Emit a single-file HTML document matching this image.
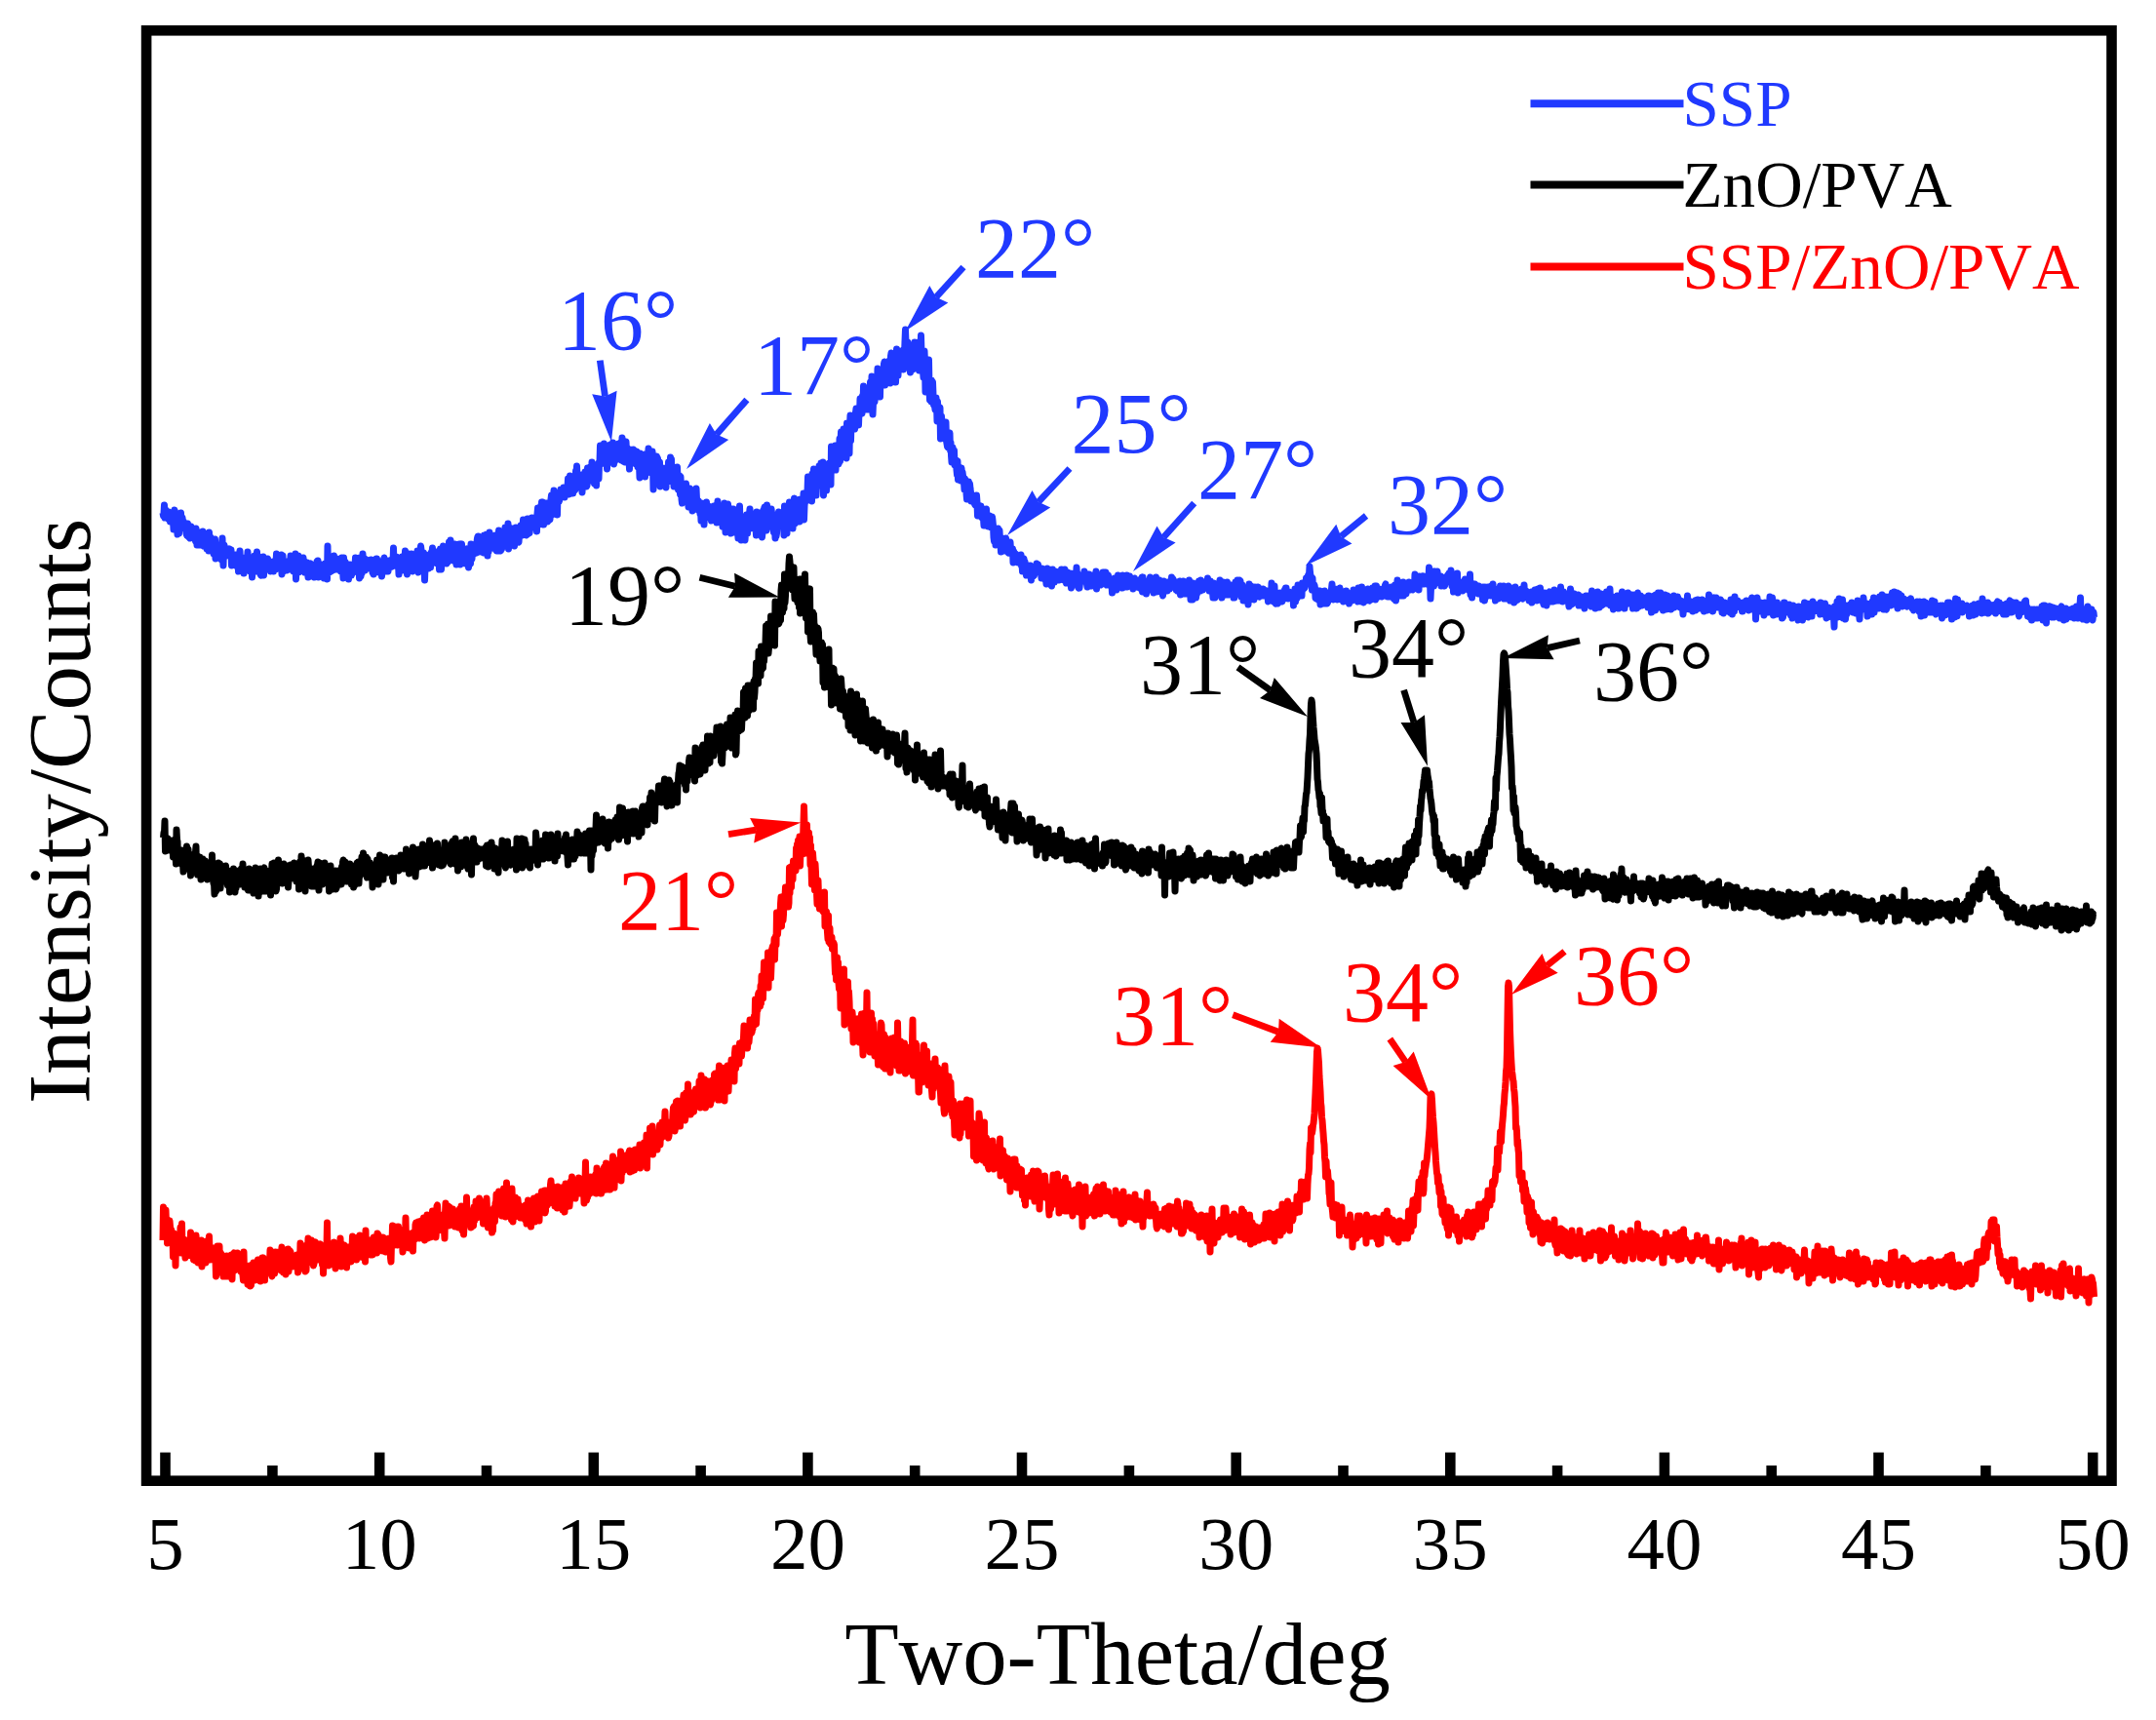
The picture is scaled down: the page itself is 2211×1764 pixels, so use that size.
<!DOCTYPE html>
<html><head><meta charset="utf-8"><title>XRD</title>
<style>
html,body{margin:0;padding:0;background:#fff}
svg{display:block}
text{font-family:"Liberation Serif",serif;font-kerning:none;font-variant-ligatures:none}
.c{fill:none;stroke-width:7;stroke-linejoin:round;stroke-linecap:butt}
.an{font-size:88px}
.tk{font-size:77px;text-anchor:middle}
.lg{font-size:67.2px}
.ax{font-size:90.8px;text-anchor:middle}
</style></head><body>
<svg width="2211" height="1764" viewBox="0 0 2211 1764">
<rect x="0" y="0" width="2211" height="1764" fill="#fff"/>

<path class="c" stroke="#2039ff" d="M167.0,526 167.5,529 168.0,527 168.5,518 169.0,531 169.5,528 170.0,523 170.5,530 171.0,529 171.5,529 172.0,528 172.5,532 173.0,525 173.5,529 174.0,528 174.5,535 175.0,532 175.5,531 176.0,529 176.5,532 177.0,535 177.5,533 178.0,543 178.5,542 179.0,523 179.5,525 180.0,535 180.5,533 181.0,537 181.5,537 182.0,548 182.5,529 183.0,533 183.5,547 184.0,539 184.5,539 185.0,532 185.5,526 186.0,537 186.5,538 187.0,531 187.5,535 188.0,539 188.5,535 189.0,540 189.5,542 190.0,543 190.5,540 191.0,547 191.5,549 192.0,547 192.5,537 193.0,550 193.5,543 194.0,551 194.5,540 195.0,552 195.5,547 196.0,540 196.5,546 197.0,548 197.5,550 198.0,543 198.5,543 199.0,551 199.5,547 200.0,552 200.5,555 201.0,542 201.5,553 202.0,559 202.5,551 203.0,548 203.5,558 204.0,555 204.5,559 205.0,552 205.5,546 206.0,554 206.5,552 207.0,559 207.5,556 208.0,545 208.5,548 209.0,560 209.5,559 210.0,552 210.5,556 211.0,559 211.5,560 212.0,563 212.5,560 213.0,558 213.5,557 214.0,565 214.5,546 215.0,559 215.5,560 216.0,551 216.5,562 217.0,556 217.5,565 218.0,560 218.5,565 219.0,568 219.5,564 220.0,557 220.5,553 221.0,573 221.5,562 222.0,559 222.5,564 223.0,562 223.5,568 224.0,564 224.5,564 225.0,560 225.5,567 226.0,559 226.5,569 227.0,574 227.5,557 228.0,552 228.5,570 229.0,580 229.5,561 230.0,559 230.5,570 231.0,562 231.5,564 232.0,565 232.5,570 233.0,565 233.5,569 234.0,566 234.5,563 235.0,566 235.5,563 236.0,569 236.5,564 237.0,564 237.5,580 238.0,572 238.5,573 239.0,577 239.5,570 240.0,573 240.5,578 241.0,578 241.5,569 242.0,580 242.5,572 243.0,570 243.5,571 244.0,574 244.5,586 245.0,570 245.5,578 246.0,565 246.5,578 247.0,583 247.5,576 248.0,574 248.5,579 249.0,581 249.5,580 250.0,588 250.5,577 251.0,572 251.5,574 252.0,574 252.5,575 253.0,574 253.5,576 254.0,566 254.5,581 255.0,573 255.5,571 256.0,582 256.5,586 257.0,582 257.5,580 258.0,574 258.5,592 259.0,584 259.5,572 260.0,575 260.5,580 261.0,570 261.5,580 262.0,576 262.5,586 263.0,585 263.5,566 264.0,579 264.5,570 265.0,585 265.5,580 266.0,582 266.5,572 267.0,589 267.5,590 268.0,572 268.5,580 269.0,574 269.5,578 270.0,571 270.5,590 271.0,573 271.5,577 272.0,582 272.5,575 273.0,578 273.5,576 274.0,579 274.5,573 275.0,577 275.5,579 276.0,579 276.5,581 277.0,580 277.5,586 278.0,581 278.5,582 279.0,579 279.5,580 280.0,576 280.5,586 281.0,576 281.5,578 282.0,584 282.5,584 283.0,578 283.5,568 284.0,582 284.5,580 285.0,570 285.5,583 286.0,571 286.5,571 287.0,578 287.5,577 288.0,579 288.5,569 289.0,589 289.5,575 290.0,570 290.5,586 291.0,578 291.5,582 292.0,578 292.5,580 293.0,582 293.5,576 294.0,585 294.5,578 295.0,576 295.5,581 296.0,583 296.5,579 297.0,575 297.5,584 298.0,570 298.5,574 299.0,580 299.5,572 300.0,581 300.5,580 301.0,586 301.5,576 302.0,577 302.5,583 303.0,568 303.5,594 304.0,577 304.5,577 305.0,586 305.5,581 306.0,570 306.5,587 307.0,585 307.5,578 308.0,579 308.5,583 309.0,575 309.5,583 310.0,581 310.5,576 311.0,572 311.5,579 312.0,576 312.5,587 313.0,582 313.5,586 314.0,582 314.5,583 315.0,577 315.5,586 316.0,592 316.5,580 317.0,578 317.5,580 318.0,579 318.5,578 319.0,583 319.5,580 320.0,591 320.5,582 321.0,584 321.5,588 322.0,581 322.5,592 323.0,580 323.5,579 324.0,582 324.5,583 325.0,576 325.5,584 326.0,575 326.5,592 327.0,584 327.5,581 328.0,579 328.5,582 329.0,583 329.5,579 330.0,580 330.5,583 331.0,583 331.5,591 332.0,593 332.5,586 333.0,589 333.5,578 334.0,589 334.5,585 335.0,588 335.5,594 336.0,560 336.5,586 337.0,577 337.5,587 338.0,576 338.5,580 339.0,584 339.5,586 340.0,582 340.5,577 341.0,578 341.5,585 342.0,580 342.5,570 343.0,584 343.5,581 344.0,584 344.5,577 345.0,584 345.5,573 346.0,582 346.5,576 347.0,582 347.5,584 348.0,574 348.5,578 349.0,579 349.5,586 350.0,583 350.5,572 351.0,582 351.5,585 352.0,593 352.5,572 353.0,579 353.5,591 354.0,576 354.5,577 355.0,587 355.5,591 356.0,581 356.5,588 357.0,586 357.5,594 358.0,585 358.5,590 359.0,579 359.5,583 360.0,583 360.5,590 361.0,587 361.5,579 362.0,587 362.5,587 363.0,582 363.5,581 364.0,581 364.5,572 365.0,583 365.5,583 366.0,576 366.5,585 367.0,573 367.5,578 368.0,578 368.5,593 369.0,572 369.5,585 370.0,591 370.5,584 371.0,588 371.5,576 372.0,568 372.5,585 373.0,574 373.5,578 374.0,573 374.5,585 375.0,584 375.5,574 376.0,583 376.5,579 377.0,577 377.5,578 378.0,576 378.5,581 379.0,579 379.5,575 380.0,583 380.5,574 381.0,579 381.5,580 382.0,587 382.5,575 383.0,589 383.5,580 384.0,578 384.5,575 385.0,583 385.5,580 386.0,573 386.5,573 387.0,576 387.5,575 388.0,585 388.5,587 389.0,584 389.5,581 390.0,576 390.5,579 391.0,584 391.5,591 392.0,583 392.5,576 393.0,578 393.5,574 394.0,572 394.5,575 395.0,577 395.5,586 396.0,576 396.5,584 397.0,586 397.5,577 398.0,586 398.5,581 399.0,575 399.5,580 400.0,579 400.5,577 401.0,578 401.5,580 402.0,581 402.5,573 403.0,578 403.5,562 404.0,579 404.5,580 405.0,577 405.5,577 406.0,579 406.5,571 407.0,574 407.5,578 408.0,581 408.5,578 409.0,589 409.5,576 410.0,582 410.5,584 411.0,577 411.5,573 412.0,571 412.5,579 413.0,585 413.5,580 414.0,579 414.5,576 415.0,581 415.5,565 416.0,579 416.5,577 417.0,569 417.5,589 418.0,568 418.5,569 419.0,568 419.5,581 420.0,570 420.5,579 421.0,578 421.5,577 422.0,568 422.5,572 423.0,586 423.5,569 424.0,572 424.5,576 425.0,581 425.5,578 426.0,581 426.5,570 427.0,581 427.5,578 428.0,565 428.5,583 429.0,587 429.5,568 430.0,573 430.5,580 431.0,563 431.5,560 432.0,564 432.5,569 433.0,569 433.5,577 434.0,575 434.5,567 435.0,578 435.5,595 436.0,582 436.5,582 437.0,576 437.5,582 438.0,571 438.5,581 439.0,576 439.5,583 440.0,579 440.5,569 441.0,576 441.5,582 442.0,567 442.5,569 443.0,567 443.5,562 444.0,576 444.5,577 445.0,574 445.5,570 446.0,569 446.5,571 447.0,566 447.5,576 448.0,578 448.5,578 449.0,570 449.5,574 450.0,573 450.5,584 451.0,575 451.5,563 452.0,576 452.5,584 453.0,576 453.5,577 454.0,572 454.5,560 455.0,561 455.5,564 456.0,571 456.5,574 457.0,576 457.5,570 458.0,578 458.5,570 459.0,567 459.5,576 460.0,565 460.5,556 461.0,562 461.5,568 462.0,554 462.5,565 463.0,565 463.5,558 464.0,558 464.5,564 465.0,564 465.5,575 466.0,570 466.5,558 467.0,563 467.5,572 468.0,579 468.5,569 469.0,569 469.5,577 470.0,566 470.5,564 471.0,558 471.5,563 472.0,579 472.5,558 473.0,566 473.5,558 474.0,568 474.5,572 475.0,566 475.5,572 476.0,572 476.5,570 477.0,578 477.5,573 478.0,566 478.5,564 479.0,563 479.5,571 480.0,566 480.5,582 481.0,579 481.5,567 482.0,567 482.5,578 483.0,558 483.5,566 484.0,573 484.5,562 485.0,564 485.5,563 486.0,568 486.5,564 487.0,565 487.5,565 488.0,561 488.5,567 489.0,556 489.5,552 490.0,550 490.5,550 491.0,557 491.5,566 492.0,561 492.5,557 493.0,554 493.5,557 494.0,558 494.5,557 495.0,553 495.5,558 496.0,567 496.5,549 497.0,560 497.5,549 498.0,562 498.5,556 499.0,548 499.5,561 500.0,570 500.5,560 501.0,566 501.5,558 502.0,546 502.5,561 503.0,555 503.5,549 504.0,562 504.5,558 505.0,553 505.5,561 506.0,551 506.5,559 507.0,550 507.5,558 508.0,549 508.5,564 509.0,558 509.5,565 510.0,552 510.5,554 511.0,562 511.5,544 512.0,552 512.5,565 513.0,562 513.5,565 514.0,557 514.5,563 515.0,555 515.5,551 516.0,548 516.5,554 517.0,553 517.5,552 518.0,541 518.5,542 519.0,550 519.5,554 520.0,548 520.5,546 521.0,537 521.5,563 522.0,543 522.5,560 523.0,559 523.5,551 524.0,545 524.5,550 525.0,542 525.5,550 526.0,549 526.5,552 527.0,555 527.5,560 528.0,547 528.5,556 529.0,541 529.5,544 530.0,546 530.5,543 531.0,555 531.5,555 532.0,556 532.5,548 533.0,549 533.5,543 534.0,539 534.5,549 535.0,547 535.5,538 536.0,549 536.5,533 537.0,543 537.5,540 538.0,540 538.5,536 539.0,548 539.5,546 540.0,549 540.5,542 541.0,532 541.5,538 542.0,533 542.5,543 543.0,547 543.5,542 544.0,536 544.5,538 545.0,541 545.5,531 546.0,541 546.5,541 547.0,536 547.5,536 548.0,539 548.5,532 549.0,531 549.5,541 550.0,536 550.5,545 551.0,527 551.5,521 552.0,538 552.5,538 553.0,526 553.5,521 554.0,530 554.5,519 555.0,528 555.5,515 556.0,528 556.5,515 557.0,527 557.5,538 558.0,526 558.5,532 559.0,522 559.5,520 560.0,516 560.5,532 561.0,524 561.5,535 562.0,516 562.5,522 563.0,523 563.5,531 564.0,533 564.5,516 565.0,512 565.5,508 566.0,528 566.5,518 567.0,514 567.5,518 568.0,503 568.5,507 569.0,524 569.5,521 570.0,519 570.5,511 571.0,521 571.5,528 572.0,507 572.5,514 573.0,510 573.5,514 574.0,510 574.5,508 575.0,502 575.5,507 576.0,502 576.5,505 577.0,505 577.5,509 578.0,500 578.5,502 579.0,510 579.5,501 580.0,500 580.5,507 581.0,503 581.5,501 582.0,501 582.5,491 583.0,502 583.5,507 584.0,502 584.5,488 585.0,501 585.5,491 586.0,496 586.5,498 587.0,489 587.5,506 588.0,496 588.5,501 589.0,499 589.5,503 590.0,502 590.5,483 591.0,493 591.5,478 592.0,489 592.5,496 593.0,497 593.5,500 594.0,488 594.5,493 595.0,491 595.5,499 596.0,501 596.5,487 597.0,505 597.5,489 598.0,487 598.5,493 599.0,494 599.5,495 600.0,484 600.5,499 601.0,489 601.5,499 602.0,498 602.5,480 603.0,481 603.5,481 604.0,489 604.5,486 605.0,487 605.5,479 606.0,487 606.5,493 607.0,474 607.5,482 608.0,485 608.5,482 609.0,482 609.5,496 610.0,493 610.5,489 611.0,478 611.5,498 612.0,485 612.5,477 613.0,477 613.5,475 614.0,491 614.5,476 615.0,474 615.5,457 616.0,476 616.5,463 617.0,461 617.5,473 618.0,462 618.5,473 619.0,475 619.5,455 620.0,467 620.5,457 621.0,468 621.5,475 622.0,459 622.5,481 623.0,467 623.5,461 624.0,468 624.5,473 625.0,458 625.5,466 626.0,456 626.5,473 627.0,465 627.5,460 628.0,470 628.5,454 629.0,460 629.5,476 630.0,462 630.5,473 631.0,465 631.5,459 632.0,463 632.5,465 633.0,462 633.5,459 634.0,460 634.5,455 635.0,466 635.5,468 636.0,471 636.5,454 637.0,472 637.5,467 638.0,449 638.5,468 639.0,473 639.5,471 640.0,473 640.5,474 641.0,474 641.5,467 642.0,453 642.5,462 643.0,470 643.5,465 644.0,473 644.5,474 645.0,469 645.5,481 646.0,461 646.5,475 647.0,465 647.5,463 648.0,472 648.5,464 649.0,475 649.5,461 650.0,469 650.5,464 651.0,468 651.5,468 652.0,463 652.5,476 653.0,463 653.5,465 654.0,479 654.5,479 655.0,478 655.5,476 656.0,490 656.5,465 657.0,469 657.5,467 658.0,481 658.5,477 659.0,482 659.5,481 660.0,472 660.5,468 661.0,466 661.5,489 662.0,480 662.5,478 663.0,472 663.5,473 664.0,473 664.5,474 665.0,460 665.5,477 666.0,475 666.5,480 667.0,480 667.5,485 668.0,479 668.5,485 669.0,463 669.5,472 670.0,502 670.5,471 671.0,479 671.5,486 672.0,470 672.5,487 673.0,472 673.5,468 674.0,472 674.5,470 675.0,482 675.5,479 676.0,484 676.5,474 677.0,499 677.5,482 678.0,483 678.5,487 679.0,483 679.5,480 680.0,486 680.5,493 681.0,495 681.5,493 682.0,482 682.5,480 683.0,500 683.5,483 684.0,488 684.5,489 685.0,494 685.5,474 686.0,481 686.5,481 687.0,483 687.5,469 688.0,486 688.5,471 689.0,491 689.5,494 690.0,495 690.5,482 691.0,499 691.5,486 692.0,483 692.5,485 693.0,487 693.5,494 694.0,499 694.5,479 695.0,491 695.5,502 696.0,498 696.5,501 697.0,488 697.5,507 698.0,489 698.5,503 699.0,512 699.5,516 700.0,507 700.5,510 701.0,500 701.5,501 702.0,513 702.5,505 703.0,505 703.5,496 704.0,507 704.5,511 705.0,501 705.5,504 706.0,520 706.5,510 707.0,507 707.5,501 708.0,505 708.5,508 709.0,520 709.5,506 710.0,524 710.5,504 711.0,508 711.5,517 712.0,510 712.5,506 713.0,511 713.5,516 714.0,501 714.5,512 715.0,514 715.5,513 716.0,523 716.5,514 717.0,517 717.5,521 718.0,527 718.5,521 719.0,534 719.5,516 720.0,533 720.5,517 721.0,522 721.5,528 722.0,538 722.5,529 723.0,519 723.5,531 724.0,520 724.5,515 725.0,525 725.5,522 726.0,529 726.5,519 727.0,526 727.5,529 728.0,527 728.5,526 729.0,521 729.5,534 730.0,528 730.5,531 731.0,525 731.5,527 732.0,519 732.5,527 733.0,532 733.5,527 734.0,533 734.5,528 735.0,536 735.5,525 736.0,514 736.5,530 737.0,525 737.5,520 738.0,532 738.5,529 739.0,530 739.5,524 740.0,528 740.5,528 741.0,540 741.5,521 742.0,527 742.5,530 743.0,516 743.5,517 744.0,546 744.5,517 745.0,535 745.5,520 746.0,526 746.5,517 747.0,525 747.5,538 748.0,521 748.5,536 749.0,534 749.5,547 750.0,528 750.5,542 751.0,540 751.5,531 752.0,522 752.5,546 753.0,525 753.5,531 754.0,542 754.5,543 755.0,528 755.5,535 756.0,533 756.5,544 757.0,552 757.5,522 758.0,543 758.5,519 759.0,538 759.5,530 760.0,554 760.5,542 761.0,535 761.5,538 762.0,538 762.5,544 763.0,541 763.5,547 764.0,554 764.5,547 765.0,532 765.5,528 766.0,534 766.5,547 767.0,536 767.5,533 768.0,539 768.5,527 769.0,522 769.5,542 770.0,536 770.5,535 771.0,541 771.5,534 772.0,533 772.5,534 773.0,542 773.5,537 774.0,527 774.5,533 775.0,540 775.5,549 776.0,525 776.5,536 777.0,531 777.5,539 778.0,536 778.5,544 779.0,537 779.5,529 780.0,529 780.5,536 781.0,536 781.5,551 782.0,546 782.5,524 783.0,535 783.5,522 784.0,520 784.5,538 785.0,536 785.5,524 786.0,544 786.5,518 787.0,523 787.5,537 788.0,534 788.5,532 789.0,533 789.5,538 790.0,534 790.5,535 791.0,522 791.5,526 792.0,541 792.5,531 793.0,541 793.5,546 794.0,533 794.5,538 795.0,552 795.5,541 796.0,550 796.5,547 797.0,541 797.5,534 798.0,528 798.5,525 799.0,537 799.5,536 800.0,531 800.5,538 801.0,526 801.5,539 802.0,531 802.5,530 803.0,530 803.5,530 804.0,549 804.5,519 805.0,533 805.5,542 806.0,538 806.5,530 807.0,547 807.5,525 808.0,523 808.5,538 809.0,522 809.5,515 810.0,539 810.5,537 811.0,537 811.5,526 812.0,531 812.5,521 813.0,542 813.5,534 814.0,533 814.5,511 815.0,532 815.5,537 816.0,535 816.5,531 817.0,525 817.5,521 818.0,528 818.5,526 819.0,525 819.5,520 820.0,535 820.5,512 821.0,520 821.5,515 822.0,528 822.5,530 823.0,528 823.5,524 824.0,506 824.5,533 825.0,519 825.5,513 826.0,513 826.5,509 827.0,514 827.5,512 828.0,505 828.5,489 829.0,506 829.5,509 830.0,509 830.5,503 831.0,510 831.5,511 832.0,499 832.5,514 833.0,486 833.5,491 834.0,493 834.5,481 835.0,491 835.5,507 836.0,506 836.5,496 837.0,508 837.5,495 838.0,488 838.5,494 839.0,490 839.5,497 840.0,478 840.5,498 841.0,485 841.5,495 842.0,475 842.5,484 843.0,487 843.5,492 844.0,474 844.5,508 845.0,487 845.5,478 846.0,493 846.5,484 847.0,493 847.5,503 848.0,490 848.5,480 849.0,481 849.5,488 850.0,485 850.5,475 851.0,475 851.5,485 852.0,497 852.5,458 853.0,482 853.5,474 854.0,481 854.5,481 855.0,474 855.5,465 856.0,461 856.5,457 857.0,482 857.5,469 858.0,465 858.5,467 859.0,457 859.5,469 860.0,476 860.5,474 861.0,450 861.5,473 862.0,454 862.5,443 863.0,447 863.5,448 864.0,455 864.5,445 865.0,440 865.5,450 866.0,468 866.5,446 867.0,456 867.5,452 868.0,470 868.5,434 869.0,459 869.5,438 870.0,443 870.5,446 871.0,465 871.5,437 872.0,426 872.5,452 873.0,433 873.5,436 874.0,437 874.5,437 875.0,434 875.5,437 876.0,437 876.5,440 877.0,427 877.5,423 878.0,419 878.5,431 879.0,424 879.5,428 880.0,427 880.5,436 881.0,422 881.5,426 882.0,409 882.5,410 883.0,416 883.5,408 884.0,424 884.5,406 885.0,418 885.5,396 886.0,406 886.5,412 887.0,412 887.5,398 888.0,413 888.5,420 889.0,416 889.5,404 890.0,404 890.5,398 891.0,414 891.5,420 892.0,403 892.5,392 893.0,409 893.5,413 894.0,386 894.5,408 895.0,425 895.5,413 896.0,410 896.5,407 897.0,412 897.5,393 898.0,392 898.5,402 899.0,391 899.5,399 900.0,378 900.5,402 901.0,402 901.5,394 902.0,395 902.5,407 903.0,383 903.5,384 904.0,381 904.5,386 905.0,380 905.5,389 906.0,381 906.5,373 907.0,371 907.5,395 908.0,383 908.5,379 909.0,382 909.5,381 910.0,388 910.5,386 911.0,375 911.5,373 912.0,370 912.5,369 913.0,393 913.5,365 914.0,362 914.5,366 915.0,372 915.5,381 916.0,369 916.5,381 917.0,378 917.5,385 918.0,392 918.5,392 919.0,382 919.5,358 920.0,364 920.5,369 921.0,385 921.5,372 922.0,376 922.5,363 923.0,370 923.5,371 924.0,360 924.5,371 925.0,373 925.5,361 926.0,373 926.5,379 927.0,364 927.5,364 928.0,350 928.5,338 929.0,352 929.5,361 930.0,363 930.5,358 931.0,351 931.5,357 932.0,370 932.5,354 933.0,359 933.5,382 934.0,376 934.5,356 935.0,369 935.5,355 936.0,379 936.5,354 937.0,361 937.5,375 938.0,351 938.5,375 939.0,352 939.5,364 940.0,358 940.5,360 941.0,363 941.5,361 942.0,351 942.5,380 943.0,371 943.5,378 944.0,362 944.5,344 945.0,362 945.5,380 946.0,362 946.5,380 947.0,387 947.5,367 948.0,360 948.5,372 949.0,402 949.5,382 950.0,369 950.5,381 951.0,375 951.5,383 952.0,391 952.5,369 953.0,398 953.5,410 954.0,396 954.5,396 955.0,412 955.5,390 956.0,392 956.5,392 957.0,405 957.5,415 958.0,408 958.5,416 959.0,420 959.5,419 960.0,408 960.5,413 961.0,432 961.5,412 962.0,422 962.5,422 963.0,425 963.5,419 964.0,418 964.5,450 965.0,440 965.5,427 966.0,433 966.5,441 967.0,435 967.5,444 968.0,436 968.5,440 969.0,445 969.5,444 970.0,433 970.5,452 971.0,455 971.5,458 972.0,449 972.5,459 973.0,459 973.5,446 974.0,444 974.5,462 975.0,454 975.5,467 976.0,474 976.5,459 977.0,459 977.5,465 978.0,470 978.5,462 979.0,477 979.5,477 980.0,477 980.5,472 981.0,482 981.5,487 982.0,473 982.5,492 983.0,481 983.5,486 984.0,482 984.5,488 985.0,493 985.5,483 986.0,480 986.5,487 987.0,484 987.5,488 988.0,492 988.5,494 989.0,502 989.5,491 990.0,500 990.5,495 991.0,506 991.5,512 992.0,502 992.5,510 993.0,499 993.5,494 994.0,497 994.5,496 995.0,501 995.5,505 996.0,514 996.5,513 997.0,513 997.5,509 998.0,509 998.5,514 999.0,515 999.5,517 1000.0,518 1000.5,517 1001.0,508 1001.5,508 1002.0,515 1002.5,529 1003.0,519 1003.5,525 1004.0,529 1004.5,524 1005.0,521 1005.5,522 1006.0,519 1006.5,526 1007.0,531 1007.5,529 1008.0,531 1008.5,532 1009.0,539 1009.5,527 1010.0,532 1010.5,535 1011.0,539 1011.5,522 1012.0,532 1012.5,534 1013.0,530 1013.5,540 1014.0,538 1014.5,535 1015.0,529 1015.5,531 1016.0,534 1016.5,541 1017.0,534 1017.5,530 1018.0,534 1018.5,539 1019.0,551 1019.5,555 1020.0,542 1020.5,550 1021.0,559 1021.5,554 1022.0,548 1022.5,543 1023.0,548 1023.5,542 1024.0,553 1024.5,559 1025.0,544 1025.5,554 1026.0,556 1026.5,566 1027.0,562 1027.5,559 1028.0,552 1028.5,554 1029.0,562 1029.5,554 1030.0,557 1030.5,565 1031.0,559 1031.5,552 1032.0,558 1032.5,565 1033.0,559 1033.5,566 1034.0,567 1034.5,558 1035.0,559 1035.5,561 1036.0,556 1036.5,564 1037.0,563 1037.5,568 1038.0,563 1038.5,563 1039.0,577 1039.5,565 1040.0,567 1040.5,568 1041.0,570 1041.5,568 1042.0,572 1042.5,570 1043.0,571 1043.5,575 1044.0,577 1044.5,576 1045.0,571 1045.5,577 1046.0,575 1046.5,575 1047.0,569 1047.5,580 1048.0,577 1048.5,586 1049.0,582 1049.5,574 1050.0,573 1050.5,585 1051.0,576 1051.5,583 1052.0,579 1052.5,590 1053.0,581 1053.5,588 1054.0,588 1054.5,580 1055.0,581 1055.5,590 1056.0,584 1056.5,580 1057.0,590 1057.5,595 1058.0,585 1058.5,591 1059.0,584 1059.5,591 1060.0,582 1060.5,590 1061.0,586 1061.5,583 1062.0,585 1062.5,581 1063.0,578 1063.5,579 1064.0,583 1064.5,579 1065.0,586 1065.5,587 1066.0,587 1066.5,583 1067.0,586 1067.5,586 1068.0,593 1068.5,583 1069.0,586 1069.5,587 1070.0,588 1070.5,585 1071.0,586 1071.5,594 1072.0,587 1072.5,594 1073.0,599 1073.5,596 1074.0,583 1074.5,594 1075.0,593 1075.5,594 1076.0,584 1076.5,595 1077.0,587 1077.5,597 1078.0,596 1078.5,601 1079.0,589 1079.5,584 1080.0,596 1080.5,595 1081.0,589 1081.5,597 1082.0,594 1082.5,586 1083.0,590 1083.5,590 1084.0,591 1084.5,593 1085.0,589 1085.5,591 1086.0,595 1086.5,592 1087.0,591 1087.5,591 1088.0,592 1088.5,584 1089.0,593 1089.5,588 1090.0,592 1090.5,585 1091.0,595 1091.5,592 1092.0,584 1092.5,591 1093.0,586 1093.5,598 1094.0,592 1094.5,587 1095.0,592 1095.5,591 1096.0,597 1096.5,594 1097.0,595 1097.5,588 1098.0,597 1098.5,603 1099.0,596 1099.5,593 1100.0,594 1100.5,589 1101.0,594 1101.5,588 1102.0,593 1102.5,592 1103.0,590 1103.5,596 1104.0,582 1104.5,594 1105.0,588 1105.5,602 1106.0,603 1106.5,598 1107.0,603 1107.5,597 1108.0,597 1108.5,592 1109.0,590 1109.5,594 1110.0,591 1110.5,591 1111.0,596 1111.5,593 1112.0,586 1112.5,592 1113.0,590 1113.5,592 1114.0,589 1114.5,599 1115.0,602 1115.5,589 1116.0,597 1116.5,597 1117.0,589 1117.5,594 1118.0,600 1118.5,598 1119.0,601 1119.5,590 1120.0,592 1120.5,597 1121.0,597 1121.5,596 1122.0,595 1122.5,595 1123.0,594 1123.5,599 1124.0,586 1124.5,604 1125.0,594 1125.5,590 1126.0,599 1126.5,590 1127.0,597 1127.5,594 1128.0,598 1128.5,598 1129.0,600 1129.5,592 1130.0,592 1130.5,593 1131.0,587 1131.5,595 1132.0,593 1132.5,587 1133.0,598 1133.5,599 1134.0,587 1134.5,596 1135.0,600 1135.5,599 1136.0,591 1136.5,590 1137.0,596 1137.5,595 1138.0,598 1138.5,598 1139.0,601 1139.5,596 1140.0,598 1140.5,608 1141.0,597 1141.5,601 1142.0,600 1142.5,598 1143.0,593 1143.5,599 1144.0,596 1144.5,599 1145.0,605 1145.5,596 1146.0,598 1146.5,590 1147.0,595 1147.5,601 1148.0,594 1148.5,591 1149.0,595 1149.5,593 1150.0,593 1150.5,592 1151.0,603 1151.5,590 1152.0,592 1152.5,592 1153.0,600 1153.5,593 1154.0,601 1154.5,596 1155.0,596 1155.5,590 1156.0,602 1156.5,599 1157.0,599 1157.5,596 1158.0,595 1158.5,591 1159.0,601 1159.5,598 1160.0,595 1160.5,594 1161.0,597 1161.5,596 1162.0,604 1162.5,601 1163.0,595 1163.5,593 1164.0,597 1164.5,595 1165.0,599 1165.5,601 1166.0,602 1166.5,601 1167.0,598 1167.5,602 1168.0,595 1168.5,599 1169.0,603 1169.5,601 1170.0,594 1170.5,594 1171.0,592 1171.5,607 1172.0,592 1172.5,598 1173.0,607 1173.5,603 1174.0,604 1174.5,596 1175.0,602 1175.5,609 1176.0,599 1176.5,601 1177.0,598 1177.5,599 1178.0,601 1178.5,605 1179.0,595 1179.5,592 1180.0,598 1180.5,599 1181.0,604 1181.5,601 1182.0,595 1182.5,601 1183.0,608 1183.5,600 1184.0,598 1184.5,603 1185.0,598 1185.5,592 1186.0,607 1186.5,595 1187.0,600 1187.5,600 1188.0,600 1188.5,600 1189.0,595 1189.5,604 1190.0,602 1190.5,602 1191.0,607 1191.5,608 1192.0,609 1192.5,611 1193.0,605 1193.5,596 1194.0,604 1194.5,603 1195.0,603 1195.5,600 1196.0,599 1196.5,606 1197.0,606 1197.5,597 1198.0,604 1198.5,601 1199.0,600 1199.5,604 1200.0,601 1200.5,599 1201.0,601 1201.5,592 1202.0,598 1202.5,598 1203.0,594 1203.5,601 1204.0,601 1204.5,597 1205.0,599 1205.5,603 1206.0,605 1206.5,597 1207.0,602 1207.5,606 1208.0,601 1208.5,598 1209.0,598 1209.5,599 1210.0,596 1210.5,610 1211.0,598 1211.5,602 1212.0,601 1212.5,604 1213.0,599 1213.5,596 1214.0,609 1214.5,602 1215.0,603 1215.5,604 1216.0,609 1216.5,607 1217.0,609 1217.5,607 1218.0,604 1218.5,605 1219.0,600 1219.5,595 1220.0,603 1220.5,600 1221.0,615 1221.5,612 1222.0,611 1222.5,603 1223.0,615 1223.5,598 1224.0,601 1224.5,603 1225.0,602 1225.5,606 1226.0,606 1226.5,613 1227.0,609 1227.5,609 1228.0,605 1228.5,602 1229.0,600 1229.5,596 1230.0,599 1230.5,601 1231.0,606 1231.5,595 1232.0,597 1232.5,604 1233.0,599 1233.5,605 1234.0,602 1234.5,600 1235.0,597 1235.5,602 1236.0,599 1236.5,599 1237.0,599 1237.5,602 1238.0,602 1238.5,593 1239.0,600 1239.5,603 1240.0,606 1240.5,605 1241.0,602 1241.5,596 1242.0,598 1242.5,606 1243.0,599 1243.5,607 1244.0,613 1244.5,598 1245.0,605 1245.5,603 1246.0,613 1246.5,607 1247.0,601 1247.5,606 1248.0,600 1248.5,603 1249.0,605 1249.5,604 1250.0,605 1250.5,599 1251.0,595 1251.5,601 1252.0,599 1252.5,600 1253.0,613 1253.5,609 1254.0,603 1254.5,597 1255.0,598 1255.5,606 1256.0,610 1256.5,603 1257.0,605 1257.5,606 1258.0,610 1258.5,597 1259.0,606 1259.5,607 1260.0,610 1260.5,608 1261.0,601 1261.5,604 1262.0,600 1262.5,608 1263.0,608 1263.5,609 1264.0,602 1264.5,601 1265.0,613 1265.5,606 1266.0,613 1266.5,606 1267.0,597 1267.5,608 1268.0,609 1268.5,602 1269.0,595 1269.5,607 1270.0,603 1270.5,606 1271.0,595 1271.5,608 1272.0,596 1272.5,600 1273.0,612 1273.5,600 1274.0,600 1274.5,606 1275.0,616 1275.5,616 1276.0,606 1276.5,613 1277.0,611 1277.5,610 1278.0,611 1278.5,606 1279.0,613 1279.5,614 1280.0,620 1280.5,614 1281.0,599 1281.5,604 1282.0,611 1282.5,610 1283.0,601 1283.5,609 1284.0,608 1284.5,609 1285.0,608 1285.5,613 1286.0,615 1286.5,611 1287.0,602 1287.5,603 1288.0,604 1288.5,606 1289.0,604 1289.5,605 1290.0,602 1290.5,611 1291.0,611 1291.5,612 1292.0,607 1292.5,610 1293.0,604 1293.5,604 1294.0,606 1294.5,611 1295.0,608 1295.5,604 1296.0,609 1296.5,611 1297.0,610 1297.5,606 1298.0,609 1298.5,607 1299.0,606 1299.5,608 1300.0,612 1300.5,617 1301.0,615 1301.5,611 1302.0,606 1302.5,606 1303.0,607 1303.5,613 1304.0,598 1304.5,610 1305.0,600 1305.5,610 1306.0,617 1306.5,607 1307.0,601 1307.5,618 1308.0,619 1308.5,614 1309.0,618 1309.5,608 1310.0,617 1310.5,619 1311.0,614 1311.5,612 1312.0,617 1312.5,616 1313.0,608 1313.5,617 1314.0,615 1314.5,612 1315.0,617 1315.5,615 1316.0,614 1316.5,608 1317.0,614 1317.5,605 1318.0,610 1318.5,603 1319.0,603 1319.5,613 1320.0,610 1320.5,611 1321.0,614 1321.5,613 1322.0,607 1322.5,612 1323.0,611 1323.5,609 1324.0,611 1324.5,610 1325.0,608 1325.5,610 1326.0,612 1326.5,621 1327.0,607 1327.5,613 1328.0,604 1328.5,617 1329.0,608 1329.5,609 1330.0,614 1330.5,612 1331.0,600 1331.5,611 1332.0,605 1332.5,609 1333.0,606 1333.5,609 1334.0,607 1334.5,605 1335.0,611 1335.5,598 1336.0,603 1336.5,600 1337.0,604 1337.5,602 1338.0,603 1338.5,601 1339.0,600 1339.5,593 1340.0,599 1340.5,598 1341.0,592 1341.5,590 1342.0,589 1342.5,590 1343.0,581 1343.5,587 1344.0,591 1344.5,591 1345.0,592 1345.5,605 1346.0,593 1346.5,605 1347.0,605 1347.5,605 1348.0,600 1348.5,603 1349.0,613 1349.5,606 1350.0,614 1350.5,613 1351.0,614 1351.5,615 1352.0,606 1352.5,610 1353.0,615 1353.5,606 1354.0,620 1354.5,610 1355.0,612 1355.5,608 1356.0,614 1356.5,609 1357.0,612 1357.5,608 1358.0,619 1358.5,606 1359.0,616 1359.5,615 1360.0,616 1360.5,610 1361.0,619 1361.5,618 1362.0,614 1362.5,615 1363.0,612 1363.5,615 1364.0,608 1364.5,614 1365.0,613 1365.5,604 1366.0,599 1366.5,609 1367.0,608 1367.5,615 1368.0,610 1368.5,608 1369.0,604 1369.5,610 1370.0,607 1370.5,605 1371.0,610 1371.5,615 1372.0,610 1372.5,605 1373.0,611 1373.5,605 1374.0,603 1374.5,612 1375.0,607 1375.5,615 1376.0,612 1376.5,607 1377.0,612 1377.5,617 1378.0,610 1378.5,607 1379.0,609 1379.5,608 1380.0,606 1380.5,606 1381.0,613 1381.5,616 1382.0,610 1382.5,615 1383.0,615 1383.5,619 1384.0,610 1384.5,609 1385.0,613 1385.5,611 1386.0,612 1386.5,616 1387.0,608 1387.5,611 1388.0,605 1388.5,609 1389.0,607 1389.5,606 1390.0,609 1390.5,608 1391.0,613 1391.5,615 1392.0,605 1392.5,617 1393.0,603 1393.5,614 1394.0,616 1394.5,610 1395.0,612 1395.5,609 1396.0,617 1396.5,602 1397.0,608 1397.5,604 1398.0,613 1398.5,618 1399.0,617 1399.5,615 1400.0,612 1400.5,607 1401.0,616 1401.5,613 1402.0,606 1402.5,604 1403.0,607 1403.5,614 1404.0,615 1404.5,616 1405.0,605 1405.5,607 1406.0,615 1406.5,610 1407.0,612 1407.5,603 1408.0,607 1408.5,608 1409.0,607 1409.5,606 1410.0,601 1410.5,615 1411.0,608 1411.5,601 1412.0,613 1412.5,608 1413.0,611 1413.5,607 1414.0,604 1414.5,604 1415.0,609 1415.5,611 1416.0,609 1416.5,610 1417.0,612 1417.5,608 1418.0,611 1418.5,611 1419.0,607 1419.5,606 1420.0,602 1420.5,600 1421.0,599 1421.5,611 1422.0,605 1422.5,603 1423.0,612 1423.5,609 1424.0,605 1424.5,609 1425.0,603 1425.5,605 1426.0,612 1426.5,608 1427.0,602 1427.5,607 1428.0,609 1428.5,604 1429.0,603 1429.5,614 1430.0,604 1430.5,600 1431.0,607 1431.5,616 1432.0,609 1432.5,610 1433.0,595 1433.5,602 1434.0,610 1434.5,602 1435.0,609 1435.5,605 1436.0,605 1436.5,611 1437.0,601 1437.5,602 1438.0,605 1438.5,606 1439.0,597 1439.5,611 1440.0,606 1440.5,604 1441.0,608 1441.5,603 1442.0,609 1442.5,604 1443.0,606 1443.5,598 1444.0,601 1444.5,603 1445.0,597 1445.5,598 1446.0,600 1446.5,605 1447.0,603 1447.5,603 1448.0,600 1448.5,602 1449.0,605 1449.5,599 1450.0,600 1450.5,601 1451.0,589 1451.5,597 1452.0,600 1452.5,601 1453.0,596 1453.5,602 1454.0,595 1454.5,597 1455.0,605 1455.5,591 1456.0,597 1456.5,596 1457.0,596 1457.5,594 1458.0,599 1458.5,592 1459.0,591 1459.5,599 1460.0,591 1460.5,599 1461.0,597 1461.5,594 1462.0,596 1462.5,597 1463.0,599 1463.5,594 1464.0,596 1464.5,591 1465.0,596 1465.5,582 1466.0,597 1466.5,595 1467.0,614 1467.5,603 1468.0,597 1468.5,601 1469.0,598 1469.5,592 1470.0,586 1470.5,601 1471.0,597 1471.5,586 1472.0,598 1472.5,598 1473.0,591 1473.5,597 1474.0,586 1474.5,593 1475.0,594 1475.5,597 1476.0,596 1476.5,595 1477.0,597 1477.5,591 1478.0,601 1478.5,593 1479.0,598 1479.5,595 1480.0,594 1480.5,597 1481.0,597 1481.5,601 1482.0,599 1482.5,592 1483.0,597 1483.5,595 1484.0,591 1484.5,590 1485.0,596 1485.5,592 1486.0,588 1486.5,594 1487.0,595 1487.5,595 1488.0,585 1488.5,592 1489.0,601 1489.5,592 1490.0,595 1490.5,607 1491.0,599 1491.5,596 1492.0,590 1492.5,601 1493.0,594 1493.5,600 1494.0,597 1494.5,588 1495.0,608 1495.5,600 1496.0,605 1496.5,604 1497.0,597 1497.5,600 1498.0,598 1498.5,603 1499.0,601 1499.5,597 1500.0,606 1500.5,601 1501.0,601 1501.5,596 1502.0,601 1502.5,594 1503.0,603 1503.5,597 1504.0,603 1504.5,601 1505.0,604 1505.5,605 1506.0,603 1506.5,604 1507.0,598 1507.5,589 1508.0,610 1508.5,607 1509.0,598 1509.5,613 1510.0,601 1510.5,607 1511.0,607 1511.5,605 1512.0,607 1512.5,599 1513.0,605 1513.5,604 1514.0,605 1514.5,604 1515.0,602 1515.5,602 1516.0,609 1516.5,601 1517.0,607 1517.5,607 1518.0,605 1518.5,607 1519.0,608 1519.5,603 1520.0,607 1520.5,615 1521.0,602 1521.5,605 1522.0,604 1522.5,616 1523.0,602 1523.5,608 1524.0,612 1524.5,604 1525.0,607 1525.5,605 1526.0,602 1526.5,607 1527.0,609 1527.5,605 1528.0,607 1528.5,609 1529.0,611 1529.5,601 1530.0,609 1530.5,604 1531.0,599 1531.5,604 1532.0,611 1532.5,610 1533.0,604 1533.5,616 1534.0,611 1534.5,609 1535.0,607 1535.5,611 1536.0,607 1536.5,614 1537.0,610 1537.5,611 1538.0,607 1538.5,601 1539.0,610 1539.5,603 1540.0,607 1540.5,607 1541.0,604 1541.5,611 1542.0,601 1542.5,614 1543.0,605 1543.5,612 1544.0,614 1544.5,604 1545.0,605 1545.5,613 1546.0,609 1546.5,609 1547.0,601 1547.5,602 1548.0,612 1548.5,616 1549.0,607 1549.5,607 1550.0,612 1550.5,613 1551.0,614 1551.5,610 1552.0,603 1552.5,618 1553.0,609 1553.5,617 1554.0,602 1554.5,612 1555.0,608 1555.5,605 1556.0,614 1556.5,615 1557.0,605 1557.5,612 1558.0,605 1558.5,606 1559.0,608 1559.5,607 1560.0,612 1560.5,604 1561.0,613 1561.5,614 1562.0,609 1562.5,605 1563.0,600 1563.5,610 1564.0,607 1564.5,611 1565.0,606 1565.5,611 1566.0,611 1566.5,611 1567.0,613 1567.5,613 1568.0,616 1568.5,608 1569.0,615 1569.5,612 1570.0,610 1570.5,607 1571.0,618 1571.5,612 1572.0,609 1572.5,612 1573.0,611 1573.5,609 1574.0,605 1574.5,612 1575.0,610 1575.5,610 1576.0,616 1576.5,606 1577.0,604 1577.5,613 1578.0,615 1578.5,614 1579.0,615 1579.5,603 1580.0,614 1580.5,614 1581.0,616 1581.5,610 1582.0,615 1582.5,618 1583.0,620 1583.5,615 1584.0,608 1584.5,614 1585.0,616 1585.5,616 1586.0,621 1586.5,612 1587.0,608 1587.5,609 1588.0,615 1588.5,608 1589.0,607 1589.5,608 1590.0,617 1590.5,613 1591.0,611 1591.5,616 1592.0,616 1592.5,609 1593.0,617 1593.5,615 1594.0,605 1594.5,609 1595.0,615 1595.5,616 1596.0,613 1596.5,610 1597.0,615 1597.5,606 1598.0,616 1598.5,613 1599.0,613 1599.5,610 1600.0,616 1600.5,602 1601.0,607 1601.5,613 1602.0,608 1602.5,617 1603.0,612 1603.5,607 1604.0,616 1604.5,611 1605.0,614 1605.5,610 1606.0,610 1606.5,616 1607.0,614 1607.5,611 1608.0,611 1608.5,618 1609.0,622 1609.5,611 1610.0,617 1610.5,604 1611.0,608 1611.5,617 1612.0,620 1612.5,614 1613.0,616 1613.5,614 1614.0,618 1614.5,609 1615.0,616 1615.5,612 1616.0,613 1616.5,614 1617.0,613 1617.5,611 1618.0,613 1618.5,610 1619.0,621 1619.5,617 1620.0,613 1620.5,621 1621.0,620 1621.5,616 1622.0,612 1622.5,615 1623.0,617 1623.5,620 1624.0,614 1624.5,612 1625.0,624 1625.5,621 1626.0,616 1626.5,611 1627.0,617 1627.5,619 1628.0,618 1628.5,618 1629.0,614 1629.5,619 1630.0,611 1630.5,612 1631.0,610 1631.5,611 1632.0,622 1632.5,606 1633.0,615 1633.5,610 1634.0,609 1634.5,615 1635.0,608 1635.5,614 1636.0,624 1636.5,614 1637.0,616 1637.5,610 1638.0,616 1638.5,607 1639.0,615 1639.5,613 1640.0,623 1640.5,614 1641.0,613 1641.5,612 1642.0,609 1642.5,618 1643.0,621 1643.5,613 1644.0,618 1644.5,613 1645.0,617 1645.5,618 1646.0,609 1646.5,609 1647.0,619 1647.5,607 1648.0,615 1648.5,613 1649.0,610 1649.5,614 1650.0,615 1650.5,616 1651.0,604 1651.5,621 1652.0,612 1652.5,619 1653.0,614 1653.5,612 1654.0,615 1654.5,625 1655.0,622 1655.5,614 1656.0,617 1656.5,621 1657.0,619 1657.5,617 1658.0,615 1658.5,611 1659.0,619 1659.5,620 1660.0,624 1660.5,612 1661.0,617 1661.5,614 1662.0,619 1662.5,613 1663.0,611 1663.5,607 1664.0,617 1664.5,615 1665.0,619 1665.5,612 1666.0,624 1666.5,612 1667.0,617 1667.5,617 1668.0,620 1668.5,615 1669.0,612 1669.5,608 1670.0,619 1670.5,616 1671.0,618 1671.5,613 1672.0,617 1672.5,617 1673.0,619 1673.5,610 1674.0,613 1674.5,624 1675.0,615 1675.5,616 1676.0,614 1676.5,610 1677.0,611 1677.5,617 1678.0,613 1678.5,624 1679.0,610 1679.5,608 1680.0,615 1680.5,611 1681.0,622 1681.5,615 1682.0,619 1682.5,611 1683.0,619 1683.5,619 1684.0,621 1684.5,617 1685.0,618 1685.5,616 1686.0,619 1686.5,613 1687.0,619 1687.5,613 1688.0,618 1688.5,614 1689.0,613 1689.5,614 1690.0,623 1690.5,611 1691.0,611 1691.5,621 1692.0,614 1692.5,616 1693.0,616 1693.5,628 1694.0,615 1694.5,615 1695.0,616 1695.5,619 1696.0,620 1696.5,611 1697.0,619 1697.5,626 1698.0,610 1698.5,620 1699.0,621 1699.5,618 1700.0,617 1700.5,608 1701.0,623 1701.5,616 1702.0,617 1702.5,623 1703.0,608 1703.5,618 1704.0,620 1704.5,621 1705.0,620 1705.5,626 1706.0,618 1706.5,621 1707.0,620 1707.5,610 1708.0,613 1708.5,625 1709.0,615 1709.5,616 1710.0,611 1710.5,616 1711.0,612 1711.5,613 1712.0,621 1712.5,615 1713.0,616 1713.5,625 1714.0,621 1714.5,622 1715.0,624 1715.5,618 1716.0,618 1716.5,611 1717.0,623 1717.5,619 1718.0,619 1718.5,615 1719.0,622 1719.5,621 1720.0,619 1720.5,612 1721.0,615 1721.5,618 1722.0,615 1722.5,620 1723.0,623 1723.5,616 1724.0,618 1724.5,617 1725.0,624 1725.5,624 1726.0,630 1726.5,620 1727.0,617 1727.5,622 1728.0,619 1728.5,621 1729.0,625 1729.5,619 1730.0,623 1730.5,611 1731.0,624 1731.5,620 1732.0,618 1732.5,617 1733.0,625 1733.5,617 1734.0,624 1734.5,617 1735.0,619 1735.5,620 1736.0,627 1736.5,619 1737.0,619 1737.5,618 1738.0,617 1738.5,616 1739.0,626 1739.5,625 1740.0,616 1740.5,620 1741.0,615 1741.5,624 1742.0,624 1742.5,621 1743.0,617 1743.5,624 1744.0,623 1744.5,620 1745.0,624 1745.5,615 1746.0,618 1746.5,616 1747.0,620 1747.5,627 1748.0,620 1748.5,625 1749.0,620 1749.5,618 1750.0,624 1750.5,622 1751.0,626 1751.5,624 1752.0,617 1752.5,610 1753.0,621 1753.5,615 1754.0,614 1754.5,613 1755.0,616 1755.5,618 1756.0,618 1756.5,627 1757.0,613 1757.5,618 1758.0,613 1758.5,614 1759.0,618 1759.5,620 1760.0,613 1760.5,623 1761.0,615 1761.5,623 1762.0,619 1762.5,623 1763.0,622 1763.5,619 1764.0,622 1764.5,615 1765.0,616 1765.5,620 1766.0,628 1766.5,619 1767.0,620 1767.5,629 1768.0,623 1768.5,622 1769.0,618 1769.5,622 1770.0,624 1770.5,621 1771.0,624 1771.5,622 1772.0,625 1772.5,624 1773.0,620 1773.5,624 1774.0,628 1774.5,622 1775.0,615 1775.5,621 1776.0,620 1776.5,630 1777.0,624 1777.5,616 1778.0,620 1778.5,627 1779.0,612 1779.5,619 1780.0,621 1780.5,621 1781.0,619 1781.5,622 1782.0,616 1782.5,620 1783.0,620 1783.5,621 1784.0,621 1784.5,623 1785.0,621 1785.5,621 1786.0,624 1786.5,627 1787.0,627 1787.5,618 1788.0,623 1788.5,625 1789.0,621 1789.5,624 1790.0,621 1790.5,623 1791.0,616 1791.5,624 1792.0,618 1792.5,619 1793.0,620 1793.5,626 1794.0,625 1794.5,622 1795.0,624 1795.5,619 1796.0,615 1796.5,613 1797.0,620 1797.5,620 1798.0,621 1798.5,621 1799.0,626 1799.5,617 1800.0,618 1800.5,635 1801.0,625 1801.5,620 1802.0,613 1802.5,618 1803.0,620 1803.5,622 1804.0,623 1804.5,621 1805.0,627 1805.5,618 1806.0,621 1806.5,620 1807.0,626 1807.5,623 1808.0,625 1808.5,622 1809.0,631 1809.5,624 1810.0,618 1810.5,621 1811.0,619 1811.5,624 1812.0,625 1812.5,623 1813.0,620 1813.5,619 1814.0,628 1814.5,626 1815.0,612 1815.5,622 1816.0,618 1816.5,620 1817.0,628 1817.5,613 1818.0,617 1818.5,631 1819.0,620 1819.5,621 1820.0,627 1820.5,621 1821.0,623 1821.5,625 1822.0,630 1822.5,618 1823.0,621 1823.5,624 1824.0,629 1824.5,622 1825.0,627 1825.5,623 1826.0,623 1826.5,630 1827.0,624 1827.5,634 1828.0,626 1828.5,633 1829.0,627 1829.5,618 1830.0,618 1830.5,626 1831.0,619 1831.5,621 1832.0,622 1832.5,620 1833.0,628 1833.5,627 1834.0,624 1834.5,626 1835.0,620 1835.5,628 1836.0,621 1836.5,631 1837.0,622 1837.5,623 1838.0,634 1838.5,628 1839.0,621 1839.5,627 1840.0,625 1840.5,625 1841.0,627 1841.5,627 1842.0,629 1842.5,627 1843.0,626 1843.5,625 1844.0,636 1844.5,622 1845.0,634 1845.5,635 1846.0,635 1846.5,626 1847.0,635 1847.5,631 1848.0,631 1848.5,636 1849.0,628 1849.5,630 1850.0,622 1850.5,618 1851.0,629 1851.5,629 1852.0,630 1852.5,628 1853.0,619 1853.5,628 1854.0,631 1854.5,633 1855.0,622 1855.5,622 1856.0,623 1856.5,623 1857.0,619 1857.5,623 1858.0,632 1858.5,621 1859.0,617 1859.5,624 1860.0,623 1860.5,627 1861.0,621 1861.5,624 1862.0,621 1862.5,620 1863.0,626 1863.5,625 1864.0,624 1864.5,627 1865.0,621 1865.5,625 1866.0,626 1866.5,630 1867.0,618 1867.5,624 1868.0,628 1868.5,624 1869.0,627 1869.5,629 1870.0,629 1870.5,620 1871.0,623 1871.5,619 1872.0,631 1872.5,629 1873.0,634 1873.5,629 1874.0,624 1874.5,633 1875.0,623 1875.5,628 1876.0,627 1876.5,631 1877.0,631 1877.5,626 1878.0,624 1878.5,627 1879.0,624 1879.5,630 1880.0,628 1880.5,632 1881.0,643 1881.5,622 1882.0,623 1882.5,627 1883.0,626 1883.5,623 1884.0,617 1884.5,633 1885.0,624 1885.5,619 1886.0,614 1886.5,629 1887.0,625 1887.5,623 1888.0,619 1888.5,623 1889.0,622 1889.5,615 1890.0,634 1890.5,626 1891.0,623 1891.5,621 1892.0,623 1892.5,635 1893.0,628 1893.5,621 1894.0,630 1894.5,628 1895.0,628 1895.5,626 1896.0,625 1896.5,627 1897.0,625 1897.5,620 1898.0,621 1898.5,625 1899.0,618 1899.5,624 1900.0,624 1900.5,628 1901.0,626 1901.5,624 1902.0,624 1902.5,627 1903.0,629 1903.5,621 1904.0,619 1904.5,623 1905.0,616 1905.5,622 1906.0,628 1906.5,629 1907.0,635 1907.5,624 1908.0,624 1908.5,620 1909.0,620 1909.5,623 1910.0,625 1910.5,623 1911.0,613 1911.5,623 1912.0,621 1912.5,618 1913.0,621 1913.5,625 1914.0,622 1914.5,619 1915.0,632 1915.5,620 1916.0,625 1916.5,629 1917.0,621 1917.5,626 1918.0,621 1918.5,623 1919.0,621 1919.5,630 1920.0,617 1920.5,624 1921.0,622 1921.5,613 1922.0,628 1922.5,618 1923.0,619 1923.5,621 1924.0,616 1924.5,617 1925.0,619 1925.5,616 1926.0,620 1926.5,624 1927.0,615 1927.5,612 1928.0,618 1928.5,620 1929.0,621 1929.5,614 1930.0,610 1930.5,623 1931.0,622 1931.5,625 1932.0,616 1932.5,622 1933.0,624 1933.5,612 1934.0,624 1934.5,625 1935.0,621 1935.5,621 1936.0,621 1936.5,617 1937.0,612 1937.5,614 1938.0,617 1938.5,614 1939.0,621 1939.5,615 1940.0,615 1940.5,608 1941.0,617 1941.5,612 1942.0,620 1942.5,607 1943.0,615 1943.5,612 1944.0,612 1944.5,620 1945.0,618 1945.5,608 1946.0,624 1946.5,612 1947.0,619 1947.5,609 1948.0,615 1948.5,616 1949.0,616 1949.5,612 1950.0,611 1950.5,619 1951.0,622 1951.5,620 1952.0,618 1952.5,614 1953.0,619 1953.5,617 1954.0,617 1954.5,620 1955.0,621 1955.5,622 1956.0,619 1956.5,617 1957.0,620 1957.5,620 1958.0,615 1958.5,620 1959.0,615 1959.5,614 1960.0,618 1960.5,619 1961.0,624 1961.5,618 1962.0,623 1962.5,626 1963.0,621 1963.5,622 1964.0,618 1964.5,624 1965.0,621 1965.5,621 1966.0,617 1966.5,618 1967.0,619 1967.5,623 1968.0,627 1968.5,617 1969.0,621 1969.5,622 1970.0,632 1970.5,622 1971.0,621 1971.5,626 1972.0,619 1972.5,625 1973.0,617 1973.5,631 1974.0,623 1974.5,621 1975.0,618 1975.5,622 1976.0,623 1976.5,620 1977.0,628 1977.5,622 1978.0,623 1978.5,624 1979.0,628 1979.5,621 1980.0,623 1980.5,624 1981.0,625 1981.5,616 1982.0,628 1982.5,623 1983.0,621 1983.5,624 1984.0,617 1984.5,622 1985.0,626 1985.5,630 1986.0,625 1986.5,627 1987.0,624 1987.5,628 1988.0,623 1988.5,627 1989.0,623 1989.5,621 1990.0,621 1990.5,622 1991.0,629 1991.5,634 1992.0,624 1992.5,621 1993.0,626 1993.5,626 1994.0,622 1994.5,631 1995.0,627 1995.5,627 1996.0,623 1996.5,624 1997.0,627 1997.5,618 1998.0,620 1998.5,624 1999.0,618 1999.5,630 2000.0,622 2000.5,622 2001.0,625 2001.5,635 2002.0,624 2002.5,621 2003.0,620 2003.5,625 2004.0,621 2004.5,633 2005.0,629 2005.5,614 2006.0,617 2006.5,624 2007.0,632 2007.5,615 2008.0,621 2008.5,628 2009.0,620 2009.5,623 2010.0,621 2010.5,626 2011.0,620 2011.5,624 2012.0,619 2012.5,628 2013.0,627 2013.5,624 2014.0,624 2014.5,624 2015.0,623 2015.5,624 2016.0,625 2016.5,623 2017.0,621 2017.5,622 2018.0,622 2018.5,626 2019.0,625 2019.5,632 2020.0,624 2020.5,625 2021.0,622 2021.5,625 2022.0,623 2022.5,621 2023.0,625 2023.5,631 2024.0,621 2024.5,620 2025.0,625 2025.5,626 2026.0,630 2026.5,622 2027.0,624 2027.5,621 2028.0,621 2028.5,622 2029.0,619 2029.5,625 2030.0,628 2030.5,621 2031.0,620 2031.5,628 2032.0,622 2032.5,629 2033.0,614 2033.5,623 2034.0,620 2034.5,622 2035.0,627 2035.5,628 2036.0,624 2036.5,628 2037.0,620 2037.5,626 2038.0,624 2038.5,618 2039.0,629 2039.5,622 2040.0,627 2040.5,620 2041.0,626 2041.5,627 2042.0,625 2042.5,623 2043.0,627 2043.5,625 2044.0,622 2044.5,623 2045.0,622 2045.5,620 2046.0,626 2046.5,629 2047.0,620 2047.5,622 2048.0,618 2048.5,617 2049.0,627 2049.5,620 2050.0,624 2050.5,618 2051.0,620 2051.5,625 2052.0,625 2052.5,624 2053.0,625 2053.5,624 2054.0,627 2054.5,630 2055.0,626 2055.5,623 2056.0,620 2056.5,622 2057.0,623 2057.5,630 2058.0,619 2058.5,622 2059.0,621 2059.5,628 2060.0,622 2060.5,617 2061.0,616 2061.5,625 2062.0,617 2062.5,628 2063.0,628 2063.5,619 2064.0,622 2064.5,624 2065.0,618 2065.5,619 2066.0,622 2066.5,625 2067.0,626 2067.5,618 2068.0,626 2068.5,625 2069.0,625 2069.5,624 2070.0,630 2070.5,632 2071.0,624 2071.5,625 2072.0,620 2072.5,624 2073.0,628 2073.5,625 2074.0,626 2074.5,624 2075.0,625 2075.5,627 2076.0,627 2076.5,617 2077.0,624 2077.5,616 2078.0,625 2078.5,623 2079.0,623 2079.5,632 2080.0,628 2080.5,631 2081.0,629 2081.5,633 2082.0,626 2082.5,626 2083.0,626 2083.5,636 2084.0,625 2084.5,627 2085.0,632 2085.5,630 2086.0,625 2086.5,634 2087.0,629 2087.5,633 2088.0,630 2088.5,631 2089.0,625 2089.5,634 2090.0,626 2090.5,629 2091.0,633 2091.5,627 2092.0,629 2092.5,628 2093.0,629 2093.5,631 2094.0,622 2094.5,626 2095.0,636 2095.5,621 2096.0,626 2096.5,631 2097.0,621 2097.5,625 2098.0,625 2098.5,639 2099.0,624 2099.5,630 2100.0,625 2100.5,628 2101.0,623 2101.5,622 2102.0,625 2102.5,622 2103.0,626 2103.5,628 2104.0,629 2104.5,633 2105.0,632 2105.5,623 2106.0,624 2106.5,633 2107.0,627 2107.5,625 2108.0,631 2108.5,624 2109.0,631 2109.5,626 2110.0,632 2110.5,627 2111.0,631 2111.5,632 2112.0,634 2112.5,625 2113.0,627 2113.5,623 2114.0,622 2114.5,627 2115.0,630 2115.5,634 2116.0,627 2116.5,636 2117.0,630 2117.5,632 2118.0,628 2118.5,624 2119.0,635 2119.5,628 2120.0,633 2120.5,628 2121.0,632 2121.5,629 2122.0,628 2122.5,629 2123.0,632 2123.5,625 2124.0,626 2124.5,633 2125.0,627 2125.5,630 2126.0,624 2126.5,629 2127.0,634 2127.5,630 2128.0,630 2128.5,628 2129.0,629 2129.5,622 2130.0,623 2130.5,631 2131.0,622 2131.5,634 2132.0,632 2132.5,624 2133.0,621 2133.5,613 2134.0,630 2134.5,629 2135.0,634 2135.5,631 2136.0,635 2136.5,632 2137.0,625 2137.5,628 2138.0,626 2138.5,628 2139.0,628 2139.5,629 2140.0,636 2140.5,629 2141.0,622 2141.5,628 2142.0,629 2142.5,628 2143.0,630 2143.5,628 2144.0,634 2144.5,633 2145.0,625 2145.5,634 2146.0,636 2146.5,631 2147.0,628 2147.5,633"/>
<path class="c" stroke="#000" d="M167.5,859 168.0,854 168.5,855 169.0,842 169.5,873 170.0,869 170.5,859 171.0,868 171.5,865 172.0,860 172.5,872 173.0,864 173.5,864 174.0,862 174.5,871 175.0,867 175.5,872 176.0,864 176.5,869 177.0,862 177.5,879 178.0,870 178.5,871 179.0,872 179.5,862 180.0,876 180.5,886 181.0,851 181.5,861 182.0,863 182.5,881 183.0,877 183.5,885 184.0,883 184.5,880 185.0,881 185.5,878 186.0,886 186.5,872 187.0,877 187.5,882 188.0,894 188.5,875 189.0,873 189.5,877 190.0,888 190.5,879 191.0,891 191.5,868 192.0,889 192.5,889 193.0,871 193.5,882 194.0,890 194.5,882 195.0,889 195.5,898 196.0,884 196.5,880 197.0,877 197.5,887 198.0,882 198.5,882 199.0,883 199.5,889 200.0,877 200.5,874 201.0,868 201.5,894 202.0,886 202.5,897 203.0,886 203.5,881 204.0,891 204.5,887 205.0,879 205.5,882 206.0,902 206.5,892 207.0,893 207.5,888 208.0,881 208.5,896 209.0,889 209.5,884 210.0,889 210.5,883 211.0,892 211.5,899 212.0,885 212.5,902 213.0,888 213.5,894 214.0,888 214.5,893 215.0,896 215.5,893 216.0,892 216.5,892 217.0,892 217.5,877 218.0,896 218.5,902 219.0,906 219.5,904 220.0,917 220.5,902 221.0,897 221.5,914 222.0,893 222.5,908 223.0,893 223.5,902 224.0,885 224.5,906 225.0,898 225.5,886 226.0,911 226.5,904 227.0,899 227.5,893 228.0,898 228.5,897 229.0,904 229.5,904 230.0,893 230.5,894 231.0,894 231.5,888 232.0,894 232.5,897 233.0,903 233.5,908 234.0,893 234.5,903 235.0,896 235.5,915 236.0,900 236.5,904 237.0,894 237.5,896 238.0,903 238.5,899 239.0,907 239.5,891 240.0,907 240.5,896 241.0,915 241.5,901 242.0,911 242.5,893 243.0,906 243.5,896 244.0,899 244.5,903 245.0,900 245.5,904 246.0,907 246.5,906 247.0,901 247.5,891 248.0,895 248.5,900 249.0,886 249.5,907 250.0,901 250.5,901 251.0,910 251.5,909 252.0,906 252.5,898 253.0,908 253.5,908 254.0,899 254.5,913 255.0,909 255.5,891 256.0,906 256.5,896 257.0,913 257.5,910 258.0,896 258.5,898 259.0,905 259.5,903 260.0,916 260.5,910 261.0,903 261.5,909 262.0,890 262.5,907 263.0,911 263.5,904 264.0,900 264.5,909 265.0,919 265.5,906 266.0,896 266.5,915 267.0,891 267.5,908 268.0,900 268.5,911 269.0,898 269.5,914 270.0,906 270.5,891 271.0,890 271.5,902 272.0,914 272.5,905 273.0,905 273.5,903 274.0,914 274.5,907 275.0,906 275.5,897 276.0,912 276.5,913 277.0,893 277.5,918 278.0,906 278.5,897 279.0,886 279.5,904 280.0,902 280.5,894 281.0,885 281.5,906 282.0,893 282.5,894 283.0,914 283.5,912 284.0,904 284.5,894 285.0,903 285.5,882 286.0,899 286.5,893 287.0,890 287.5,888 288.0,903 288.5,900 289.0,901 289.5,906 290.0,893 290.5,890 291.0,886 291.5,896 292.0,904 292.5,897 293.0,902 293.5,889 294.0,894 294.5,892 295.0,888 295.5,910 296.0,903 296.5,891 297.0,892 297.5,897 298.0,887 298.5,901 299.0,888 299.5,895 300.0,890 300.5,894 301.0,887 301.5,885 302.0,888 302.5,890 303.0,892 303.5,894 304.0,904 304.5,898 305.0,890 305.5,897 306.0,887 306.5,912 307.0,900 307.5,884 308.0,900 308.5,901 309.0,878 309.5,890 310.0,892 310.5,882 311.0,889 311.5,890 312.0,900 312.5,899 313.0,914 313.5,894 314.0,905 314.5,898 315.0,899 315.5,888 316.0,882 316.5,890 317.0,901 317.5,907 318.0,900 318.5,900 319.0,891 319.5,909 320.0,908 320.5,895 321.0,898 321.5,891 322.0,909 322.5,901 323.0,897 323.5,901 324.0,903 324.5,894 325.0,888 325.5,887 326.0,884 326.5,900 327.0,913 327.5,885 328.0,898 328.5,901 329.0,891 329.5,899 330.0,890 330.5,907 331.0,894 331.5,899 332.0,903 332.5,895 333.0,885 333.5,894 334.0,904 334.5,898 335.0,901 335.5,891 336.0,900 336.5,905 337.0,900 337.5,914 338.0,899 338.5,893 339.0,888 339.5,908 340.0,900 340.5,907 341.0,903 341.5,912 342.0,910 342.5,898 343.0,903 343.5,909 344.0,893 344.5,912 345.0,911 345.5,909 346.0,900 346.5,904 347.0,893 347.5,901 348.0,896 348.5,900 349.0,896 349.5,901 350.0,907 350.5,889 351.0,905 351.5,884 352.0,882 352.5,897 353.0,897 353.5,900 354.0,884 354.5,895 355.0,896 355.5,904 356.0,894 356.5,898 357.0,887 357.5,892 358.0,890 358.5,899 359.0,886 359.5,888 360.0,898 360.5,907 361.0,897 361.5,897 362.0,893 362.5,910 363.0,900 363.5,908 364.0,898 364.5,888 365.0,891 365.5,887 366.0,885 366.5,903 367.0,899 367.5,884 368.0,906 368.5,894 369.0,886 369.5,898 370.0,892 370.5,887 371.0,879 371.5,893 372.0,894 372.5,875 373.0,895 373.5,895 374.0,887 374.5,891 375.0,888 375.5,879 376.0,888 376.5,900 377.0,881 377.5,894 378.0,895 378.5,889 379.0,892 379.5,885 380.0,889 380.5,895 381.0,897 381.5,888 382.0,910 382.5,888 383.0,893 383.5,888 384.0,888 384.5,900 385.0,887 385.5,900 386.0,898 386.5,882 387.0,898 387.5,885 388.0,907 388.5,888 389.0,884 389.5,877 390.0,882 390.5,887 391.0,885 391.5,883 392.0,887 392.5,890 393.0,902 393.5,879 394.0,887 394.5,884 395.0,879 395.5,881 396.0,883 396.5,895 397.0,888 397.5,886 398.0,895 398.5,893 399.0,889 399.5,894 400.0,885 400.5,895 401.0,894 401.5,887 402.0,880 402.5,900 403.0,888 403.5,904 404.0,882 404.5,892 405.0,883 405.5,888 406.0,892 406.5,880 407.0,885 407.5,887 408.0,887 408.5,890 409.0,893 409.5,892 410.0,887 410.5,883 411.0,877 411.5,879 412.0,881 412.5,890 413.0,883 413.5,877 414.0,891 414.5,881 415.0,882 415.5,886 416.0,891 416.5,871 417.0,880 417.5,889 418.0,885 418.5,881 419.0,882 419.5,896 420.0,882 420.5,890 421.0,890 421.5,881 422.0,887 422.5,880 423.0,879 423.5,869 424.0,890 424.5,882 425.0,878 425.5,877 426.0,899 426.5,891 427.0,884 427.5,880 428.0,873 428.5,886 429.0,885 429.5,871 430.0,889 430.5,885 431.0,872 431.5,874 432.0,875 432.5,879 433.0,876 433.5,866 434.0,888 434.5,880 435.0,888 435.5,888 436.0,878 436.5,882 437.0,885 437.5,885 438.0,878 438.5,874 439.0,878 439.5,872 440.0,873 440.5,862 441.0,877 441.5,869 442.0,872 442.5,876 443.0,878 443.5,890 444.0,878 444.5,867 445.0,878 445.5,874 446.0,881 446.5,873 447.0,873 447.5,872 448.0,874 448.5,865 449.0,873 449.5,878 450.0,887 450.5,875 451.0,875 451.5,881 452.0,881 452.5,888 453.0,881 453.5,876 454.0,886 454.5,887 455.0,873 455.5,877 456.0,864 456.5,874 457.0,870 457.5,875 458.0,874 458.5,876 459.0,876 459.5,880 460.0,878 460.5,872 461.0,867 461.5,885 462.0,886 462.5,872 463.0,879 463.5,864 464.0,863 464.5,872 465.0,885 465.5,866 466.0,868 466.5,886 467.0,860 467.5,879 468.0,878 468.5,873 469.0,877 469.5,893 470.0,868 470.5,874 471.0,874 471.5,872 472.0,868 472.5,889 473.0,878 473.5,864 474.0,871 474.5,878 475.0,878 475.5,864 476.0,874 476.5,876 477.0,877 477.5,877 478.0,861 478.5,888 479.0,876 479.5,887 480.0,891 480.5,873 481.0,865 481.5,881 482.0,873 482.5,871 483.0,867 483.5,897 484.0,872 484.5,865 485.0,869 485.5,860 486.0,876 486.5,872 487.0,867 487.5,879 488.0,870 488.5,880 489.0,884 489.5,872 490.0,870 490.5,876 491.0,881 491.5,875 492.0,876 492.5,875 493.0,878 493.5,880 494.0,871 494.5,872 495.0,876 495.5,871 496.0,877 496.5,879 497.0,875 497.5,871 498.0,869 498.5,888 499.0,881 499.5,867 500.0,869 500.5,889 501.0,886 501.5,877 502.0,885 502.5,866 503.0,877 503.5,882 504.0,864 504.5,872 505.0,888 505.5,886 506.0,874 506.5,882 507.0,891 507.5,877 508.0,870 508.5,880 509.0,877 509.5,890 510.0,881 510.5,874 511.0,895 511.5,874 512.0,883 512.5,880 513.0,880 513.5,875 514.0,877 514.5,872 515.0,862 515.5,872 516.0,873 516.5,874 517.0,877 517.5,873 518.0,888 518.5,890 519.0,864 519.5,880 520.0,875 520.5,863 521.0,883 521.5,875 522.0,877 522.5,874 523.0,886 523.5,887 524.0,880 524.5,883 525.0,877 525.5,878 526.0,872 526.5,877 527.0,871 527.5,879 528.0,882 528.5,880 529.0,884 529.5,892 530.0,860 530.5,876 531.0,868 531.5,873 532.0,866 532.5,877 533.0,874 533.5,872 534.0,875 534.5,872 535.0,860 535.5,890 536.0,874 536.5,869 537.0,879 537.5,872 538.0,861 538.5,883 539.0,865 539.5,876 540.0,878 540.5,887 541.0,886 541.5,879 542.0,872 542.5,875 543.0,885 543.5,890 544.0,880 544.5,871 545.0,883 545.5,872 546.0,871 546.5,871 547.0,876 547.5,873 548.0,878 548.5,880 549.0,878 549.5,854 550.0,859 550.5,872 551.0,871 551.5,887 552.0,871 552.5,871 553.0,879 553.5,880 554.0,870 554.5,876 555.0,864 555.5,865 556.0,881 556.5,862 557.0,879 557.5,881 558.0,878 558.5,879 559.0,876 559.5,856 560.0,864 560.5,867 561.0,878 561.5,863 562.0,865 562.5,868 563.0,880 563.5,860 564.0,861 564.5,875 565.0,856 565.5,876 566.0,868 566.5,861 567.0,870 567.5,866 568.0,874 568.5,875 569.0,883 569.5,872 570.0,873 570.5,867 571.0,870 571.5,878 572.0,855 572.5,874 573.0,864 573.5,868 574.0,870 574.5,873 575.0,868 575.5,863 576.0,868 576.5,866 577.0,865 577.5,868 578.0,873 578.5,868 579.0,869 579.5,859 580.0,868 580.5,856 581.0,875 581.5,863 582.0,879 582.5,887 583.0,867 583.5,879 584.0,873 584.5,866 585.0,864 585.5,875 586.0,881 586.5,874 587.0,861 587.5,864 588.0,870 588.5,881 589.0,873 589.5,872 590.0,878 590.5,867 591.0,867 591.5,866 592.0,853 592.5,869 593.0,868 593.5,872 594.0,856 594.5,859 595.0,871 595.5,867 596.0,875 596.5,859 597.0,867 597.5,861 598.0,869 598.5,863 599.0,871 599.5,875 600.0,873 600.5,855 601.0,875 601.5,871 602.0,860 602.5,861 603.0,866 603.5,870 604.0,862 604.5,852 605.0,866 605.5,864 606.0,892 606.5,852 607.0,878 607.5,873 608.0,862 608.5,872 609.0,861 609.5,866 610.0,853 610.5,859 611.0,850 611.5,836 612.0,855 612.5,851 613.0,860 613.5,864 614.0,853 614.5,855 615.0,855 615.5,841 616.0,855 616.5,854 617.0,853 617.5,846 618.0,840 618.5,852 619.0,857 619.5,864 620.0,863 620.5,865 621.0,857 621.5,863 622.0,853 622.5,859 623.0,861 623.5,870 624.0,855 624.5,843 625.0,862 625.5,846 626.0,851 626.5,849 627.0,844 627.5,860 628.0,854 628.5,845 629.0,850 629.5,846 630.0,853 630.5,845 631.0,841 631.5,842 632.0,843 632.5,847 633.0,838 633.5,844 634.0,848 634.5,861 635.0,851 635.5,828 636.0,841 636.5,842 637.0,848 637.5,857 638.0,851 638.5,829 639.0,848 639.5,846 640.0,849 640.5,856 641.0,838 641.5,854 642.0,834 642.5,846 643.0,849 643.5,863 644.0,841 644.5,833 645.0,850 645.5,839 646.0,855 646.5,838 647.0,836 647.5,851 648.0,843 648.5,850 649.0,832 649.5,855 650.0,839 650.5,849 651.0,836 651.5,832 652.0,842 652.5,845 653.0,855 653.5,845 654.0,848 654.5,847 655.0,858 655.5,835 656.0,850 656.5,839 657.0,842 657.5,835 658.0,854 658.5,829 659.0,827 659.5,835 660.0,827 660.5,840 661.0,841 661.5,828 662.0,839 662.5,828 663.0,832 663.5,832 664.0,846 664.5,832 665.0,825 665.5,825 666.0,840 666.5,818 667.0,827 667.5,828 668.0,813 668.5,826 669.0,837 669.5,831 670.0,822 670.5,834 671.0,832 671.5,842 672.0,820 672.5,822 673.0,824 673.5,821 674.0,822 674.5,819 675.0,814 675.5,806 676.0,813 676.5,806 677.0,808 677.5,812 678.0,820 678.5,823 679.0,808 679.5,818 680.0,822 680.5,816 681.0,803 681.5,799 682.0,822 682.5,823 683.0,818 683.5,800 684.0,827 684.5,825 685.0,815 685.5,814 686.0,800 686.5,821 687.0,802 687.5,820 688.0,820 688.5,815 689.0,826 689.5,810 690.0,817 690.5,818 691.0,813 691.5,806 692.0,819 692.5,812 693.0,806 693.5,805 694.0,807 694.5,823 695.0,805 695.5,801 696.0,793 696.5,791 697.0,785 697.5,801 698.0,799 698.5,790 699.0,786 699.5,795 700.0,794 700.5,787 701.0,801 701.5,800 702.0,799 702.5,805 703.0,793 703.5,810 704.0,789 704.5,801 705.0,801 705.5,793 706.0,796 706.5,781 707.0,777 707.5,787 708.0,781 708.5,792 709.0,786 709.5,790 710.0,787 710.5,786 711.0,784 711.5,780 712.0,779 712.5,801 713.0,767 713.5,781 714.0,791 714.5,786 715.0,795 715.5,787 716.0,771 716.5,779 717.0,769 717.5,790 718.0,794 718.5,776 719.0,785 719.5,776 720.0,766 720.5,775 721.0,764 721.5,773 722.0,780 722.5,785 723.0,790 723.5,774 724.0,780 724.5,781 725.0,782 725.5,755 726.0,768 726.5,783 727.0,764 727.5,777 728.0,782 728.5,755 729.0,771 729.5,775 730.0,772 730.5,756 731.0,773 731.5,763 732.0,775 732.5,770 733.0,759 733.5,766 734.0,756 734.5,755 735.0,746 735.5,759 736.0,769 736.5,762 737.0,760 737.5,754 738.0,755 738.5,768 739.0,745 739.5,781 740.0,760 740.5,783 741.0,773 741.5,756 742.0,768 742.5,763 743.0,764 743.5,767 744.0,753 744.5,752 745.0,754 745.5,743 746.0,754 746.5,759 747.0,759 747.5,759 748.0,753 748.5,765 749.0,736 749.5,754 750.0,754 750.5,767 751.0,765 751.5,766 752.0,757 752.5,767 753.0,746 753.5,757 754.0,733 754.5,774 755.0,772 755.5,748 756.0,744 756.5,729 757.0,734 757.5,750 758.0,743 758.5,730 759.0,740 759.5,736 760.0,747 760.5,748 761.0,736 761.5,738 762.0,735 762.5,710 763.0,733 763.5,729 764.0,736 764.5,706 765.0,733 765.5,716 766.0,725 766.5,734 767.0,703 767.5,704 768.0,729 768.5,703 769.0,704 769.5,724 770.0,709 770.5,719 771.0,711 771.5,706 772.0,715 772.5,727 773.0,699 773.5,716 774.0,710 774.5,696 775.0,698 775.5,680 776.0,682 776.5,691 777.0,686 777.5,701 778.0,668 778.5,679 779.0,674 779.5,678 780.0,693 780.5,663 781.0,687 781.5,669 782.0,671 782.5,685 783.0,668 783.5,678 784.0,670 784.5,664 785.0,660 785.5,642 786.0,653 786.5,663 787.0,662 787.5,640 788.0,670 788.5,664 789.0,641 789.5,643 790.0,661 790.5,632 791.0,644 791.5,650 792.0,648 792.5,646 793.0,649 793.5,632 794.0,633 794.5,662 795.0,617 795.5,627 796.0,631 796.5,621 797.0,637 797.5,625 798.0,633 798.5,640 799.0,639 799.5,625 800.0,616 800.5,636 801.0,606 801.5,600 802.0,602 802.5,628 803.0,622 803.5,615 804.0,624 804.5,589 805.0,618 805.5,611 806.0,589 806.5,596 807.0,598 807.5,589 808.0,595 808.5,594 809.0,578 809.5,571 810.0,576 810.5,583 811.0,595 811.5,589 812.0,583 812.5,605 813.0,598 813.5,586 814.0,582 814.5,604 815.0,614 815.5,609 816.0,595 816.5,615 817.0,605 817.5,604 818.0,618 818.5,598 819.0,595 819.5,623 820.0,594 820.5,629 821.0,600 821.5,594 822.0,623 822.5,611 823.0,625 823.5,625 824.0,604 824.5,599 825.0,602 825.5,589 826.0,620 826.5,634 827.0,619 827.5,616 828.0,608 828.5,648 829.0,632 829.5,604 830.0,624 830.5,604 831.0,651 831.5,658 832.0,654 832.5,639 833.0,635 833.5,628 834.0,651 834.5,630 835.0,643 835.5,641 836.0,646 836.5,660 837.0,671 837.5,655 838.0,655 838.5,644 839.0,645 839.5,649 840.0,673 840.5,668 841.0,678 841.5,674 842.0,663 842.5,659 843.0,671 843.5,661 844.0,700 844.5,683 845.0,678 845.5,705 846.0,681 846.5,692 847.0,685 847.5,692 848.0,684 848.5,694 849.0,704 849.5,676 850.0,666 850.5,705 851.0,693 851.5,701 852.0,690 852.5,723 853.0,715 853.5,685 854.0,706 854.5,694 855.0,686 855.5,701 856.0,712 856.5,693 857.0,695 857.5,721 858.0,710 858.5,714 859.0,699 859.5,704 860.0,712 860.5,713 861.0,713 861.5,727 862.0,713 862.5,696 863.0,704 863.5,713 864.0,728 864.5,709 865.0,714 865.5,720 866.0,714 866.5,715 867.0,722 867.5,735 868.0,731 868.5,724 869.0,731 869.5,715 870.0,745 870.5,736 871.0,732 871.5,713 872.0,749 872.5,709 873.0,720 873.5,722 874.0,737 874.5,716 875.0,733 875.5,729 876.0,728 876.5,739 877.0,754 877.5,735 878.0,729 878.5,712 879.0,747 879.5,731 880.0,718 880.5,738 881.0,750 881.5,736 882.0,728 882.5,760 883.0,745 883.5,742 884.0,755 884.5,719 885.0,738 885.5,738 886.0,760 886.5,734 887.0,735 887.5,727 888.0,733 888.5,739 889.0,744 889.5,741 890.0,762 890.5,750 891.0,753 891.5,760 892.0,755 892.5,746 893.0,739 893.5,757 894.0,747 894.5,767 895.0,749 895.5,738 896.0,757 896.5,766 897.0,755 897.5,758 898.0,757 898.5,770 899.0,758 899.5,754 900.0,749 900.5,741 901.0,766 901.5,764 902.0,747 902.5,761 903.0,759 903.5,753 904.0,754 904.5,764 905.0,748 905.5,754 906.0,758 906.5,760 907.0,758 907.5,762 908.0,765 908.5,754 909.0,763 909.5,758 910.0,776 910.5,752 911.0,762 911.5,771 912.0,763 912.5,763 913.0,762 913.5,769 914.0,757 914.5,766 915.0,764 915.5,753 916.0,767 916.5,757 917.0,767 917.5,772 918.0,768 918.5,756 919.0,769 919.5,754 920.0,762 920.5,783 921.0,770 921.5,784 922.0,771 922.5,773 923.0,763 923.5,780 924.0,770 924.5,777 925.0,775 925.5,775 926.0,772 926.5,769 927.0,769 927.5,764 928.0,752 928.5,777 929.0,788 929.5,781 930.0,792 930.5,778 931.0,767 931.5,768 932.0,783 932.5,780 933.0,776 933.5,783 934.0,770 934.5,781 935.0,774 935.5,778 936.0,787 936.5,776 937.0,790 937.5,790 938.0,774 938.5,800 939.0,771 939.5,781 940.0,794 940.5,764 941.0,792 941.5,792 942.0,782 942.5,785 943.0,785 943.5,782 944.0,793 944.5,782 945.0,785 945.5,790 946.0,794 946.5,797 947.0,777 947.5,772 948.0,788 948.5,789 949.0,780 949.5,791 950.0,794 950.5,791 951.0,801 951.5,779 952.0,787 952.5,803 953.0,793 953.5,779 954.0,790 954.5,799 955.0,807 955.5,795 956.0,800 956.5,781 957.0,788 957.5,800 958.0,782 958.5,789 959.0,774 959.5,802 960.0,789 960.5,796 961.0,779 961.5,782 962.0,809 962.5,792 963.0,791 963.5,801 964.0,803 964.5,770 965.0,792 965.5,802 966.0,802 966.5,806 967.0,800 967.5,802 968.0,806 968.5,799 969.0,798 969.5,800 970.0,805 970.5,804 971.0,801 971.5,803 972.0,805 972.5,808 973.0,809 973.5,796 974.0,815 974.5,794 975.0,812 975.5,802 976.0,813 976.5,818 977.0,794 977.5,814 978.0,812 978.5,806 979.0,813 979.5,806 980.0,811 980.5,801 981.0,817 981.5,815 982.0,817 982.5,805 983.0,826 983.5,828 984.0,811 984.5,809 985.0,809 985.5,819 986.0,822 986.5,803 987.0,785 987.5,819 988.0,816 988.5,818 989.0,821 989.5,808 990.0,818 990.5,815 991.0,820 991.5,827 992.0,817 992.5,810 993.0,828 993.5,824 994.0,817 994.5,804 995.0,813 995.5,821 996.0,825 996.5,817 997.0,825 997.5,816 998.0,818 998.5,825 999.0,819 999.5,822 1000.0,829 1000.5,831 1001.0,817 1001.5,820 1002.0,812 1002.5,812 1003.0,826 1003.5,819 1004.0,809 1004.5,828 1005.0,817 1005.5,822 1006.0,827 1006.5,827 1007.0,823 1007.5,808 1008.0,829 1008.5,819 1009.0,813 1009.5,807 1010.0,837 1010.5,828 1011.0,828 1011.5,833 1012.0,828 1012.5,818 1013.0,836 1013.5,839 1014.0,836 1014.5,845 1015.0,848 1015.5,827 1016.0,830 1016.5,841 1017.0,837 1017.5,837 1018.0,843 1018.5,842 1019.0,832 1019.5,837 1020.0,830 1020.5,834 1021.0,827 1021.5,820 1022.0,832 1022.5,832 1023.0,845 1023.5,851 1024.0,839 1024.5,844 1025.0,836 1025.5,835 1026.0,841 1026.5,840 1027.0,847 1027.5,846 1028.0,859 1028.5,844 1029.0,833 1029.5,847 1030.0,841 1030.5,847 1031.0,862 1031.5,840 1032.0,844 1032.5,848 1033.0,836 1033.5,845 1034.0,847 1034.5,849 1035.0,851 1035.5,847 1036.0,845 1036.5,831 1037.0,824 1037.5,834 1038.0,854 1038.5,843 1039.0,824 1039.5,839 1040.0,845 1040.5,827 1041.0,847 1041.5,834 1042.0,852 1042.5,844 1043.0,863 1043.5,835 1044.0,848 1044.5,835 1045.0,857 1045.5,849 1046.0,856 1046.5,850 1047.0,841 1047.5,845 1048.0,841 1048.5,844 1049.0,854 1049.5,862 1050.0,861 1050.5,858 1051.0,850 1051.5,858 1052.0,847 1052.5,856 1053.0,860 1053.5,852 1054.0,849 1054.5,849 1055.0,857 1055.5,849 1056.0,840 1056.5,848 1057.0,843 1057.5,864 1058.0,852 1058.5,840 1059.0,854 1059.5,858 1060.0,856 1060.5,851 1061.0,856 1061.5,858 1062.0,865 1062.5,861 1063.0,877 1063.5,859 1064.0,873 1064.5,862 1065.0,849 1065.5,853 1066.0,848 1066.5,848 1067.0,871 1067.5,856 1068.0,865 1068.5,853 1069.0,859 1069.5,851 1070.0,867 1070.5,858 1071.0,857 1071.5,861 1072.0,880 1072.5,867 1073.0,871 1073.5,855 1074.0,860 1074.5,867 1075.0,850 1075.5,875 1076.0,867 1076.5,864 1077.0,862 1077.5,862 1078.0,859 1078.5,874 1079.0,869 1079.5,874 1080.0,862 1080.5,858 1081.0,877 1081.5,857 1082.0,863 1082.5,874 1083.0,878 1083.5,859 1084.0,868 1084.5,870 1085.0,869 1085.5,863 1086.0,875 1086.5,865 1087.0,867 1087.5,851 1088.0,869 1088.5,854 1089.0,875 1089.5,874 1090.0,866 1090.5,871 1091.0,871 1091.5,869 1092.0,872 1092.5,868 1093.0,865 1093.5,862 1094.0,882 1094.5,870 1095.0,869 1095.5,876 1096.0,868 1096.5,869 1097.0,878 1097.5,882 1098.0,880 1098.5,864 1099.0,877 1099.5,877 1100.0,881 1100.5,870 1101.0,869 1101.5,876 1102.0,869 1102.5,867 1103.0,874 1103.5,881 1104.0,874 1104.5,881 1105.0,864 1105.5,877 1106.0,871 1106.5,864 1107.0,867 1107.5,864 1108.0,870 1108.5,866 1109.0,882 1109.5,870 1110.0,862 1110.5,872 1111.0,876 1111.5,871 1112.0,880 1112.5,867 1113.0,867 1113.5,885 1114.0,873 1114.5,876 1115.0,876 1115.5,876 1116.0,873 1116.5,872 1117.0,888 1117.5,871 1118.0,877 1118.5,881 1119.0,874 1119.5,866 1120.0,881 1120.5,885 1121.0,879 1121.5,865 1122.0,882 1122.5,891 1123.0,866 1123.5,860 1124.0,875 1124.5,878 1125.0,884 1125.5,885 1126.0,880 1126.5,884 1127.0,883 1127.5,882 1128.0,881 1128.5,880 1129.0,886 1129.5,884 1130.0,878 1130.5,888 1131.0,875 1131.5,878 1132.0,881 1132.5,866 1133.0,877 1133.5,885 1134.0,884 1134.5,870 1135.0,872 1135.5,870 1136.0,875 1136.5,875 1137.0,865 1137.5,877 1138.0,875 1138.5,874 1139.0,870 1139.5,874 1140.0,864 1140.5,878 1141.0,878 1141.5,877 1142.0,870 1142.5,887 1143.0,887 1143.5,867 1144.0,882 1144.5,880 1145.0,864 1145.5,882 1146.0,883 1146.5,883 1147.0,879 1147.5,874 1148.0,875 1148.5,882 1149.0,886 1149.5,876 1150.0,878 1150.5,888 1151.0,867 1151.5,884 1152.0,881 1152.5,868 1153.0,888 1153.5,877 1154.0,888 1154.5,892 1155.0,875 1155.5,875 1156.0,883 1156.5,871 1157.0,887 1157.5,883 1158.0,888 1158.5,870 1159.0,883 1159.5,884 1160.0,869 1160.5,887 1161.0,872 1161.5,882 1162.0,872 1162.5,885 1163.0,890 1163.5,879 1164.0,879 1164.5,887 1165.0,876 1165.5,879 1166.0,884 1166.5,882 1167.0,890 1167.5,888 1168.0,893 1168.5,881 1169.0,889 1169.5,877 1170.0,888 1170.5,893 1171.0,896 1171.5,873 1172.0,879 1172.5,884 1173.0,874 1173.5,883 1174.0,882 1174.5,876 1175.0,876 1175.5,874 1176.0,882 1176.5,889 1177.0,883 1177.5,895 1178.0,871 1178.5,877 1179.0,885 1179.5,874 1180.0,883 1180.5,886 1181.0,882 1181.5,879 1182.0,887 1182.5,884 1183.0,886 1183.5,886 1184.0,878 1184.5,876 1185.0,880 1185.5,885 1186.0,882 1186.5,890 1187.0,885 1187.5,889 1188.0,883 1188.5,878 1189.0,887 1189.5,885 1190.0,877 1190.5,880 1191.0,898 1191.5,869 1192.0,893 1192.5,887 1193.0,887 1193.5,887 1194.0,887 1194.5,918 1195.0,889 1195.5,891 1196.0,898 1196.5,896 1197.0,892 1197.5,891 1198.0,884 1198.5,899 1199.0,884 1199.5,875 1200.0,897 1200.5,894 1201.0,891 1201.5,885 1202.0,896 1202.5,881 1203.0,874 1203.5,890 1204.0,894 1204.5,893 1205.0,914 1205.5,895 1206.0,889 1206.5,890 1207.0,897 1207.5,892 1208.0,891 1208.5,881 1209.0,891 1209.5,884 1210.0,893 1210.5,892 1211.0,899 1211.5,901 1212.0,888 1212.5,897 1213.0,880 1213.5,888 1214.0,892 1214.5,898 1215.0,878 1215.5,884 1216.0,887 1216.5,885 1217.0,880 1217.5,875 1218.0,878 1218.5,885 1219.0,870 1219.5,897 1220.0,893 1220.5,872 1221.0,881 1221.5,893 1222.0,894 1222.5,893 1223.0,877 1223.5,885 1224.0,903 1224.5,890 1225.0,887 1225.5,894 1226.0,898 1226.5,893 1227.0,894 1227.5,899 1228.0,889 1228.5,886 1229.0,897 1229.5,883 1230.0,894 1230.5,885 1231.0,895 1231.5,882 1232.0,897 1232.5,891 1233.0,887 1233.5,884 1234.0,888 1234.5,884 1235.0,882 1235.5,897 1236.0,894 1236.5,898 1237.0,881 1237.5,877 1238.0,879 1238.5,893 1239.0,893 1239.5,875 1240.0,894 1240.5,885 1241.0,880 1241.5,887 1242.0,892 1242.5,888 1243.0,889 1243.5,885 1244.0,882 1244.5,889 1245.0,881 1245.5,896 1246.0,882 1246.5,901 1247.0,881 1247.5,901 1248.0,885 1248.5,885 1249.0,892 1249.5,896 1250.0,890 1250.5,888 1251.0,903 1251.5,893 1252.0,882 1252.5,888 1253.0,901 1253.5,892 1254.0,895 1254.5,903 1255.0,886 1255.5,892 1256.0,886 1256.5,890 1257.0,894 1257.5,882 1258.0,892 1258.5,892 1259.0,898 1259.5,887 1260.0,883 1260.5,894 1261.0,883 1261.5,892 1262.0,894 1262.5,885 1263.0,890 1263.5,884 1264.0,876 1264.5,881 1265.0,877 1265.5,892 1266.0,885 1266.5,891 1267.0,892 1267.5,899 1268.0,890 1268.5,889 1269.0,895 1269.5,902 1270.0,890 1270.5,893 1271.0,888 1271.5,885 1272.0,879 1272.5,889 1273.0,888 1273.5,888 1274.0,904 1274.5,889 1275.0,894 1275.5,890 1276.0,901 1276.5,892 1277.0,906 1277.5,892 1278.0,899 1278.5,901 1279.0,892 1279.5,899 1280.0,894 1280.5,888 1281.0,888 1281.5,895 1282.0,904 1282.5,888 1283.0,895 1283.5,885 1284.0,892 1284.5,881 1285.0,884 1285.5,889 1286.0,883 1286.5,886 1287.0,894 1287.5,886 1288.0,882 1288.5,879 1289.0,884 1289.5,896 1290.0,888 1290.5,888 1291.0,895 1291.5,896 1292.0,898 1292.5,889 1293.0,886 1293.5,881 1294.0,887 1294.5,889 1295.0,896 1295.5,893 1296.0,886 1296.5,896 1297.0,881 1297.5,882 1298.0,881 1298.5,876 1299.0,887 1299.5,884 1300.0,884 1300.5,898 1301.0,880 1301.5,883 1302.0,889 1302.5,893 1303.0,894 1303.5,889 1304.0,888 1304.5,889 1305.0,895 1305.5,884 1306.0,874 1306.5,890 1307.0,880 1307.5,886 1308.0,895 1308.5,885 1309.0,896 1309.5,872 1310.0,884 1310.5,884 1311.0,887 1311.5,876 1312.0,882 1312.5,882 1313.0,882 1313.5,872 1314.0,870 1314.5,886 1315.0,885 1315.5,883 1316.0,887 1316.5,890 1317.0,874 1317.5,887 1318.0,891 1318.5,887 1319.0,884 1319.5,884 1320.0,869 1320.5,875 1321.0,885 1321.5,887 1322.0,880 1322.5,874 1323.0,876 1323.5,882 1324.0,890 1324.5,882 1325.0,873 1325.5,880 1326.0,879 1326.5,890 1327.0,878 1327.5,874 1328.0,872 1328.5,864 1329.0,864 1329.5,866 1330.0,863 1330.5,868 1331.0,867 1331.5,871 1332.0,874 1332.5,863 1333.0,860 1333.5,847 1334.0,859 1334.5,858 1335.0,846 1335.5,845 1336.0,839 1336.5,853 1337.0,841 1337.5,842 1338.0,827 1338.5,826 1339.0,820 1339.5,814 1340.0,813 1340.5,805 1341.0,797 1341.5,785 1342.0,773 1342.5,769 1343.0,759 1343.5,753 1344.0,735 1344.5,722 1345.0,718 1345.5,721 1346.0,731 1346.5,738 1347.0,746 1347.5,751 1348.0,758 1348.5,761 1349.0,764 1349.5,768 1350.0,773 1350.5,784 1351.0,799 1351.5,802 1352.0,810 1352.5,812 1353.0,818 1353.5,814 1354.0,827 1354.5,828 1355.0,834 1355.5,818 1356.0,830 1356.5,832 1357.0,842 1357.5,836 1358.0,840 1358.5,838 1359.0,840 1359.5,844 1360.0,859 1360.5,847 1361.0,840 1361.5,859 1362.0,853 1362.5,863 1363.0,864 1363.5,860 1364.0,861 1364.5,861 1365.0,866 1365.5,863 1366.0,870 1366.5,880 1367.0,867 1367.5,869 1368.0,870 1368.5,879 1369.0,880 1369.5,886 1370.0,882 1370.5,879 1371.0,885 1371.5,871 1372.0,885 1372.5,883 1373.0,896 1373.5,892 1374.0,879 1374.5,881 1375.0,892 1375.5,873 1376.0,882 1376.5,891 1377.0,894 1377.5,892 1378.0,899 1378.5,890 1379.0,893 1379.5,892 1380.0,886 1380.5,894 1381.0,891 1381.5,895 1382.0,879 1382.5,895 1383.0,891 1383.5,890 1384.0,895 1384.5,891 1385.0,900 1385.5,902 1386.0,900 1386.5,900 1387.0,896 1387.5,895 1388.0,886 1388.5,893 1389.0,903 1389.5,901 1390.0,893 1390.5,897 1391.0,903 1391.5,896 1392.0,908 1392.5,888 1393.0,902 1393.5,902 1394.0,899 1394.5,899 1395.0,901 1395.5,882 1396.0,900 1396.5,904 1397.0,898 1397.5,903 1398.0,887 1398.5,894 1399.0,897 1399.5,893 1400.0,903 1400.5,898 1401.0,892 1401.5,901 1402.0,901 1402.5,893 1403.0,901 1403.5,899 1404.0,900 1404.5,890 1405.0,907 1405.5,903 1406.0,898 1406.5,901 1407.0,901 1407.5,896 1408.0,894 1408.5,899 1409.0,894 1409.5,894 1410.0,889 1410.5,894 1411.0,902 1411.5,897 1412.0,895 1412.5,893 1413.0,892 1413.5,885 1414.0,906 1414.5,890 1415.0,885 1415.5,898 1416.0,899 1416.5,892 1417.0,886 1417.5,886 1418.0,905 1418.5,894 1419.0,890 1419.5,906 1420.0,890 1420.5,888 1421.0,897 1421.5,896 1422.0,904 1422.5,884 1423.0,896 1423.5,883 1424.0,898 1424.5,891 1425.0,890 1425.5,890 1426.0,901 1426.5,906 1427.0,895 1427.5,894 1428.0,892 1428.5,899 1429.0,888 1429.5,910 1430.0,893 1430.5,905 1431.0,895 1431.5,884 1432.0,883 1432.5,891 1433.0,889 1433.5,892 1434.0,886 1434.5,909 1435.0,909 1435.5,883 1436.0,898 1436.5,902 1437.0,891 1437.5,891 1438.0,899 1438.5,894 1439.0,881 1439.5,896 1440.0,883 1440.5,898 1441.0,878 1441.5,869 1442.0,883 1442.5,890 1443.0,884 1443.5,881 1444.0,873 1444.5,885 1445.0,865 1445.5,882 1446.0,868 1446.5,871 1447.0,865 1447.5,867 1448.0,882 1448.5,863 1449.0,871 1449.5,863 1450.0,874 1450.5,857 1451.0,864 1451.5,869 1452.0,876 1452.5,852 1453.0,853 1453.5,856 1454.0,865 1454.5,841 1455.0,857 1455.5,845 1456.0,838 1456.5,827 1457.0,831 1457.5,821 1458.0,818 1458.5,811 1459.0,812 1459.5,808 1460.0,801 1460.5,799 1461.0,795 1461.5,790 1462.0,790 1462.5,791 1463.0,790 1463.5,790 1464.0,795 1464.5,798 1465.0,801 1465.5,802 1466.0,809 1466.5,814 1467.0,819 1467.5,821 1468.0,825 1468.5,831 1469.0,835 1469.5,835 1470.0,842 1470.5,837 1471.0,856 1471.5,841 1472.0,869 1472.5,862 1473.0,875 1473.5,859 1474.0,872 1474.5,866 1475.0,868 1475.5,879 1476.0,866 1476.5,878 1477.0,888 1477.5,888 1478.0,885 1478.5,881 1479.0,874 1479.5,891 1480.0,878 1480.5,891 1481.0,881 1481.5,884 1482.0,884 1482.5,888 1483.0,881 1483.5,885 1484.0,881 1484.5,889 1485.0,888 1485.5,889 1486.0,882 1486.5,890 1487.0,889 1487.5,894 1488.0,891 1488.5,885 1489.0,897 1489.5,888 1490.0,895 1490.5,879 1491.0,896 1491.5,897 1492.0,887 1492.5,897 1493.0,890 1493.5,902 1494.0,897 1494.5,884 1495.0,891 1495.5,881 1496.0,889 1496.5,897 1497.0,899 1497.5,894 1498.0,893 1498.5,897 1499.0,892 1499.5,899 1500.0,905 1500.5,898 1501.0,903 1501.5,892 1502.0,893 1502.5,898 1503.0,909 1503.5,901 1504.0,905 1504.5,893 1505.0,900 1505.5,880 1506.0,894 1506.5,876 1507.0,899 1507.5,893 1508.0,898 1508.5,892 1509.0,886 1509.5,883 1510.0,889 1510.5,897 1511.0,891 1511.5,883 1512.0,882 1512.5,881 1513.0,884 1513.5,885 1514.0,883 1514.5,885 1515.0,874 1515.5,894 1516.0,884 1516.5,891 1517.0,882 1517.5,877 1518.0,878 1518.5,878 1519.0,871 1519.5,871 1520.0,886 1520.5,878 1521.0,867 1521.5,876 1522.0,862 1522.5,876 1523.0,858 1523.5,869 1524.0,862 1524.5,861 1525.0,854 1525.5,856 1526.0,851 1526.5,849 1527.0,857 1527.5,868 1528.0,849 1528.5,856 1529.0,847 1529.5,841 1530.0,852 1530.5,845 1531.0,845 1531.5,836 1532.0,833 1532.5,822 1533.0,821 1533.5,829 1534.0,798 1534.5,810 1535.0,796 1535.5,791 1536.0,784 1536.5,777 1537.0,773 1537.5,762 1538.0,756 1538.5,746 1539.0,733 1539.5,722 1540.0,712 1540.5,703 1541.0,693 1541.5,679 1542.0,671 1542.5,670 1543.0,671 1543.5,674 1544.0,681 1544.5,689 1545.0,696 1545.5,707 1546.0,710 1546.5,724 1547.0,729 1547.5,740 1548.0,753 1548.5,759 1549.0,769 1549.5,777 1550.0,787 1550.5,808 1551.0,806 1551.5,812 1552.0,831 1552.5,817 1553.0,834 1553.5,832 1554.0,828 1554.5,834 1555.0,847 1555.5,849 1556.0,854 1556.5,851 1557.0,853 1557.5,861 1558.0,860 1558.5,854 1559.0,865 1559.5,882 1560.0,868 1560.5,879 1561.0,877 1561.5,884 1562.0,875 1562.5,873 1563.0,885 1563.5,878 1564.0,883 1564.5,881 1565.0,890 1565.5,885 1566.0,884 1566.5,877 1567.0,873 1567.5,873 1568.0,889 1568.5,888 1569.0,888 1569.5,881 1570.0,878 1570.5,893 1571.0,887 1571.5,890 1572.0,881 1572.5,883 1573.0,892 1573.5,892 1574.0,881 1574.5,890 1575.0,880 1575.5,896 1576.0,893 1576.5,904 1577.0,900 1577.5,886 1578.0,893 1578.5,889 1579.0,894 1579.5,899 1580.0,894 1580.5,895 1581.0,886 1581.5,899 1582.0,896 1582.5,901 1583.0,904 1583.5,898 1584.0,903 1584.5,896 1585.0,907 1585.5,901 1586.0,898 1586.5,901 1587.0,894 1587.5,899 1588.0,901 1588.5,903 1589.0,902 1589.5,898 1590.0,901 1590.5,888 1591.0,902 1591.5,905 1592.0,906 1592.5,908 1593.0,900 1593.5,901 1594.0,899 1594.5,899 1595.0,904 1595.5,912 1596.0,894 1596.5,902 1597.0,907 1597.5,900 1598.0,909 1598.5,898 1599.0,904 1599.5,896 1600.0,908 1600.5,901 1601.0,909 1601.5,903 1602.0,899 1602.5,902 1603.0,905 1603.5,904 1604.0,903 1604.5,902 1605.0,904 1605.5,909 1606.0,900 1606.5,906 1607.0,896 1607.5,910 1608.0,907 1608.5,903 1609.0,903 1609.5,895 1610.0,906 1610.5,904 1611.0,897 1611.5,903 1612.0,909 1612.5,907 1613.0,907 1613.5,902 1614.0,910 1614.5,905 1615.0,910 1615.5,918 1616.0,893 1616.5,903 1617.0,906 1617.5,902 1618.0,912 1618.5,904 1619.0,916 1619.5,911 1620.0,909 1620.5,906 1621.0,912 1621.5,910 1622.0,916 1622.5,910 1623.0,913 1623.5,911 1624.0,910 1624.5,898 1625.0,906 1625.5,908 1626.0,898 1626.5,897 1627.0,902 1627.5,905 1628.0,894 1628.5,905 1629.0,909 1629.5,902 1630.0,905 1630.5,907 1631.0,901 1631.5,909 1632.0,909 1632.5,899 1633.0,909 1633.5,912 1634.0,901 1634.5,911 1635.0,905 1635.5,899 1636.0,901 1636.5,902 1637.0,910 1637.5,904 1638.0,905 1638.5,900 1639.0,907 1639.5,900 1640.0,903 1640.5,910 1641.0,910 1641.5,903 1642.0,906 1642.5,909 1643.0,906 1643.5,913 1644.0,914 1644.5,907 1645.0,901 1645.5,907 1646.0,922 1646.5,915 1647.0,916 1647.5,921 1648.0,908 1648.5,912 1649.0,917 1649.5,912 1650.0,915 1650.5,905 1651.0,904 1651.5,921 1652.0,914 1652.5,913 1653.0,917 1653.5,921 1654.0,922 1654.5,897 1655.0,912 1655.5,916 1656.0,900 1656.5,901 1657.0,910 1657.5,922 1658.0,917 1658.5,923 1659.0,913 1659.5,917 1660.0,919 1660.5,913 1661.0,910 1661.5,911 1662.0,897 1662.5,911 1663.0,891 1663.5,905 1664.0,914 1664.5,912 1665.0,900 1665.5,914 1666.0,915 1666.5,913 1667.0,915 1667.5,915 1668.0,902 1668.5,911 1669.0,910 1669.5,905 1670.0,911 1670.5,907 1671.0,911 1671.5,907 1672.0,917 1672.5,924 1673.0,909 1673.5,912 1674.0,912 1674.5,914 1675.0,910 1675.5,899 1676.0,913 1676.5,910 1677.0,905 1677.5,909 1678.0,907 1678.5,911 1679.0,908 1679.5,908 1680.0,910 1680.5,911 1681.0,910 1681.5,916 1682.0,911 1682.5,906 1683.0,920 1683.5,911 1684.0,920 1684.5,906 1685.0,915 1685.5,922 1686.0,920 1686.5,913 1687.0,910 1687.5,909 1688.0,911 1688.5,907 1689.0,908 1689.5,906 1690.0,906 1690.5,912 1691.0,901 1691.5,912 1692.0,915 1692.5,906 1693.0,903 1693.5,913 1694.0,913 1694.5,919 1695.0,903 1695.5,914 1696.0,922 1696.5,915 1697.0,924 1697.5,926 1698.0,911 1698.5,921 1699.0,918 1699.5,913 1700.0,911 1700.5,911 1701.0,907 1701.5,911 1702.0,917 1702.5,919 1703.0,910 1703.5,915 1704.0,915 1704.5,900 1705.0,916 1705.5,906 1706.0,906 1706.5,917 1707.0,921 1707.5,906 1708.0,904 1708.5,907 1709.0,910 1709.5,911 1710.0,909 1710.5,904 1711.0,923 1711.5,911 1712.0,906 1712.5,918 1713.0,911 1713.5,919 1714.0,917 1714.5,918 1715.0,910 1715.5,916 1716.0,904 1716.5,904 1717.0,912 1717.5,910 1718.0,919 1718.5,910 1719.0,902 1719.5,913 1720.0,911 1720.5,914 1721.0,901 1721.5,909 1722.0,913 1722.5,917 1723.0,915 1723.5,917 1724.0,905 1724.5,912 1725.0,914 1725.5,918 1726.0,915 1726.5,912 1727.0,912 1727.5,912 1728.0,904 1728.5,912 1729.0,916 1729.5,915 1730.0,901 1730.5,911 1731.0,903 1731.5,917 1732.0,914 1732.5,915 1733.0,908 1733.5,901 1734.0,906 1734.5,910 1735.0,904 1735.5,906 1736.0,921 1736.5,904 1737.0,914 1737.5,900 1738.0,911 1738.5,914 1739.0,912 1739.5,916 1740.0,920 1740.5,903 1741.0,912 1741.5,913 1742.0,913 1742.5,920 1743.0,913 1743.5,919 1744.0,919 1744.5,913 1745.0,916 1745.5,906 1746.0,915 1746.5,915 1747.0,914 1747.5,912 1748.0,920 1748.5,915 1749.0,928 1749.5,923 1750.0,920 1750.5,913 1751.0,924 1751.5,916 1752.0,915 1752.5,909 1753.0,918 1753.5,916 1754.0,912 1754.5,911 1755.0,913 1755.5,907 1756.0,911 1756.5,922 1757.0,911 1757.5,926 1758.0,907 1758.5,920 1759.0,920 1759.5,921 1760.0,918 1760.5,906 1761.0,921 1761.5,926 1762.0,916 1762.5,904 1763.0,923 1763.5,912 1764.0,916 1764.5,925 1765.0,926 1765.5,921 1766.0,917 1766.5,929 1767.0,926 1767.5,919 1768.0,915 1768.5,922 1769.0,912 1769.5,929 1770.0,921 1770.5,916 1771.0,920 1771.5,908 1772.0,916 1772.5,913 1773.0,908 1773.5,913 1774.0,919 1774.5,909 1775.0,917 1775.5,910 1776.0,920 1776.5,910 1777.0,924 1777.5,924 1778.0,925 1778.5,931 1779.0,922 1779.5,922 1780.0,925 1780.5,918 1781.0,910 1781.5,914 1782.0,913 1782.5,921 1783.0,916 1783.5,917 1784.0,923 1784.5,921 1785.0,931 1785.5,920 1786.0,915 1786.5,927 1787.0,918 1787.5,920 1788.0,925 1788.5,920 1789.0,923 1789.5,915 1790.0,917 1790.5,921 1791.0,913 1791.5,916 1792.0,918 1792.5,927 1793.0,927 1793.5,921 1794.0,921 1794.5,918 1795.0,929 1795.5,925 1796.0,929 1796.5,916 1797.0,929 1797.5,925 1798.0,928 1798.5,930 1799.0,924 1799.5,921 1800.0,927 1800.5,916 1801.0,930 1801.5,923 1802.0,915 1802.5,928 1803.0,926 1803.5,929 1804.0,926 1804.5,924 1805.0,921 1805.5,916 1806.0,927 1806.5,926 1807.0,921 1807.5,927 1808.0,916 1808.5,931 1809.0,926 1809.5,927 1810.0,922 1810.5,932 1811.0,927 1811.5,923 1812.0,928 1812.5,925 1813.0,931 1813.5,917 1814.0,919 1814.5,935 1815.0,922 1815.5,927 1816.0,922 1816.5,925 1817.0,936 1817.5,914 1818.0,928 1818.5,926 1819.0,926 1819.5,922 1820.0,922 1820.5,934 1821.0,929 1821.5,920 1822.0,927 1822.5,919 1823.0,939 1823.5,929 1824.0,917 1824.5,932 1825.0,931 1825.5,930 1826.0,929 1826.5,926 1827.0,928 1827.5,918 1828.0,936 1828.5,940 1829.0,932 1829.5,932 1830.0,921 1830.5,926 1831.0,920 1831.5,921 1832.0,931 1832.5,935 1833.0,927 1833.5,939 1834.0,932 1834.5,915 1835.0,925 1835.5,934 1836.0,928 1836.5,932 1837.0,917 1837.5,933 1838.0,919 1838.5,928 1839.0,937 1839.5,926 1840.0,924 1840.5,930 1841.0,921 1841.5,920 1842.0,931 1842.5,917 1843.0,919 1843.5,935 1844.0,919 1844.5,928 1845.0,931 1845.5,925 1846.0,919 1846.5,929 1847.0,920 1847.5,936 1848.0,937 1848.5,919 1849.0,928 1849.5,921 1850.0,927 1850.5,924 1851.0,920 1851.5,929 1852.0,917 1852.5,928 1853.0,925 1853.5,922 1854.0,931 1854.5,926 1855.0,924 1855.5,925 1856.0,924 1856.5,931 1857.0,924 1857.5,914 1858.0,914 1858.5,921 1859.0,920 1859.5,926 1860.0,920 1860.5,923 1861.0,935 1861.5,921 1862.0,933 1862.5,927 1863.0,935 1863.5,933 1864.0,929 1864.5,935 1865.0,931 1865.5,924 1866.0,933 1866.5,933 1867.0,930 1867.5,932 1868.0,928 1868.5,932 1869.0,928 1869.5,921 1870.0,927 1870.5,936 1871.0,932 1871.5,935 1872.0,926 1872.5,923 1873.0,919 1873.5,926 1874.0,931 1874.5,929 1875.0,929 1875.5,923 1876.0,927 1876.5,922 1877.0,931 1877.5,931 1878.0,924 1878.5,928 1879.0,915 1879.5,931 1880.0,923 1880.5,925 1881.0,930 1881.5,930 1882.0,922 1882.5,934 1883.0,936 1883.5,933 1884.0,932 1884.5,925 1885.0,932 1885.5,920 1886.0,919 1886.5,926 1887.0,927 1887.5,921 1888.0,936 1888.5,919 1889.0,916 1889.5,925 1890.0,936 1890.5,932 1891.0,930 1891.5,928 1892.0,930 1892.5,929 1893.0,927 1893.5,926 1894.0,917 1894.5,931 1895.0,923 1895.5,928 1896.0,929 1896.5,932 1897.0,922 1897.5,931 1898.0,931 1898.5,926 1899.0,927 1899.5,928 1900.0,922 1900.5,925 1901.0,921 1901.5,934 1902.0,920 1902.5,922 1903.0,928 1903.5,931 1904.0,926 1904.5,923 1905.0,931 1905.5,934 1906.0,921 1906.5,935 1907.0,921 1907.5,934 1908.0,928 1908.5,929 1909.0,935 1909.5,939 1910.0,943 1910.5,939 1911.0,935 1911.5,924 1912.0,930 1912.5,933 1913.0,929 1913.5,935 1914.0,931 1914.5,942 1915.0,931 1915.5,925 1916.0,929 1916.5,928 1917.0,939 1917.5,939 1918.0,937 1918.5,937 1919.0,928 1919.5,925 1920.0,924 1920.5,932 1921.0,930 1921.5,933 1922.0,937 1922.5,933 1923.0,942 1923.5,929 1924.0,937 1924.5,934 1925.0,940 1925.5,935 1926.0,932 1926.5,934 1927.0,930 1927.5,928 1928.0,938 1928.5,930 1929.0,939 1929.5,945 1930.0,930 1930.5,937 1931.0,931 1931.5,921 1932.0,931 1932.5,940 1933.0,925 1933.5,931 1934.0,931 1934.5,924 1935.0,933 1935.5,930 1936.0,934 1936.5,931 1937.0,923 1937.5,931 1938.0,934 1938.5,929 1939.0,934 1939.5,934 1940.0,920 1940.5,935 1941.0,921 1941.5,926 1942.0,933 1942.5,928 1943.0,929 1943.5,945 1944.0,928 1944.5,940 1945.0,944 1945.5,941 1946.0,927 1946.5,925 1947.0,933 1947.5,944 1948.0,932 1948.5,930 1949.0,932 1949.5,937 1950.0,939 1950.5,932 1951.0,931 1951.5,934 1952.0,931 1952.5,928 1953.0,913 1953.5,931 1954.0,927 1954.5,929 1955.0,929 1955.5,927 1956.0,935 1956.5,938 1957.0,935 1957.5,929 1958.0,934 1958.5,937 1959.0,932 1959.5,936 1960.0,925 1960.5,931 1961.0,939 1961.5,937 1962.0,930 1962.5,931 1963.0,942 1963.5,941 1964.0,926 1964.5,932 1965.0,928 1965.5,928 1966.0,925 1966.5,936 1967.0,945 1967.5,938 1968.0,926 1968.5,937 1969.0,926 1969.5,935 1970.0,940 1970.5,942 1971.0,934 1971.5,935 1972.0,933 1972.5,932 1973.0,941 1973.5,928 1974.0,924 1974.5,943 1975.0,946 1975.5,925 1976.0,939 1976.5,939 1977.0,933 1977.5,930 1978.0,936 1978.5,933 1979.0,938 1979.5,930 1980.0,939 1980.5,926 1981.0,941 1981.5,937 1982.0,938 1982.5,930 1983.0,931 1983.5,932 1984.0,939 1984.5,929 1985.0,929 1985.5,932 1986.0,936 1986.5,933 1987.0,934 1987.5,927 1988.0,930 1988.5,928 1989.0,939 1989.5,933 1990.0,937 1990.5,926 1991.0,933 1991.5,935 1992.0,928 1992.5,931 1993.0,932 1993.5,936 1994.0,937 1994.5,928 1995.0,937 1995.5,936 1996.0,936 1996.5,930 1997.0,934 1997.5,940 1998.0,939 1998.5,927 1999.0,941 1999.5,930 2000.0,927 2000.5,938 2001.0,933 2001.5,944 2002.0,930 2002.5,932 2003.0,935 2003.5,934 2004.0,930 2004.5,932 2005.0,932 2005.5,932 2006.0,932 2006.5,924 2007.0,937 2007.5,929 2008.0,931 2008.5,929 2009.0,932 2009.5,938 2010.0,940 2010.5,935 2011.0,934 2011.5,930 2012.0,932 2012.5,935 2013.0,932 2013.5,928 2014.0,933 2014.5,927 2015.0,943 2015.5,933 2016.0,927 2016.5,932 2017.0,924 2017.5,926 2018.0,935 2018.5,932 2019.0,918 2019.5,918 2020.0,921 2020.5,935 2021.0,923 2021.5,923 2022.0,919 2022.5,928 2023.0,926 2023.5,910 2024.0,915 2024.5,909 2025.0,912 2025.5,913 2026.0,909 2026.5,912 2027.0,918 2027.5,919 2028.0,913 2028.5,915 2029.0,903 2029.5,918 2030.0,922 2030.5,908 2031.0,912 2031.5,910 2032.0,896 2032.5,913 2033.0,910 2033.5,898 2034.0,904 2034.5,911 2035.0,907 2035.5,896 2036.0,899 2036.5,898 2037.0,902 2037.5,897 2038.0,897 2038.5,893 2039.0,892 2039.5,902 2040.0,902 2040.5,897 2041.0,906 2041.5,915 2042.0,895 2042.5,905 2043.0,909 2043.5,906 2044.0,904 2044.5,920 2045.0,906 2045.5,909 2046.0,908 2046.5,919 2047.0,902 2047.5,910 2048.0,913 2048.5,918 2049.0,920 2049.5,924 2050.0,919 2050.5,917 2051.0,921 2051.5,918 2052.0,921 2052.5,922 2053.0,927 2053.5,930 2054.0,920 2054.5,923 2055.0,927 2055.5,928 2056.0,927 2056.5,932 2057.0,929 2057.5,921 2058.0,938 2058.5,925 2059.0,941 2059.5,934 2060.0,935 2060.5,925 2061.0,935 2061.5,932 2062.0,929 2062.5,936 2063.0,937 2063.5,940 2064.0,927 2064.5,929 2065.0,941 2065.5,937 2066.0,938 2066.5,932 2067.0,937 2067.5,940 2068.0,930 2068.5,934 2069.0,940 2069.5,946 2070.0,937 2070.5,943 2071.0,936 2071.5,934 2072.0,944 2072.5,935 2073.0,940 2073.5,937 2074.0,942 2074.5,933 2075.0,932 2075.5,931 2076.0,938 2076.5,946 2077.0,943 2077.5,940 2078.0,938 2078.5,946 2079.0,939 2079.5,945 2080.0,947 2080.5,943 2081.0,942 2081.5,942 2082.0,939 2082.5,941 2083.0,935 2083.5,935 2084.0,948 2084.5,939 2085.0,931 2085.5,947 2086.0,947 2086.5,942 2087.0,933 2087.5,950 2088.0,945 2088.5,946 2089.0,938 2089.5,941 2090.0,937 2090.5,937 2091.0,932 2091.5,935 2092.0,936 2092.5,940 2093.0,945 2093.5,943 2094.0,931 2094.5,947 2095.0,933 2095.5,944 2096.0,940 2096.5,942 2097.0,938 2097.5,935 2098.0,949 2098.5,928 2099.0,935 2099.5,947 2100.0,940 2100.5,940 2101.0,936 2101.5,935 2102.0,944 2102.5,941 2103.0,944 2103.5,946 2104.0,933 2104.5,937 2105.0,939 2105.5,944 2106.0,946 2106.5,937 2107.0,941 2107.5,941 2108.0,941 2108.5,950 2109.0,938 2109.5,942 2110.0,929 2110.5,941 2111.0,942 2111.5,945 2112.0,938 2112.5,938 2113.0,934 2113.5,938 2114.0,954 2114.5,932 2115.0,932 2115.5,942 2116.0,937 2116.5,949 2117.0,935 2117.5,952 2118.0,941 2118.5,935 2119.0,932 2119.5,939 2120.0,940 2120.5,945 2121.0,936 2121.5,954 2122.0,946 2122.5,940 2123.0,937 2123.5,952 2124.0,935 2124.5,943 2125.0,946 2125.5,933 2126.0,941 2126.5,936 2127.0,946 2127.5,947 2128.0,942 2128.5,941 2129.0,934 2129.5,953 2130.0,949 2130.5,945 2131.0,949 2131.5,941 2132.0,936 2132.5,947 2133.0,937 2133.5,940 2134.0,947 2134.5,935 2135.0,944 2135.5,942 2136.0,937 2136.5,937 2137.0,942 2137.5,941 2138.0,943 2138.5,934 2139.0,942 2139.5,929 2140.0,937 2140.5,946 2141.0,938 2141.5,939 2142.0,937 2142.5,942 2143.0,947 2143.5,940 2144.0,946 2144.5,935 2145.0,945 2145.5,941 2146.0,942 2146.5,937 2147.0,938"/>
<path class="c" stroke="#ff0000" d="M167.0,1272 167.5,1238 168.0,1259 168.5,1252 169.0,1253 169.5,1255 170.0,1241 170.5,1255 171.0,1250 171.5,1275 172.0,1259 172.5,1255 173.0,1256 173.5,1254 174.0,1252 174.5,1258 175.0,1266 175.5,1261 176.0,1271 176.5,1263 177.0,1266 177.5,1289 178.0,1272 178.5,1265 179.0,1268 179.5,1274 180.0,1298 180.5,1269 181.0,1270 181.5,1280 182.0,1266 182.5,1271 183.0,1281 183.5,1279 184.0,1276 184.5,1281 185.0,1259 185.5,1285 186.0,1270 186.5,1255 187.0,1281 187.5,1285 188.0,1273 188.5,1271 189.0,1280 189.5,1279 190.0,1290 190.5,1285 191.0,1281 191.5,1288 192.0,1277 192.5,1272 193.0,1284 193.5,1284 194.0,1278 194.5,1274 195.0,1283 195.5,1264 196.0,1288 196.5,1288 197.0,1272 197.5,1286 198.0,1278 198.5,1292 199.0,1270 199.5,1278 200.0,1291 200.5,1293 201.0,1267 201.5,1279 202.0,1285 202.5,1278 203.0,1295 203.5,1273 204.0,1286 204.5,1275 205.0,1295 205.5,1284 206.0,1282 206.5,1272 207.0,1299 207.5,1292 208.0,1292 208.5,1295 209.0,1289 209.5,1281 210.0,1279 210.5,1279 211.0,1295 211.5,1273 212.0,1279 212.5,1281 213.0,1284 213.5,1287 214.0,1272 214.5,1268 215.0,1282 215.5,1292 216.0,1289 216.5,1285 217.0,1282 217.5,1287 218.0,1283 218.5,1292 219.0,1280 219.5,1288 220.0,1287 220.5,1293 221.0,1291 221.5,1309 222.0,1303 222.5,1304 223.0,1278 223.5,1292 224.0,1290 224.5,1300 225.0,1278 225.5,1305 226.0,1303 226.5,1285 227.0,1287 227.5,1287 228.0,1293 228.5,1298 229.0,1309 229.5,1292 230.0,1299 230.5,1295 231.0,1309 231.5,1301 232.0,1307 232.5,1288 233.0,1296 233.5,1291 234.0,1309 234.5,1301 235.0,1293 235.5,1289 236.0,1299 236.5,1289 237.0,1287 237.5,1298 238.0,1312 238.5,1292 239.0,1290 239.5,1286 240.0,1285 240.5,1300 241.0,1303 241.5,1297 242.0,1299 242.5,1298 243.0,1298 243.5,1285 244.0,1293 244.5,1298 245.0,1291 245.5,1293 246.0,1290 246.5,1294 247.0,1304 247.5,1294 248.0,1296 248.5,1304 249.0,1308 249.5,1313 250.0,1284 250.5,1308 251.0,1298 251.5,1303 252.0,1309 252.5,1312 253.0,1312 253.5,1305 254.0,1317 254.5,1302 255.0,1303 255.5,1309 256.0,1298 256.5,1319 257.0,1310 257.5,1318 258.0,1301 258.5,1297 259.0,1301 259.5,1306 260.0,1295 260.5,1303 261.0,1300 261.5,1313 262.0,1295 262.5,1309 263.0,1296 263.5,1294 264.0,1296 264.5,1292 265.0,1303 265.5,1310 266.0,1303 266.5,1306 267.0,1314 267.5,1304 268.0,1304 268.5,1300 269.0,1290 269.5,1309 270.0,1290 270.5,1309 271.0,1304 271.5,1313 272.0,1303 272.5,1297 273.0,1305 273.5,1298 274.0,1300 274.5,1301 275.0,1298 275.5,1297 276.0,1292 276.5,1297 277.0,1282 277.5,1296 278.0,1289 278.5,1307 279.0,1309 279.5,1284 280.0,1300 280.5,1298 281.0,1291 281.5,1306 282.0,1294 282.5,1284 283.0,1295 283.5,1296 284.0,1297 284.5,1286 285.0,1300 285.5,1300 286.0,1284 286.5,1287 287.0,1291 287.5,1286 288.0,1303 288.5,1290 289.0,1279 289.5,1281 290.0,1286 290.5,1305 291.0,1286 291.5,1288 292.0,1292 292.5,1288 293.0,1307 293.5,1286 294.0,1296 294.5,1292 295.0,1295 295.5,1281 296.0,1304 296.5,1289 297.0,1290 297.5,1283 298.0,1284 298.5,1294 299.0,1297 299.5,1295 300.0,1299 300.5,1295 301.0,1289 301.5,1295 302.0,1294 302.5,1288 303.0,1295 303.5,1299 304.0,1292 304.5,1287 305.0,1296 305.5,1305 306.0,1289 306.5,1290 307.0,1289 307.5,1300 308.0,1275 308.5,1292 309.0,1299 309.5,1283 310.0,1301 310.5,1294 311.0,1285 311.5,1291 312.0,1278 312.5,1285 313.0,1304 313.5,1282 314.0,1303 314.5,1288 315.0,1296 315.5,1288 316.0,1270 316.5,1282 317.0,1288 317.5,1277 318.0,1275 318.5,1289 319.0,1280 319.5,1272 320.0,1280 320.5,1292 321.0,1281 321.5,1298 322.0,1296 322.5,1284 323.0,1275 323.5,1274 324.0,1283 324.5,1291 325.0,1286 325.5,1292 326.0,1279 326.5,1288 327.0,1283 327.5,1284 328.0,1277 328.5,1276 329.0,1284 329.5,1280 330.0,1281 330.5,1297 331.0,1287 331.5,1306 332.0,1295 332.5,1282 333.0,1293 333.5,1289 334.0,1281 334.5,1295 335.0,1280 335.5,1254 336.0,1292 336.5,1281 337.0,1298 337.5,1281 338.0,1276 338.5,1297 339.0,1276 339.5,1285 340.0,1294 340.5,1282 341.0,1280 341.5,1281 342.0,1287 342.5,1274 343.0,1286 343.5,1286 344.0,1301 344.5,1281 345.0,1278 345.5,1291 346.0,1283 346.5,1289 347.0,1289 347.5,1297 348.0,1283 348.5,1287 349.0,1270 349.5,1281 350.0,1299 350.5,1282 351.0,1281 351.5,1277 352.0,1291 352.5,1288 353.0,1277 353.5,1291 354.0,1288 354.5,1297 355.0,1281 355.5,1300 356.0,1290 356.5,1286 357.0,1279 357.5,1284 358.0,1292 358.5,1283 359.0,1293 359.5,1288 360.0,1294 360.5,1289 361.0,1282 361.5,1268 362.0,1285 362.5,1289 363.0,1284 363.5,1288 364.0,1279 364.5,1280 365.0,1275 365.5,1292 366.0,1282 366.5,1276 367.0,1269 367.5,1277 368.0,1289 368.5,1281 369.0,1267 369.5,1288 370.0,1289 370.5,1285 371.0,1284 371.5,1287 372.0,1282 372.5,1284 373.0,1272 373.5,1290 374.0,1280 374.5,1294 375.0,1262 375.5,1284 376.0,1286 376.5,1275 377.0,1281 377.5,1283 378.0,1281 378.5,1272 379.0,1275 379.5,1285 380.0,1287 380.5,1278 381.0,1278 381.5,1280 382.0,1287 382.5,1271 383.0,1269 383.5,1281 384.0,1271 384.5,1275 385.0,1280 385.5,1283 386.0,1271 386.5,1285 387.0,1265 387.5,1283 388.0,1266 388.5,1268 389.0,1282 389.5,1273 390.0,1270 390.5,1272 391.0,1279 391.5,1275 392.0,1275 392.5,1283 393.0,1269 393.5,1271 394.0,1270 394.5,1283 395.0,1282 395.5,1284 396.0,1273 396.5,1272 397.0,1280 397.5,1271 398.0,1281 398.5,1280 399.0,1270 399.5,1275 400.0,1275 400.5,1290 401.0,1294 401.5,1275 402.0,1276 402.5,1257 403.0,1277 403.5,1273 404.0,1264 404.5,1277 405.0,1258 405.5,1268 406.0,1271 406.5,1259 407.0,1275 407.5,1277 408.0,1258 408.5,1258 409.0,1274 409.5,1270 410.0,1261 410.5,1268 411.0,1270 411.5,1270 412.0,1277 412.5,1274 413.0,1284 413.5,1281 414.0,1275 414.5,1277 415.0,1278 415.5,1272 416.0,1249 416.5,1273 417.0,1266 417.5,1278 418.0,1267 418.5,1274 419.0,1270 419.5,1280 420.0,1269 420.5,1266 421.0,1271 421.5,1265 422.0,1270 422.5,1269 423.0,1270 423.5,1283 424.0,1264 424.5,1267 425.0,1265 425.5,1271 426.0,1256 426.5,1254 427.0,1263 427.5,1267 428.0,1261 428.5,1257 429.0,1253 429.5,1263 430.0,1270 430.5,1261 431.0,1260 431.5,1262 432.0,1252 432.5,1256 433.0,1257 433.5,1261 434.0,1258 434.5,1249 435.0,1267 435.5,1272 436.0,1256 436.5,1261 437.0,1260 437.5,1264 438.0,1246 438.5,1270 439.0,1254 439.5,1267 440.0,1258 440.5,1254 441.0,1256 441.5,1269 442.0,1249 442.5,1253 443.0,1252 443.5,1242 444.0,1265 444.5,1260 445.0,1255 445.5,1265 446.0,1248 446.5,1255 447.0,1269 447.5,1263 448.0,1237 448.5,1236 449.0,1246 449.5,1262 450.0,1250 450.5,1251 451.0,1257 451.5,1246 452.0,1254 452.5,1258 453.0,1256 453.5,1255 454.0,1247 454.5,1256 455.0,1249 455.5,1262 456.0,1270 456.5,1245 457.0,1234 457.5,1247 458.0,1252 458.5,1257 459.0,1257 459.5,1237 460.0,1241 460.5,1257 461.0,1238 461.5,1255 462.0,1245 462.5,1252 463.0,1252 463.5,1253 464.0,1253 464.5,1240 465.0,1250 465.5,1248 466.0,1250 466.5,1258 467.0,1246 467.5,1243 468.0,1243 468.5,1247 469.0,1255 469.5,1243 470.0,1259 470.5,1253 471.0,1249 471.5,1240 472.0,1252 472.5,1256 473.0,1237 473.5,1259 474.0,1262 474.5,1252 475.0,1252 475.5,1266 476.0,1257 476.5,1240 477.0,1246 477.5,1245 478.0,1245 478.5,1228 479.0,1252 479.5,1241 480.0,1248 480.5,1246 481.0,1254 481.5,1245 482.0,1242 482.5,1252 483.0,1259 483.5,1245 484.0,1258 484.5,1249 485.0,1242 485.5,1257 486.0,1238 486.5,1252 487.0,1239 487.5,1246 488.0,1232 488.5,1235 489.0,1249 489.5,1242 490.0,1240 490.5,1237 491.0,1244 491.5,1229 492.0,1232 492.5,1239 493.0,1234 493.5,1236 494.0,1241 494.5,1241 495.0,1240 495.5,1255 496.0,1250 496.5,1252 497.0,1242 497.5,1239 498.0,1232 498.5,1241 499.0,1229 499.5,1241 500.0,1252 500.5,1259 501.0,1255 501.5,1241 502.0,1252 502.5,1242 503.0,1254 503.5,1246 504.0,1253 504.5,1264 505.0,1252 505.5,1262 506.0,1244 506.5,1239 507.0,1251 507.5,1253 508.0,1234 508.5,1238 509.0,1225 509.5,1234 510.0,1242 510.5,1234 511.0,1229 511.5,1222 512.0,1236 512.5,1244 513.0,1237 513.5,1235 514.0,1223 514.5,1247 515.0,1233 515.5,1233 516.0,1241 516.5,1219 517.0,1235 517.5,1236 518.0,1240 518.5,1248 519.0,1242 519.5,1213 520.0,1236 520.5,1241 521.0,1240 521.5,1229 522.0,1226 522.5,1243 523.0,1241 523.5,1238 524.0,1224 524.5,1251 525.0,1219 525.5,1234 526.0,1253 526.5,1236 527.0,1239 527.5,1228 528.0,1248 528.5,1228 529.0,1241 529.5,1240 530.0,1232 530.5,1247 531.0,1230 531.5,1236 532.0,1241 532.5,1236 533.0,1246 533.5,1249 534.0,1240 534.5,1238 535.0,1238 535.5,1240 536.0,1249 536.5,1242 537.0,1247 537.5,1243 538.0,1237 538.5,1251 539.0,1236 539.5,1244 540.0,1255 540.5,1235 541.0,1243 541.5,1231 542.0,1240 542.5,1232 543.0,1241 543.5,1240 544.0,1247 544.5,1258 545.0,1248 545.5,1251 546.0,1245 546.5,1243 547.0,1238 547.5,1229 548.0,1243 548.5,1253 549.0,1243 549.5,1234 550.0,1250 550.5,1233 551.0,1231 551.5,1227 552.0,1228 552.5,1234 553.0,1252 553.5,1234 554.0,1228 554.5,1231 555.0,1234 555.5,1222 556.0,1236 556.5,1241 557.0,1238 557.5,1239 558.0,1224 558.5,1221 559.0,1244 559.5,1242 560.0,1221 560.5,1234 561.0,1233 561.5,1236 562.0,1233 562.5,1227 563.0,1232 563.5,1231 564.0,1229 564.5,1215 565.0,1211 565.5,1223 566.0,1216 566.5,1231 567.0,1234 567.5,1230 568.0,1225 568.5,1228 569.0,1237 569.5,1222 570.0,1235 570.5,1238 571.0,1230 571.5,1239 572.0,1217 572.5,1234 573.0,1220 573.5,1221 574.0,1219 574.5,1230 575.0,1219 575.5,1227 576.0,1218 576.5,1235 577.0,1241 577.5,1228 578.0,1239 578.5,1231 579.0,1243 579.5,1227 580.0,1214 580.5,1238 581.0,1225 581.5,1219 582.0,1221 582.5,1214 583.0,1225 583.5,1218 584.0,1237 584.5,1230 585.0,1212 585.5,1212 586.0,1218 586.5,1207 587.0,1220 587.5,1220 588.0,1213 588.5,1215 589.0,1222 589.5,1229 590.0,1229 590.5,1217 591.0,1224 591.5,1211 592.0,1220 592.5,1210 593.0,1223 593.5,1208 594.0,1211 594.5,1219 595.0,1224 595.5,1209 596.0,1216 596.5,1222 597.0,1223 597.5,1215 598.0,1223 598.5,1220 599.0,1234 599.5,1227 600.0,1212 600.5,1192 601.0,1223 601.5,1231 602.0,1223 602.5,1228 603.0,1217 603.5,1209 604.0,1225 604.5,1220 605.0,1224 605.5,1207 606.0,1218 606.5,1212 607.0,1222 607.5,1211 608.0,1210 608.5,1209 609.0,1223 609.5,1213 610.0,1207 610.5,1205 611.0,1204 611.5,1224 612.0,1198 612.5,1206 613.0,1217 613.5,1222 614.0,1211 614.5,1218 615.0,1218 615.5,1220 616.0,1212 616.5,1224 617.0,1213 617.5,1222 618.0,1201 618.5,1217 619.0,1199 619.5,1197 620.0,1212 620.5,1202 621.0,1212 621.5,1193 622.0,1220 622.5,1208 623.0,1198 623.5,1208 624.0,1213 624.5,1199 625.0,1209 625.5,1220 626.0,1211 626.5,1203 627.0,1199 627.5,1208 628.0,1192 628.5,1186 629.0,1199 629.5,1196 630.0,1218 630.5,1205 631.0,1196 631.5,1194 632.0,1210 632.5,1190 633.0,1196 633.5,1199 634.0,1199 634.5,1198 635.0,1197 635.5,1206 636.0,1208 636.5,1181 637.0,1211 637.5,1194 638.0,1203 638.5,1187 639.0,1195 639.5,1195 640.0,1194 640.5,1200 641.0,1198 641.5,1185 642.0,1192 642.5,1199 643.0,1198 643.5,1190 644.0,1190 644.5,1190 645.0,1182 645.5,1180 646.0,1202 646.5,1186 647.0,1189 647.5,1182 648.0,1197 648.5,1201 649.0,1185 649.5,1190 650.0,1180 650.5,1200 651.0,1193 651.5,1179 652.0,1196 652.5,1188 653.0,1188 653.5,1187 654.0,1179 654.5,1179 655.0,1188 655.5,1182 656.0,1174 656.5,1198 657.0,1181 657.5,1178 658.0,1177 658.5,1189 659.0,1192 659.5,1186 660.0,1191 660.5,1172 661.0,1180 661.5,1179 662.0,1182 662.5,1185 663.0,1164 663.5,1198 664.0,1172 664.5,1184 665.0,1184 665.5,1184 666.0,1179 666.5,1157 667.0,1167 667.5,1182 668.0,1168 668.5,1167 669.0,1155 669.5,1184 670.0,1178 670.5,1165 671.0,1171 671.5,1171 672.0,1162 672.5,1168 673.0,1172 673.5,1174 674.0,1179 674.5,1168 675.0,1163 675.5,1170 676.0,1160 676.5,1154 677.0,1174 677.5,1160 678.0,1163 678.5,1167 679.0,1151 679.5,1166 680.0,1164 680.5,1159 681.0,1163 681.5,1153 682.0,1140 682.5,1156 683.0,1150 683.5,1165 684.0,1159 684.5,1152 685.0,1156 685.5,1167 686.0,1165 686.5,1158 687.0,1158 687.5,1151 688.0,1152 688.5,1159 689.0,1152 689.5,1155 690.0,1142 690.5,1136 691.0,1135 691.5,1145 692.0,1160 692.5,1157 693.0,1136 693.5,1130 694.0,1150 694.5,1147 695.0,1129 695.5,1151 696.0,1142 696.5,1152 697.0,1143 697.5,1155 698.0,1142 698.5,1130 699.0,1137 699.5,1132 700.0,1146 700.5,1128 701.0,1123 701.5,1143 702.0,1147 702.5,1149 703.0,1145 703.5,1121 704.0,1128 704.5,1128 705.0,1133 705.5,1112 706.0,1132 706.5,1135 707.0,1123 707.5,1133 708.0,1143 708.5,1132 709.0,1142 709.5,1141 710.0,1135 710.5,1134 711.0,1126 711.5,1140 712.0,1122 712.5,1119 713.0,1131 713.5,1117 714.0,1127 714.5,1133 715.0,1124 715.5,1124 716.0,1132 716.5,1131 717.0,1109 717.5,1112 718.0,1136 718.5,1127 719.0,1103 719.5,1109 720.0,1122 720.5,1111 721.0,1124 721.5,1120 722.0,1123 722.5,1107 723.0,1123 723.5,1136 724.0,1110 724.5,1130 725.0,1127 725.5,1125 726.0,1118 726.5,1109 727.0,1112 727.5,1128 728.0,1130 728.5,1133 729.0,1130 729.5,1129 730.0,1116 730.5,1108 731.0,1120 731.5,1123 732.0,1118 732.5,1102 733.0,1111 733.5,1101 734.0,1117 734.5,1105 735.0,1113 735.5,1118 736.0,1116 736.5,1128 737.0,1104 737.5,1093 738.0,1123 738.5,1128 739.0,1127 739.5,1116 740.0,1118 740.5,1113 741.0,1099 741.5,1106 742.0,1116 742.5,1105 743.0,1129 743.5,1095 744.0,1105 744.5,1120 745.0,1102 745.5,1096 746.0,1093 746.5,1098 747.0,1119 747.5,1107 748.0,1106 748.5,1095 749.0,1107 749.5,1099 750.0,1087 750.5,1091 751.0,1096 751.5,1104 752.0,1091 752.5,1095 753.0,1109 753.5,1080 754.0,1075 754.5,1096 755.0,1090 755.5,1084 756.0,1087 756.5,1081 757.0,1089 757.5,1077 758.0,1091 758.5,1070 759.0,1073 759.5,1081 760.0,1073 760.5,1083 761.0,1074 761.5,1068 762.0,1073 762.5,1064 763.0,1052 763.5,1055 764.0,1057 764.5,1058 765.0,1062 765.5,1069 766.0,1064 766.5,1075 767.0,1068 767.5,1052 768.0,1069 768.5,1063 769.0,1046 769.5,1053 770.0,1060 770.5,1051 771.0,1059 771.5,1056 772.0,1055 772.5,1045 773.0,1051 773.5,1042 774.0,1051 774.5,1025 775.0,1043 775.5,1050 776.0,1041 776.5,1032 777.0,1036 777.5,1020 778.0,1018 778.5,1022 779.0,1022 779.5,1032 780.0,1011 780.5,1029 781.0,1001 781.5,1008 782.0,1013 782.5,1024 783.0,1004 783.5,987 784.0,1011 784.5,1005 785.0,992 785.5,990 786.0,992 786.5,998 787.0,1002 787.5,977 788.0,1013 788.5,987 789.0,982 789.5,996 790.0,983 790.5,1003 791.0,990 791.5,974 792.0,972 792.5,970 793.0,970 793.5,978 794.0,963 794.5,984 795.0,963 795.5,960 796.0,969 796.5,936 797.0,945 797.5,958 798.0,950 798.5,948 799.0,951 799.5,939 800.0,942 800.5,927 801.0,920 801.5,950 802.0,925 802.5,925 803.0,944 803.5,938 804.0,920 804.5,918 805.0,920 805.5,910 806.0,924 806.5,918 807.0,916 807.5,922 808.0,920 808.5,930 809.0,926 809.5,890 810.0,916 810.5,893 811.0,889 811.5,910 812.0,893 812.5,896 813.0,902 813.5,883 814.0,890 814.5,893 815.0,890 815.5,889 816.0,893 816.5,870 817.0,879 817.5,866 818.0,869 818.5,862 819.0,884 819.5,864 820.0,858 820.5,888 821.0,872 821.5,862 822.0,868 822.5,867 823.0,876 823.5,864 824.0,844 824.5,827 825.0,846 825.5,875 826.0,845 826.5,847 827.0,869 827.5,846 828.0,875 828.5,859 829.0,866 829.5,854 830.0,866 830.5,859 831.0,887 831.5,867 832.0,887 832.5,907 833.0,892 833.5,875 834.0,882 834.5,895 835.0,897 835.5,913 836.0,886 836.5,895 837.0,911 837.5,915 838.0,927 838.5,922 839.0,903 839.5,920 840.0,925 840.5,932 841.0,921 841.5,920 842.0,926 842.5,918 843.0,926 843.5,934 844.0,935 844.5,923 845.0,933 845.5,915 846.0,950 846.5,937 847.0,948 847.5,935 848.0,948 848.5,956 849.0,963 849.5,939 850.0,966 850.5,956 851.0,952 851.5,968 852.0,961 852.5,963 853.0,961 853.5,973 854.0,973 854.5,973 855.0,967 855.5,969 856.0,986 856.5,998 857.0,986 857.5,1005 858.0,991 858.5,982 859.0,1003 859.5,987 860.0,1008 860.5,1014 861.0,1001 861.5,1005 862.0,1034 862.5,1015 863.0,1015 863.5,1023 864.0,1014 864.5,1016 865.0,1023 865.5,994 866.0,1051 866.5,1011 867.0,1012 867.5,1032 868.0,1028 868.5,1014 869.0,1033 869.5,1007 870.0,1025 870.5,1017 871.0,1027 871.5,1044 872.0,1042 872.5,1046 873.0,1055 873.5,1045 874.0,1038 874.5,1044 875.0,1069 875.5,1050 876.0,1055 876.5,1050 877.0,1056 877.5,1059 878.0,1054 878.5,1053 879.0,1046 879.5,1045 880.0,1062 880.5,1067 881.0,1069 881.5,1058 882.0,1047 882.5,1067 883.0,1067 883.5,1040 884.0,1070 884.5,1068 885.0,1082 885.5,1047 886.0,1045 886.5,1072 887.0,1039 887.5,1053 888.0,1048 888.5,1050 889.0,1018 889.5,1059 890.0,1074 890.5,1067 891.0,1067 891.5,1056 892.0,1079 892.5,1066 893.0,1073 893.5,1039 894.0,1064 894.5,1045 895.0,1066 895.5,1065 896.0,1050 896.5,1069 897.0,1083 897.5,1077 898.0,1080 898.5,1063 899.0,1066 899.5,1061 900.0,1078 900.5,1092 901.0,1082 901.5,1076 902.0,1061 902.5,1080 903.0,1071 903.5,1049 904.0,1051 904.5,1068 905.0,1061 905.5,1094 906.0,1074 906.5,1061 907.0,1068 907.5,1096 908.0,1064 908.5,1086 909.0,1087 909.5,1096 910.0,1084 910.5,1072 911.0,1084 911.5,1077 912.0,1089 912.5,1075 913.0,1100 913.5,1073 914.0,1079 914.5,1065 915.0,1075 915.5,1073 916.0,1075 916.5,1085 917.0,1067 917.5,1064 918.0,1090 918.5,1073 919.0,1069 919.5,1093 920.0,1089 920.5,1049 921.0,1074 921.5,1089 922.0,1098 922.5,1072 923.0,1098 923.5,1068 924.0,1075 924.5,1080 925.0,1078 925.5,1089 926.0,1092 926.5,1078 927.0,1096 927.5,1070 928.0,1076 928.5,1101 929.0,1080 929.5,1093 930.0,1074 930.5,1077 931.0,1079 931.5,1084 932.0,1078 932.5,1083 933.0,1092 933.5,1099 934.0,1085 934.5,1092 935.0,1095 935.5,1069 936.0,1046 936.5,1103 937.0,1100 937.5,1084 938.0,1089 938.5,1074 939.0,1070 939.5,1093 940.0,1072 940.5,1104 941.0,1085 941.5,1098 942.0,1120 942.5,1120 943.0,1092 943.5,1109 944.0,1082 944.5,1087 945.0,1098 945.5,1110 946.0,1084 946.5,1097 947.0,1090 947.5,1072 948.0,1085 948.5,1106 949.0,1085 949.5,1093 950.0,1097 950.5,1078 951.0,1105 951.5,1110 952.0,1113 952.5,1112 953.0,1091 953.5,1092 954.0,1091 954.5,1091 955.0,1094 955.5,1118 956.0,1125 956.5,1098 957.0,1117 957.5,1091 958.0,1103 958.5,1094 959.0,1086 959.5,1107 960.0,1108 960.5,1102 961.0,1101 961.5,1095 962.0,1107 962.5,1102 963.0,1114 963.5,1097 964.0,1116 964.5,1121 965.0,1131 965.5,1130 966.0,1120 966.5,1110 967.0,1097 967.5,1120 968.0,1138 968.5,1142 969.0,1093 969.5,1112 970.0,1118 970.5,1109 971.0,1124 971.5,1122 972.0,1116 972.5,1122 973.0,1104 973.5,1113 974.0,1115 974.5,1138 975.0,1110 975.5,1128 976.0,1142 976.5,1133 977.0,1145 977.5,1129 978.0,1142 978.5,1148 979.0,1164 979.5,1146 980.0,1154 980.5,1138 981.0,1139 981.5,1157 982.0,1145 982.5,1155 983.0,1148 983.5,1164 984.0,1167 984.5,1132 985.0,1163 985.5,1148 986.0,1149 986.5,1142 987.0,1152 987.5,1132 988.0,1137 988.5,1137 989.0,1149 989.5,1156 990.0,1154 990.5,1150 991.0,1140 991.5,1128 992.0,1152 992.5,1150 993.0,1153 993.5,1165 994.0,1149 994.5,1150 995.0,1129 995.5,1161 996.0,1156 996.5,1151 997.0,1164 997.5,1152 998.0,1159 998.5,1186 999.0,1174 999.5,1177 1000.0,1175 1000.5,1174 1001.0,1169 1001.5,1190 1002.0,1166 1002.5,1174 1003.0,1164 1003.5,1162 1004.0,1142 1004.5,1147 1005.0,1182 1005.5,1182 1006.0,1164 1006.5,1169 1007.0,1176 1007.5,1161 1008.0,1190 1008.5,1163 1009.0,1167 1009.5,1151 1010.0,1191 1010.5,1177 1011.0,1193 1011.5,1167 1012.0,1181 1012.5,1178 1013.0,1179 1013.5,1197 1014.0,1199 1014.5,1189 1015.0,1171 1015.5,1184 1016.0,1189 1016.5,1181 1017.0,1187 1017.5,1183 1018.0,1170 1018.5,1184 1019.0,1199 1019.5,1176 1020.0,1189 1020.5,1198 1021.0,1178 1021.5,1191 1022.0,1177 1022.5,1188 1023.0,1180 1023.5,1185 1024.0,1188 1024.5,1189 1025.0,1189 1025.5,1168 1026.0,1206 1026.5,1187 1027.0,1179 1027.5,1183 1028.0,1193 1028.5,1180 1029.0,1187 1029.5,1187 1030.0,1198 1030.5,1186 1031.0,1199 1031.5,1199 1032.0,1196 1032.5,1210 1033.0,1199 1033.5,1188 1034.0,1202 1034.5,1201 1035.0,1199 1035.5,1202 1036.0,1222 1036.5,1201 1037.0,1203 1037.5,1196 1038.0,1212 1038.5,1199 1039.0,1193 1039.5,1189 1040.0,1208 1040.5,1211 1041.0,1189 1041.5,1199 1042.0,1213 1042.5,1218 1043.0,1196 1043.5,1205 1044.0,1218 1044.5,1205 1045.0,1207 1045.5,1206 1046.0,1199 1046.5,1213 1047.0,1216 1047.5,1200 1048.0,1216 1048.5,1226 1049.0,1218 1049.5,1226 1050.0,1212 1050.5,1231 1051.0,1210 1051.5,1236 1052.0,1213 1052.5,1210 1053.0,1208 1053.5,1212 1054.0,1211 1054.5,1208 1055.0,1211 1055.5,1221 1056.0,1223 1056.5,1211 1057.0,1227 1057.5,1205 1058.0,1206 1058.5,1205 1059.0,1222 1059.5,1201 1060.0,1203 1060.5,1228 1061.0,1232 1061.5,1229 1062.0,1202 1062.5,1216 1063.0,1224 1063.5,1217 1064.0,1201 1064.5,1214 1065.0,1202 1065.5,1207 1066.0,1240 1066.5,1226 1067.0,1207 1067.5,1207 1068.0,1226 1068.5,1216 1069.0,1228 1069.5,1217 1070.0,1222 1070.5,1226 1071.0,1214 1071.5,1206 1072.0,1212 1072.5,1217 1073.0,1222 1073.5,1223 1074.0,1224 1074.5,1230 1075.0,1217 1075.5,1240 1076.0,1246 1076.5,1231 1077.0,1230 1077.5,1240 1078.0,1234 1078.5,1230 1079.0,1226 1079.5,1219 1080.0,1205 1080.5,1231 1081.0,1235 1081.5,1213 1082.0,1222 1082.5,1224 1083.0,1218 1083.5,1215 1084.0,1219 1084.5,1204 1085.0,1223 1085.5,1221 1086.0,1244 1086.5,1234 1087.0,1222 1087.5,1226 1088.0,1242 1088.5,1241 1089.0,1228 1089.5,1225 1090.0,1212 1090.5,1222 1091.0,1224 1091.5,1218 1092.0,1242 1092.5,1208 1093.0,1225 1093.5,1230 1094.0,1230 1094.5,1242 1095.0,1214 1095.5,1221 1096.0,1229 1096.5,1230 1097.0,1226 1097.5,1223 1098.0,1240 1098.5,1221 1099.0,1225 1099.5,1244 1100.0,1247 1100.5,1239 1101.0,1223 1101.5,1223 1102.0,1222 1102.5,1220 1103.0,1226 1103.5,1242 1104.0,1232 1104.5,1223 1105.0,1223 1105.5,1220 1106.0,1243 1106.5,1215 1107.0,1236 1107.5,1222 1108.0,1226 1108.5,1223 1109.0,1245 1109.5,1236 1110.0,1258 1110.5,1228 1111.0,1227 1111.5,1242 1112.0,1241 1112.5,1233 1113.0,1217 1113.5,1247 1114.0,1239 1114.5,1237 1115.0,1228 1115.5,1239 1116.0,1228 1116.5,1233 1117.0,1231 1117.5,1244 1118.0,1229 1118.5,1230 1119.0,1242 1119.5,1235 1120.0,1232 1120.5,1230 1121.0,1240 1121.5,1225 1122.0,1234 1122.5,1247 1123.0,1233 1123.5,1223 1124.0,1219 1124.5,1231 1125.0,1220 1125.5,1217 1126.0,1224 1126.5,1222 1127.0,1238 1127.5,1219 1128.0,1245 1128.5,1225 1129.0,1233 1129.5,1238 1130.0,1234 1130.5,1238 1131.0,1225 1131.5,1215 1132.0,1232 1132.5,1220 1133.0,1229 1133.5,1242 1134.0,1233 1134.5,1230 1135.0,1225 1135.5,1232 1136.0,1233 1136.5,1222 1137.0,1237 1137.5,1227 1138.0,1237 1138.5,1232 1139.0,1243 1139.5,1242 1140.0,1235 1140.5,1234 1141.0,1239 1141.5,1246 1142.0,1243 1142.5,1236 1143.0,1237 1143.5,1246 1144.0,1221 1144.5,1238 1145.0,1226 1145.5,1243 1146.0,1229 1146.5,1232 1147.0,1225 1147.5,1234 1148.0,1240 1148.5,1248 1149.0,1226 1149.5,1233 1150.0,1255 1150.5,1246 1151.0,1239 1151.5,1244 1152.0,1222 1152.5,1253 1153.0,1242 1153.5,1229 1154.0,1249 1154.5,1236 1155.0,1233 1155.5,1244 1156.0,1243 1156.5,1237 1157.0,1239 1157.5,1229 1158.0,1228 1158.5,1246 1159.0,1248 1159.5,1241 1160.0,1240 1160.5,1234 1161.0,1235 1161.5,1229 1162.0,1249 1162.5,1231 1163.0,1239 1163.5,1236 1164.0,1225 1164.5,1251 1165.0,1234 1165.5,1231 1166.0,1239 1166.5,1232 1167.0,1240 1167.5,1233 1168.0,1245 1168.5,1242 1169.0,1232 1169.5,1251 1170.0,1245 1170.5,1235 1171.0,1246 1171.5,1247 1172.0,1258 1172.5,1237 1173.0,1249 1173.5,1242 1174.0,1247 1174.5,1239 1175.0,1240 1175.5,1244 1176.0,1231 1176.5,1223 1177.0,1239 1177.5,1235 1178.0,1239 1178.5,1243 1179.0,1236 1179.5,1247 1180.0,1238 1180.5,1240 1181.0,1245 1181.5,1244 1182.0,1239 1182.5,1241 1183.0,1235 1183.5,1237 1184.0,1242 1184.5,1248 1185.0,1239 1185.5,1250 1186.0,1258 1186.5,1260 1187.0,1245 1187.5,1253 1188.0,1250 1188.5,1252 1189.0,1252 1189.5,1250 1190.0,1253 1190.5,1248 1191.0,1245 1191.5,1249 1192.0,1251 1192.5,1257 1193.0,1251 1193.5,1253 1194.0,1258 1194.5,1240 1195.0,1245 1195.5,1251 1196.0,1247 1196.5,1239 1197.0,1254 1197.5,1246 1198.0,1239 1198.5,1261 1199.0,1237 1199.5,1247 1200.0,1242 1200.5,1248 1201.0,1251 1201.5,1241 1202.0,1246 1202.5,1245 1203.0,1238 1203.5,1255 1204.0,1247 1204.5,1244 1205.0,1241 1205.5,1244 1206.0,1248 1206.5,1244 1207.0,1258 1207.5,1232 1208.0,1235 1208.5,1250 1209.0,1239 1209.5,1253 1210.0,1249 1210.5,1259 1211.0,1258 1211.5,1265 1212.0,1262 1212.5,1265 1213.0,1262 1213.5,1263 1214.0,1258 1214.5,1249 1215.0,1243 1215.5,1243 1216.0,1255 1216.5,1234 1217.0,1253 1217.5,1246 1218.0,1257 1218.5,1253 1219.0,1246 1219.5,1252 1220.0,1235 1220.5,1255 1221.0,1257 1221.5,1240 1222.0,1260 1222.5,1253 1223.0,1255 1223.5,1244 1224.0,1259 1224.5,1258 1225.0,1254 1225.5,1246 1226.0,1259 1226.5,1262 1227.0,1256 1227.5,1260 1228.0,1248 1228.5,1254 1229.0,1255 1229.5,1254 1230.0,1269 1230.5,1256 1231.0,1249 1231.5,1259 1232.0,1246 1232.5,1257 1233.0,1260 1233.5,1251 1234.0,1253 1234.5,1248 1235.0,1257 1235.5,1251 1236.0,1269 1236.5,1262 1237.0,1256 1237.5,1247 1238.0,1273 1238.5,1268 1239.0,1262 1239.5,1260 1240.0,1260 1240.5,1255 1241.0,1284 1241.5,1259 1242.0,1247 1242.5,1253 1243.0,1240 1243.5,1268 1244.0,1264 1244.5,1272 1245.0,1275 1245.5,1254 1246.0,1263 1246.5,1267 1247.0,1266 1247.5,1256 1248.0,1265 1248.5,1263 1249.0,1269 1249.5,1258 1250.0,1255 1250.5,1254 1251.0,1254 1251.5,1251 1252.0,1254 1252.5,1263 1253.0,1259 1253.5,1264 1254.0,1262 1254.5,1259 1255.0,1239 1255.5,1258 1256.0,1262 1256.5,1244 1257.0,1239 1257.5,1247 1258.0,1247 1258.5,1253 1259.0,1249 1259.5,1259 1260.0,1248 1260.5,1256 1261.0,1254 1261.5,1251 1262.0,1266 1262.5,1259 1263.0,1263 1263.5,1257 1264.0,1264 1264.5,1264 1265.0,1258 1265.5,1245 1266.0,1264 1266.5,1262 1267.0,1258 1267.5,1258 1268.0,1257 1268.5,1257 1269.0,1248 1269.5,1254 1270.0,1257 1270.5,1250 1271.0,1248 1271.5,1269 1272.0,1260 1272.5,1254 1273.0,1253 1273.5,1240 1274.0,1247 1274.5,1256 1275.0,1267 1275.5,1243 1276.0,1252 1276.5,1271 1277.0,1262 1277.5,1260 1278.0,1265 1278.5,1256 1279.0,1255 1279.5,1262 1280.0,1263 1280.5,1250 1281.0,1269 1281.5,1246 1282.0,1254 1282.5,1276 1283.0,1257 1283.5,1265 1284.0,1254 1284.5,1259 1285.0,1256 1285.5,1258 1286.0,1266 1286.5,1274 1287.0,1268 1287.5,1273 1288.0,1258 1288.5,1272 1289.0,1265 1289.5,1271 1290.0,1259 1290.5,1260 1291.0,1272 1291.5,1267 1292.0,1264 1292.5,1259 1293.0,1263 1293.5,1268 1294.0,1270 1294.5,1261 1295.0,1262 1295.5,1267 1296.0,1256 1296.5,1270 1297.0,1263 1297.5,1261 1298.0,1245 1298.5,1249 1299.0,1253 1299.5,1256 1300.0,1251 1300.5,1262 1301.0,1260 1301.5,1257 1302.0,1244 1302.5,1269 1303.0,1256 1303.5,1266 1304.0,1254 1304.5,1259 1305.0,1264 1305.5,1261 1306.0,1266 1306.5,1258 1307.0,1273 1307.5,1245 1308.0,1254 1308.5,1265 1309.0,1255 1309.5,1254 1310.0,1244 1310.5,1265 1311.0,1243 1311.5,1260 1312.0,1257 1312.5,1262 1313.0,1267 1313.5,1251 1314.0,1251 1314.5,1255 1315.0,1235 1315.5,1263 1316.0,1251 1316.5,1257 1317.0,1247 1317.5,1254 1318.0,1249 1318.5,1252 1319.0,1243 1319.5,1257 1320.0,1244 1320.5,1232 1321.0,1252 1321.5,1244 1322.0,1240 1322.5,1262 1323.0,1245 1323.5,1236 1324.0,1241 1324.5,1247 1325.0,1242 1325.5,1252 1326.0,1250 1326.5,1236 1327.0,1242 1327.5,1245 1328.0,1237 1328.5,1236 1329.0,1244 1329.5,1241 1330.0,1227 1330.5,1232 1331.0,1232 1331.5,1234 1332.0,1229 1332.5,1243 1333.0,1225 1333.5,1223 1334.0,1231 1334.5,1212 1335.0,1220 1335.5,1230 1336.0,1215 1336.5,1217 1337.0,1230 1337.5,1224 1338.0,1220 1338.5,1220 1339.0,1212 1339.5,1217 1340.0,1212 1340.5,1229 1341.0,1214 1341.5,1205 1342.0,1204 1342.5,1198 1343.0,1179 1343.5,1173 1344.0,1182 1344.5,1157 1345.0,1163 1345.5,1162 1346.0,1159 1346.5,1154 1347.0,1152 1347.5,1147 1348.0,1142 1348.5,1131 1349.0,1121 1349.5,1109 1350.0,1094 1350.5,1079 1351.0,1075 1351.5,1077 1352.0,1084 1352.5,1090 1353.0,1104 1353.5,1111 1354.0,1119 1354.5,1131 1355.0,1135 1355.5,1146 1356.0,1149 1356.5,1156 1357.0,1162 1357.5,1170 1358.0,1174 1358.5,1187 1359.0,1192 1359.5,1207 1360.0,1191 1360.5,1203 1361.0,1207 1361.5,1201 1362.0,1208 1362.5,1210 1363.0,1224 1363.5,1226 1364.0,1235 1364.5,1225 1365.0,1213 1365.5,1236 1366.0,1238 1366.5,1242 1367.0,1248 1367.5,1236 1368.0,1247 1368.5,1235 1369.0,1244 1369.5,1249 1370.0,1244 1370.5,1247 1371.0,1236 1371.5,1242 1372.0,1249 1372.5,1240 1373.0,1243 1373.5,1267 1374.0,1253 1374.5,1246 1375.0,1245 1375.5,1263 1376.0,1238 1376.5,1253 1377.0,1260 1377.5,1253 1378.0,1261 1378.5,1251 1379.0,1259 1379.5,1259 1380.0,1259 1380.5,1260 1381.0,1260 1381.5,1267 1382.0,1257 1382.5,1255 1383.0,1257 1383.5,1257 1384.0,1249 1384.5,1246 1385.0,1251 1385.5,1263 1386.0,1257 1386.5,1259 1387.0,1279 1387.5,1269 1388.0,1260 1388.5,1257 1389.0,1271 1389.5,1255 1390.0,1269 1390.5,1264 1391.0,1270 1391.5,1255 1392.0,1266 1392.5,1247 1393.0,1258 1393.5,1267 1394.0,1265 1394.5,1247 1395.0,1265 1395.5,1263 1396.0,1259 1396.5,1254 1397.0,1257 1397.5,1254 1398.0,1265 1398.5,1262 1399.0,1266 1399.5,1264 1400.0,1250 1400.5,1261 1401.0,1275 1401.5,1246 1402.0,1263 1402.5,1256 1403.0,1255 1403.5,1263 1404.0,1268 1404.5,1267 1405.0,1265 1405.5,1268 1406.0,1250 1406.5,1267 1407.0,1263 1407.5,1259 1408.0,1260 1408.5,1254 1409.0,1268 1409.5,1255 1410.0,1249 1410.5,1259 1411.0,1256 1411.5,1259 1412.0,1271 1412.5,1259 1413.0,1261 1413.5,1276 1414.0,1250 1414.5,1262 1415.0,1268 1415.5,1270 1416.0,1275 1416.5,1254 1417.0,1262 1417.5,1257 1418.0,1254 1418.5,1252 1419.0,1246 1419.5,1259 1420.0,1262 1420.5,1249 1421.0,1262 1421.5,1253 1422.0,1250 1422.5,1242 1423.0,1265 1423.5,1263 1424.0,1256 1424.5,1255 1425.0,1249 1425.5,1263 1426.0,1259 1426.5,1264 1427.0,1262 1427.5,1251 1428.0,1251 1428.5,1268 1429.0,1252 1429.5,1267 1430.0,1271 1430.5,1255 1431.0,1268 1431.5,1263 1432.0,1266 1432.5,1257 1433.0,1261 1433.5,1264 1434.0,1274 1434.5,1266 1435.0,1264 1435.5,1252 1436.0,1264 1436.5,1257 1437.0,1261 1437.5,1264 1438.0,1269 1438.5,1266 1439.0,1263 1439.5,1261 1440.0,1270 1440.5,1254 1441.0,1260 1441.5,1268 1442.0,1257 1442.5,1263 1443.0,1263 1443.5,1270 1444.0,1263 1444.5,1242 1445.0,1253 1445.5,1254 1446.0,1257 1446.5,1255 1447.0,1263 1447.5,1256 1448.0,1239 1448.5,1242 1449.0,1231 1449.5,1257 1450.0,1243 1450.5,1241 1451.0,1230 1451.5,1236 1452.0,1242 1452.5,1232 1453.0,1229 1453.5,1225 1454.0,1241 1454.5,1221 1455.0,1212 1455.5,1217 1456.0,1217 1456.5,1217 1457.0,1215 1457.5,1208 1458.0,1213 1458.5,1216 1459.0,1202 1459.5,1224 1460.0,1220 1460.5,1193 1461.0,1206 1461.5,1200 1462.0,1197 1462.5,1193 1463.0,1191 1463.5,1186 1464.0,1181 1464.5,1175 1465.0,1169 1465.5,1163 1466.0,1157 1466.5,1143 1467.0,1125 1467.5,1123 1468.0,1122 1468.5,1128 1469.0,1138 1469.5,1146 1470.0,1151 1470.5,1159 1471.0,1168 1471.5,1176 1472.0,1182 1472.5,1191 1473.0,1197 1473.5,1203 1474.0,1205 1474.5,1213 1475.0,1206 1475.5,1215 1476.0,1223 1476.5,1218 1477.0,1216 1477.5,1237 1478.0,1222 1478.5,1236 1479.0,1245 1479.5,1246 1480.0,1229 1480.5,1242 1481.0,1245 1481.5,1247 1482.0,1254 1482.5,1254 1483.0,1252 1483.5,1254 1484.0,1259 1484.5,1261 1485.0,1238 1485.5,1267 1486.0,1247 1486.5,1256 1487.0,1239 1487.5,1246 1488.0,1241 1488.5,1258 1489.0,1258 1489.5,1252 1490.0,1252 1490.5,1256 1491.0,1248 1491.5,1251 1492.0,1251 1492.5,1262 1493.0,1257 1493.5,1248 1494.0,1260 1494.5,1261 1495.0,1267 1495.5,1254 1496.0,1261 1496.5,1273 1497.0,1256 1497.5,1256 1498.0,1263 1498.5,1255 1499.0,1259 1499.5,1255 1500.0,1253 1500.5,1265 1501.0,1255 1501.5,1251 1502.0,1255 1502.5,1256 1503.0,1258 1503.5,1262 1504.0,1268 1504.5,1247 1505.0,1254 1505.5,1243 1506.0,1257 1506.5,1259 1507.0,1251 1507.5,1249 1508.0,1249 1508.5,1245 1509.0,1260 1509.5,1269 1510.0,1247 1510.5,1266 1511.0,1253 1511.5,1243 1512.0,1256 1512.5,1257 1513.0,1253 1513.5,1248 1514.0,1261 1514.5,1247 1515.0,1253 1515.5,1253 1516.0,1242 1516.5,1235 1517.0,1236 1517.5,1245 1518.0,1250 1518.5,1235 1519.0,1243 1519.5,1258 1520.0,1235 1520.5,1250 1521.0,1249 1521.5,1251 1522.0,1234 1522.5,1246 1523.0,1232 1523.5,1250 1524.0,1233 1524.5,1240 1525.0,1230 1525.5,1235 1526.0,1221 1526.5,1232 1527.0,1233 1527.5,1227 1528.0,1236 1528.5,1226 1529.0,1227 1529.5,1223 1530.0,1231 1530.5,1212 1531.0,1213 1531.5,1211 1532.0,1215 1532.5,1211 1533.0,1212 1533.5,1206 1534.0,1198 1534.5,1199 1535.0,1199 1535.5,1178 1536.0,1200 1536.5,1183 1537.0,1181 1537.5,1182 1538.0,1174 1538.5,1161 1539.0,1165 1539.5,1171 1540.0,1161 1540.5,1154 1541.0,1149 1541.5,1143 1542.0,1135 1542.5,1131 1543.0,1122 1543.5,1117 1544.0,1110 1544.5,1099 1545.0,1095 1545.5,1077 1546.0,1043 1546.5,1012 1547.0,1008 1547.5,1012 1548.0,1033 1548.5,1056 1549.0,1070 1549.5,1082 1550.0,1091 1550.5,1099 1551.0,1102 1551.5,1107 1552.0,1109 1552.5,1117 1553.0,1120 1553.5,1128 1554.0,1135 1554.5,1157 1555.0,1155 1555.5,1160 1556.0,1174 1556.5,1170 1557.0,1179 1557.5,1183 1558.0,1206 1558.5,1201 1559.0,1205 1559.5,1212 1560.0,1207 1560.5,1210 1561.0,1203 1561.5,1221 1562.0,1221 1562.5,1219 1563.0,1232 1563.5,1213 1564.0,1230 1564.5,1219 1565.0,1223 1565.5,1231 1566.0,1243 1566.5,1227 1567.0,1230 1567.5,1230 1568.0,1254 1568.5,1245 1569.0,1246 1569.5,1259 1570.0,1248 1570.5,1233 1571.0,1246 1571.5,1242 1572.0,1266 1572.5,1243 1573.0,1256 1573.5,1251 1574.0,1252 1574.5,1256 1575.0,1255 1575.5,1252 1576.0,1248 1576.5,1253 1577.0,1250 1577.5,1252 1578.0,1260 1578.5,1258 1579.0,1266 1579.5,1258 1580.0,1274 1580.5,1256 1581.0,1254 1581.5,1275 1582.0,1257 1582.5,1264 1583.0,1270 1583.5,1263 1584.0,1261 1584.5,1271 1585.0,1267 1585.5,1261 1586.0,1257 1586.5,1263 1587.0,1254 1587.5,1260 1588.0,1258 1588.5,1268 1589.0,1271 1589.5,1261 1590.0,1262 1590.5,1258 1591.0,1256 1591.5,1263 1592.0,1270 1592.5,1269 1593.0,1270 1593.5,1265 1594.0,1251 1594.5,1274 1595.0,1277 1595.5,1275 1596.0,1275 1596.5,1277 1597.0,1285 1597.5,1271 1598.0,1280 1598.5,1274 1599.0,1273 1599.5,1267 1600.0,1265 1600.5,1260 1601.0,1273 1601.5,1267 1602.0,1261 1602.5,1265 1603.0,1262 1603.5,1283 1604.0,1270 1604.5,1273 1605.0,1263 1605.5,1265 1606.0,1280 1606.5,1271 1607.0,1274 1607.5,1286 1608.0,1287 1608.5,1277 1609.0,1276 1609.5,1274 1610.0,1271 1610.5,1288 1611.0,1266 1611.5,1274 1612.0,1262 1612.5,1267 1613.0,1279 1613.5,1280 1614.0,1279 1614.5,1274 1615.0,1271 1615.5,1272 1616.0,1273 1616.5,1283 1617.0,1286 1617.5,1278 1618.0,1271 1618.5,1268 1619.0,1277 1619.5,1273 1620.0,1262 1620.5,1285 1621.0,1276 1621.5,1274 1622.0,1270 1622.5,1270 1623.0,1283 1623.5,1270 1624.0,1278 1624.5,1282 1625.0,1291 1625.5,1282 1626.0,1277 1626.5,1274 1627.0,1284 1627.5,1285 1628.0,1275 1628.5,1282 1629.0,1277 1629.5,1266 1630.0,1271 1630.5,1284 1631.0,1288 1631.5,1282 1632.0,1276 1632.5,1271 1633.0,1280 1633.5,1278 1634.0,1264 1634.5,1280 1635.0,1270 1635.5,1280 1636.0,1279 1636.5,1280 1637.0,1282 1637.5,1280 1638.0,1267 1638.5,1268 1639.0,1283 1639.5,1279 1640.0,1265 1640.5,1262 1641.0,1283 1641.5,1293 1642.0,1284 1642.5,1277 1643.0,1281 1643.5,1263 1644.0,1273 1644.5,1288 1645.0,1287 1645.5,1266 1646.0,1290 1646.5,1285 1647.0,1288 1647.5,1279 1648.0,1280 1648.5,1272 1649.0,1281 1649.5,1284 1650.0,1270 1650.5,1279 1651.0,1272 1651.5,1283 1652.0,1282 1652.5,1259 1653.0,1278 1653.5,1282 1654.0,1271 1654.5,1274 1655.0,1275 1655.5,1268 1656.0,1276 1656.5,1288 1657.0,1280 1657.5,1288 1658.0,1284 1658.5,1286 1659.0,1278 1659.5,1283 1660.0,1292 1660.5,1289 1661.0,1281 1661.5,1273 1662.0,1272 1662.5,1280 1663.0,1281 1663.5,1265 1664.0,1280 1664.5,1280 1665.0,1280 1665.5,1274 1666.0,1293 1666.5,1289 1667.0,1268 1667.5,1273 1668.0,1284 1668.5,1282 1669.0,1279 1669.5,1278 1670.0,1277 1670.5,1275 1671.0,1271 1671.5,1282 1672.0,1262 1672.5,1272 1673.0,1286 1673.5,1271 1674.0,1268 1674.5,1291 1675.0,1285 1675.5,1276 1676.0,1273 1676.5,1276 1677.0,1275 1677.5,1276 1678.0,1273 1678.5,1282 1679.0,1274 1679.5,1255 1680.0,1269 1680.5,1279 1681.0,1271 1681.5,1263 1682.0,1290 1682.5,1283 1683.0,1277 1683.5,1273 1684.0,1284 1684.5,1291 1685.0,1276 1685.5,1284 1686.0,1276 1686.5,1284 1687.0,1271 1687.5,1265 1688.0,1279 1688.5,1277 1689.0,1282 1689.5,1272 1690.0,1287 1690.5,1277 1691.0,1288 1691.5,1274 1692.0,1288 1692.5,1277 1693.0,1279 1693.5,1285 1694.0,1265 1694.5,1270 1695.0,1290 1695.5,1266 1696.0,1273 1696.5,1280 1697.0,1287 1697.5,1272 1698.0,1277 1698.5,1268 1699.0,1274 1699.5,1284 1700.0,1280 1700.5,1278 1701.0,1282 1701.5,1281 1702.0,1281 1702.5,1278 1703.0,1273 1703.5,1285 1704.0,1272 1704.5,1287 1705.0,1295 1705.5,1290 1706.0,1295 1706.5,1271 1707.0,1280 1707.5,1271 1708.0,1272 1708.5,1264 1709.0,1267 1709.5,1282 1710.0,1281 1710.5,1284 1711.0,1284 1711.5,1281 1712.0,1269 1712.5,1274 1713.0,1280 1713.5,1284 1714.0,1272 1714.5,1272 1715.0,1273 1715.5,1288 1716.0,1281 1716.5,1275 1717.0,1272 1717.5,1281 1718.0,1266 1718.5,1276 1719.0,1273 1719.5,1273 1720.0,1278 1720.5,1279 1721.0,1292 1721.5,1277 1722.0,1281 1722.5,1270 1723.0,1264 1723.5,1285 1724.0,1291 1724.5,1270 1725.0,1276 1725.5,1285 1726.0,1278 1726.5,1261 1727.0,1284 1727.5,1276 1728.0,1283 1728.5,1271 1729.0,1284 1729.5,1286 1730.0,1274 1730.5,1283 1731.0,1276 1731.5,1277 1732.0,1275 1732.5,1279 1733.0,1277 1733.5,1291 1734.0,1281 1734.5,1275 1735.0,1293 1735.5,1287 1736.0,1290 1736.5,1282 1737.0,1287 1737.5,1281 1738.0,1274 1738.5,1282 1739.0,1281 1739.5,1281 1740.0,1286 1740.5,1267 1741.0,1281 1741.5,1273 1742.0,1277 1742.5,1282 1743.0,1279 1743.5,1274 1744.0,1284 1744.5,1278 1745.0,1286 1745.5,1288 1746.0,1277 1746.5,1272 1747.0,1280 1747.5,1286 1748.0,1283 1748.5,1272 1749.0,1269 1749.5,1269 1750.0,1274 1750.5,1285 1751.0,1281 1751.5,1287 1752.0,1280 1752.5,1293 1753.0,1281 1753.5,1285 1754.0,1279 1754.5,1285 1755.0,1290 1755.5,1288 1756.0,1292 1756.5,1279 1757.0,1287 1757.5,1296 1758.0,1288 1758.5,1284 1759.0,1283 1759.5,1281 1760.0,1288 1760.5,1296 1761.0,1289 1761.5,1286 1762.0,1281 1762.5,1272 1763.0,1302 1763.5,1283 1764.0,1287 1764.5,1282 1765.0,1287 1765.5,1282 1766.0,1286 1766.5,1296 1767.0,1281 1767.5,1290 1768.0,1286 1768.5,1292 1769.0,1282 1769.5,1290 1770.0,1280 1770.5,1274 1771.0,1278 1771.5,1280 1772.0,1278 1772.5,1283 1773.0,1293 1773.5,1277 1774.0,1287 1774.5,1285 1775.0,1279 1775.5,1277 1776.0,1287 1776.5,1288 1777.0,1282 1777.5,1284 1778.0,1286 1778.5,1277 1779.0,1288 1779.5,1289 1780.0,1300 1780.5,1279 1781.0,1282 1781.5,1288 1782.0,1284 1782.5,1283 1783.0,1288 1783.5,1286 1784.0,1287 1784.5,1290 1785.0,1275 1785.5,1290 1786.0,1270 1786.5,1298 1787.0,1292 1787.5,1281 1788.0,1292 1788.5,1284 1789.0,1288 1789.5,1290 1790.0,1288 1790.5,1285 1791.0,1290 1791.5,1285 1792.0,1284 1792.5,1280 1793.0,1274 1793.5,1307 1794.0,1293 1794.5,1277 1795.0,1290 1795.5,1289 1796.0,1272 1796.5,1282 1797.0,1287 1797.5,1300 1798.0,1296 1798.5,1297 1799.0,1291 1799.5,1296 1800.0,1274 1800.5,1294 1801.0,1295 1801.5,1282 1802.0,1293 1802.5,1302 1803.0,1305 1803.5,1310 1804.0,1287 1804.5,1291 1805.0,1289 1805.5,1301 1806.0,1287 1806.5,1285 1807.0,1281 1807.5,1294 1808.0,1295 1808.5,1288 1809.0,1286 1809.5,1290 1810.0,1300 1810.5,1281 1811.0,1289 1811.5,1291 1812.0,1292 1812.5,1297 1813.0,1294 1813.5,1290 1814.0,1298 1814.5,1296 1815.0,1290 1815.5,1290 1816.0,1280 1816.5,1289 1817.0,1283 1817.5,1280 1818.0,1287 1818.5,1277 1819.0,1283 1819.5,1286 1820.0,1293 1820.5,1289 1821.0,1294 1821.5,1302 1822.0,1297 1822.5,1283 1823.0,1279 1823.5,1285 1824.0,1285 1824.5,1277 1825.0,1279 1825.5,1279 1826.0,1287 1826.5,1301 1827.0,1303 1827.5,1284 1828.0,1288 1828.5,1282 1829.0,1280 1829.5,1291 1830.0,1292 1830.5,1287 1831.0,1295 1831.5,1289 1832.0,1298 1832.5,1287 1833.0,1297 1833.5,1290 1834.0,1292 1834.5,1296 1835.0,1282 1835.5,1286 1836.0,1291 1836.5,1290 1837.0,1294 1837.5,1287 1838.0,1284 1838.5,1292 1839.0,1295 1839.5,1288 1840.0,1302 1840.5,1299 1841.0,1300 1841.5,1300 1842.0,1289 1842.5,1310 1843.0,1291 1843.5,1299 1844.0,1302 1844.5,1299 1845.0,1299 1845.5,1292 1846.0,1295 1846.5,1297 1847.0,1306 1847.5,1292 1848.0,1301 1848.5,1298 1849.0,1295 1849.5,1291 1850.0,1293 1850.5,1282 1851.0,1295 1851.5,1297 1852.0,1292 1852.5,1300 1853.0,1299 1853.5,1293 1854.0,1305 1854.5,1296 1855.0,1316 1855.5,1294 1856.0,1295 1856.5,1296 1857.0,1302 1857.5,1308 1858.0,1300 1858.5,1296 1859.0,1311 1859.5,1304 1860.0,1294 1860.5,1295 1861.0,1284 1861.5,1295 1862.0,1306 1862.5,1286 1863.0,1284 1863.5,1295 1864.0,1278 1864.5,1305 1865.0,1285 1865.5,1291 1866.0,1295 1866.5,1305 1867.0,1299 1867.5,1284 1868.0,1285 1868.5,1299 1869.0,1283 1869.5,1295 1870.0,1293 1870.5,1305 1871.0,1308 1871.5,1283 1872.0,1302 1872.5,1307 1873.0,1293 1873.5,1294 1874.0,1289 1874.5,1294 1875.0,1299 1875.5,1305 1876.0,1306 1876.5,1294 1877.0,1290 1877.5,1303 1878.0,1281 1878.5,1287 1879.0,1301 1879.5,1313 1880.0,1292 1880.5,1298 1881.0,1290 1881.5,1297 1882.0,1297 1882.5,1293 1883.0,1301 1883.5,1297 1884.0,1303 1884.5,1298 1885.0,1292 1885.5,1301 1886.0,1307 1886.5,1295 1887.0,1310 1887.5,1304 1888.0,1298 1888.5,1300 1889.0,1296 1889.5,1292 1890.0,1305 1890.5,1304 1891.0,1295 1891.5,1296 1892.0,1296 1892.5,1303 1893.0,1308 1893.5,1294 1894.0,1301 1894.5,1299 1895.0,1303 1895.5,1309 1896.0,1293 1896.5,1285 1897.0,1298 1897.5,1288 1898.0,1311 1898.5,1294 1899.0,1297 1899.5,1300 1900.0,1300 1900.5,1295 1901.0,1299 1901.5,1305 1902.0,1297 1902.5,1312 1903.0,1302 1903.5,1284 1904.0,1307 1904.5,1289 1905.0,1304 1905.5,1317 1906.0,1315 1906.5,1294 1907.0,1296 1907.5,1302 1908.0,1312 1908.5,1297 1909.0,1309 1909.5,1304 1910.0,1301 1910.5,1301 1911.0,1314 1911.5,1291 1912.0,1294 1912.5,1308 1913.0,1308 1913.5,1292 1914.0,1294 1914.5,1292 1915.0,1304 1915.5,1295 1916.0,1310 1916.5,1305 1917.0,1304 1917.5,1302 1918.0,1305 1918.5,1308 1919.0,1302 1919.5,1305 1920.0,1309 1920.5,1304 1921.0,1312 1921.5,1304 1922.0,1300 1922.5,1307 1923.0,1317 1923.5,1316 1924.0,1295 1924.5,1308 1925.0,1302 1925.5,1303 1926.0,1302 1926.5,1303 1927.0,1300 1927.5,1302 1928.0,1305 1928.5,1295 1929.0,1295 1929.5,1296 1930.0,1296 1930.5,1308 1931.0,1297 1931.5,1305 1932.0,1306 1932.5,1312 1933.0,1307 1933.5,1315 1934.0,1307 1934.5,1310 1935.0,1313 1935.5,1297 1936.0,1310 1936.5,1317 1937.0,1307 1937.5,1303 1938.0,1317 1938.5,1303 1939.0,1310 1939.5,1285 1940.0,1301 1940.5,1296 1941.0,1302 1941.5,1308 1942.0,1298 1942.5,1298 1943.0,1284 1943.5,1306 1944.0,1310 1944.5,1302 1945.0,1298 1945.5,1305 1946.0,1310 1946.5,1308 1947.0,1318 1947.5,1300 1948.0,1294 1948.5,1308 1949.0,1313 1949.5,1301 1950.0,1305 1950.5,1300 1951.0,1296 1951.5,1300 1952.0,1290 1952.5,1306 1953.0,1308 1953.5,1311 1954.0,1298 1954.5,1299 1955.0,1292 1955.5,1293 1956.0,1309 1956.5,1319 1957.0,1295 1957.5,1300 1958.0,1309 1958.5,1298 1959.0,1307 1959.5,1302 1960.0,1302 1960.5,1311 1961.0,1304 1961.5,1298 1962.0,1313 1962.5,1308 1963.0,1304 1963.5,1302 1964.0,1312 1964.5,1303 1965.0,1309 1965.5,1315 1966.0,1307 1966.5,1315 1967.0,1297 1967.5,1310 1968.0,1309 1968.5,1318 1969.0,1304 1969.5,1310 1970.0,1302 1970.5,1295 1971.0,1296 1971.5,1298 1972.0,1308 1972.5,1297 1973.0,1303 1973.5,1310 1974.0,1312 1974.5,1310 1975.0,1314 1975.5,1295 1976.0,1300 1976.5,1305 1977.0,1311 1977.5,1306 1978.0,1297 1978.5,1302 1979.0,1292 1979.5,1309 1980.0,1292 1980.5,1306 1981.0,1319 1981.5,1312 1982.0,1295 1982.5,1308 1983.0,1304 1983.5,1304 1984.0,1317 1984.5,1308 1985.0,1296 1985.5,1298 1986.0,1310 1986.5,1307 1987.0,1298 1987.5,1294 1988.0,1302 1988.5,1303 1989.0,1311 1989.5,1301 1990.0,1310 1990.5,1314 1991.0,1294 1991.5,1301 1992.0,1316 1992.5,1301 1993.0,1304 1993.5,1311 1994.0,1299 1994.5,1301 1995.0,1292 1995.5,1308 1996.0,1298 1996.5,1302 1997.0,1289 1997.5,1311 1998.0,1313 1998.5,1299 1999.0,1313 1999.5,1288 2000.0,1303 2000.5,1291 2001.0,1319 2001.5,1287 2002.0,1294 2002.5,1293 2003.0,1309 2003.5,1309 2004.0,1307 2004.5,1303 2005.0,1320 2005.5,1301 2006.0,1308 2006.5,1319 2007.0,1298 2007.5,1301 2008.0,1314 2008.5,1309 2009.0,1297 2009.5,1306 2010.0,1319 2010.5,1304 2011.0,1311 2011.5,1307 2012.0,1301 2012.5,1317 2013.0,1313 2013.5,1315 2014.0,1305 2014.5,1307 2015.0,1308 2015.5,1309 2016.0,1303 2016.5,1302 2017.0,1314 2017.5,1297 2018.0,1302 2018.5,1302 2019.0,1301 2019.5,1296 2020.0,1299 2020.5,1311 2021.0,1302 2021.5,1300 2022.0,1317 2022.5,1295 2023.0,1312 2023.5,1307 2024.0,1295 2024.5,1301 2025.0,1301 2025.5,1312 2026.0,1308 2026.5,1298 2027.0,1291 2027.5,1285 2028.0,1294 2028.5,1284 2029.0,1291 2029.5,1289 2030.0,1292 2030.5,1295 2031.0,1287 2031.5,1289 2032.0,1283 2032.5,1291 2033.0,1289 2033.5,1294 2034.0,1292 2034.5,1276 2035.0,1271 2035.5,1285 2036.0,1288 2036.5,1275 2037.0,1290 2037.5,1279 2038.0,1277 2038.5,1280 2039.0,1266 2039.5,1264 2040.0,1272 2040.5,1264 2041.0,1271 2041.5,1270 2042.0,1253 2042.5,1262 2043.0,1270 2043.5,1251 2044.0,1263 2044.5,1256 2045.0,1251 2045.5,1273 2046.0,1272 2046.5,1262 2047.0,1261 2047.5,1258 2048.0,1269 2048.5,1276 2049.0,1286 2049.5,1284 2050.0,1282 2050.5,1295 2051.0,1287 2051.5,1300 2052.0,1295 2052.5,1294 2053.0,1294 2053.5,1302 2054.0,1306 2054.5,1303 2055.0,1294 2055.5,1305 2056.0,1295 2056.5,1294 2057.0,1301 2057.5,1309 2058.0,1309 2058.5,1308 2059.0,1314 2059.5,1310 2060.0,1301 2060.5,1309 2061.0,1301 2061.5,1305 2062.0,1307 2062.5,1302 2063.0,1292 2063.5,1301 2064.0,1300 2064.5,1302 2065.0,1300 2065.5,1295 2066.0,1292 2066.5,1308 2067.0,1309 2067.5,1306 2068.0,1304 2068.5,1319 2069.0,1310 2069.5,1307 2070.0,1314 2070.5,1309 2071.0,1315 2071.5,1313 2072.0,1316 2072.5,1313 2073.0,1309 2073.5,1316 2074.0,1320 2074.5,1305 2075.0,1307 2075.5,1303 2076.0,1317 2076.5,1309 2077.0,1316 2077.5,1305 2078.0,1316 2078.5,1307 2079.0,1309 2079.5,1317 2080.0,1311 2080.5,1310 2081.0,1321 2081.5,1315 2082.0,1324 2082.5,1332 2083.0,1311 2083.5,1313 2084.0,1304 2084.5,1306 2085.0,1317 2085.5,1314 2086.0,1313 2086.5,1314 2087.0,1304 2087.5,1298 2088.0,1317 2088.5,1311 2089.0,1317 2089.5,1310 2090.0,1316 2090.5,1308 2091.0,1312 2091.5,1312 2092.0,1316 2092.5,1323 2093.0,1318 2093.5,1298 2094.0,1312 2094.5,1313 2095.0,1318 2095.5,1312 2096.0,1306 2096.5,1305 2097.0,1308 2097.5,1305 2098.0,1320 2098.5,1314 2099.0,1311 2099.5,1317 2100.0,1326 2100.5,1310 2101.0,1311 2101.5,1310 2102.0,1303 2102.5,1308 2103.0,1305 2103.5,1315 2104.0,1315 2104.5,1318 2105.0,1306 2105.5,1318 2106.0,1305 2106.5,1311 2107.0,1321 2107.5,1322 2108.0,1321 2108.5,1329 2109.0,1322 2109.5,1313 2110.0,1314 2110.5,1310 2111.0,1317 2111.5,1310 2112.0,1311 2112.5,1308 2113.0,1303 2113.5,1330 2114.0,1319 2114.5,1298 2115.0,1315 2115.5,1308 2116.0,1296 2116.5,1309 2117.0,1311 2117.5,1313 2118.0,1317 2118.5,1303 2119.0,1309 2119.5,1314 2120.0,1313 2120.5,1312 2121.0,1311 2121.5,1319 2122.0,1303 2122.5,1301 2123.0,1324 2123.5,1316 2124.0,1321 2124.5,1315 2125.0,1312 2125.5,1311 2126.0,1316 2126.5,1312 2127.0,1316 2127.5,1316 2128.0,1323 2128.5,1323 2129.0,1329 2129.5,1313 2130.0,1318 2130.5,1325 2131.0,1320 2131.5,1301 2132.0,1320 2132.5,1317 2133.0,1314 2133.5,1314 2134.0,1312 2134.5,1325 2135.0,1322 2135.5,1319 2136.0,1326 2136.5,1325 2137.0,1313 2137.5,1312 2138.0,1313 2138.5,1325 2139.0,1320 2139.5,1329 2140.0,1324 2140.5,1319 2141.0,1312 2141.5,1319 2142.0,1336 2142.5,1315 2143.0,1314 2143.5,1318 2144.0,1328 2144.5,1318 2145.0,1310 2145.5,1312 2146.0,1315 2146.5,1316 2147.0,1322 2147.5,1330"/>
<rect x="150.1" y="31.3" width="2015.4" height="1487.4" fill="none" stroke="#000" stroke-width="10.6"/>
<rect x="164.2" y="1489.6" width="10.6" height="26.4" fill="#000"/>
<rect x="274.1" y="1503" width="10.6" height="13.0" fill="#000"/>
<rect x="383.9" y="1489.6" width="10.6" height="26.4" fill="#000"/>
<rect x="493.7" y="1503" width="10.6" height="13.0" fill="#000"/>
<rect x="603.5" y="1489.6" width="10.6" height="26.4" fill="#000"/>
<rect x="713.3" y="1503" width="10.6" height="13.0" fill="#000"/>
<rect x="823.1" y="1489.6" width="10.6" height="26.4" fill="#000"/>
<rect x="932.9" y="1503" width="10.6" height="13.0" fill="#000"/>
<rect x="1042.7" y="1489.6" width="10.6" height="26.4" fill="#000"/>
<rect x="1152.6" y="1503" width="10.6" height="13.0" fill="#000"/>
<rect x="1262.4" y="1489.6" width="10.6" height="26.4" fill="#000"/>
<rect x="1372.2" y="1503" width="10.6" height="13.0" fill="#000"/>
<rect x="1482.0" y="1489.6" width="10.6" height="26.4" fill="#000"/>
<rect x="1591.8" y="1503" width="10.6" height="13.0" fill="#000"/>
<rect x="1701.6" y="1489.6" width="10.6" height="26.4" fill="#000"/>
<rect x="1811.4" y="1503" width="10.6" height="13.0" fill="#000"/>
<rect x="1921.2" y="1489.6" width="10.6" height="26.4" fill="#000"/>
<rect x="2031.1" y="1503" width="10.6" height="13.0" fill="#000"/>
<rect x="2140.9" y="1489.6" width="10.6" height="26.4" fill="#000"/>
<text class="tk" x="169.5" y="1608.5">5</text>
<text class="tk" x="389.2" y="1608.5">10</text>
<text class="tk" x="608.8" y="1608.5">15</text>
<text class="tk" x="828.4" y="1608.5">20</text>
<text class="tk" x="1048.0" y="1608.5">25</text>
<text class="tk" x="1267.7" y="1608.5">30</text>
<text class="tk" x="1487.3" y="1608.5">35</text>
<text class="tk" x="1706.9" y="1608.5">40</text>
<text class="tk" x="1926.5" y="1608.5">45</text>
<text class="tk" x="2146.2" y="1608.5">50</text>
<text class="ax" x="1146" y="1726.8">Two-Theta/deg</text>
<text class="ax" transform="translate(92,831.8) rotate(-90)">Intensity/Counts</text>
<line x1="1569.5" y1="106.3" x2="1726.5" y2="106.3" stroke="#2039ff" stroke-width="8"/>
<text class="lg" x="1725.5" y="128.9" fill="#2039ff">SSP</text>
<line x1="1569.5" y1="189.6" x2="1726.5" y2="189.6" stroke="#000" stroke-width="8"/>
<text class="lg" x="1725.5" y="211.7" fill="#000">ZnO/PVA</text>
<line x1="1569.5" y1="273.4" x2="1726.5" y2="273.4" stroke="#ff0000" stroke-width="8"/>
<text class="lg" x="1725.5" y="295.8" fill="#ff0000">SSP/ZnO/PVA</text>
<text class="an" x="572" y="358" fill="#2039ff">16°</text>
<text class="an" x="773" y="403.5" fill="#2039ff">17°</text>
<text class="an" x="1000" y="284.3" fill="#2039ff">22°</text>
<text class="an" x="1098.5" y="464.3" fill="#2039ff">25°</text>
<text class="an" x="1228" y="511" fill="#2039ff">27°</text>
<text class="an" x="1423" y="547" fill="#2039ff">32°</text>
<text class="an" x="579" y="640" fill="#000">19°</text>
<text class="an" x="1169" y="711" fill="#000">31°</text>
<text class="an" x="1383" y="694" fill="#000">34°</text>
<text class="an" x="1634" y="717.5" fill="#000">36°</text>
<text class="an" x="634" y="952.5" fill="#ff0000">21°</text>
<text class="an" x="1141" y="1071" fill="#ff0000">31°</text>
<text class="an" x="1377" y="1046.5" fill="#ff0000">34°</text>
<text class="an" x="1614" y="1030" fill="#ff0000">36°</text>
<line x1="615.3" y1="369.6" x2="620.5" y2="406.5" stroke="#2039ff" stroke-width="6.8"/><polygon points="627.0,453.0 607.2,404.3 620.5,406.5 632.6,400.7" fill="#2039ff"/>
<line x1="765.9" y1="410.0" x2="734.8" y2="445.6" stroke="#2039ff" stroke-width="6.8"/><polygon points="704.0,481.0 727.9,434.1 734.8,445.6 747.2,451.0" fill="#2039ff"/>
<line x1="988.0" y1="274.0" x2="960.0" y2="304.8" stroke="#2039ff" stroke-width="6.8"/><polygon points="928.5,339.5 953.3,293.1 960.0,304.8 972.3,310.4" fill="#2039ff"/>
<line x1="1097.0" y1="480.5" x2="1065.0" y2="514.7" stroke="#2039ff" stroke-width="6.8"/><polygon points="1033.0,549.0 1058.5,503.0 1065.0,514.7 1077.2,520.5" fill="#2039ff"/>
<line x1="1224.7" y1="516.0" x2="1193.3" y2="551.1" stroke="#2039ff" stroke-width="6.8"/><polygon points="1162.0,586.0 1186.5,539.5 1193.3,551.1 1205.6,556.6" fill="#2039ff"/>
<line x1="1401.0" y1="529.0" x2="1375.2" y2="550.2" stroke="#2039ff" stroke-width="6.8"/><polygon points="1339.0,580.0 1370.3,537.7 1375.2,550.2 1386.5,557.5" fill="#2039ff"/>
<line x1="717.5" y1="592.2" x2="754.0" y2="601.2" stroke="#000" stroke-width="6.8"/><polygon points="799.5,612.5 746.9,612.7 754.0,601.2 753.1,587.8" fill="#000"/>
<line x1="1269.5" y1="684.4" x2="1302.7" y2="707.9" stroke="#000" stroke-width="6.8"/><polygon points="1341.0,735.0 1292.0,716.0 1302.7,707.9 1306.8,695.1" fill="#000"/>
<line x1="1439.6" y1="707.8" x2="1450.0" y2="740.9" stroke="#000" stroke-width="6.8"/><polygon points="1464.0,785.7 1436.5,740.9 1450.0,740.9 1461.0,733.2" fill="#000"/>
<line x1="1620.0" y1="657.0" x2="1586.7" y2="664.6" stroke="#000" stroke-width="6.8"/><polygon points="1541.0,675.0 1587.9,651.2 1586.7,664.6 1593.6,676.2" fill="#000"/>
<line x1="747.0" y1="855.7" x2="775.2" y2="851.1" stroke="#ff0000" stroke-width="6.8"/><polygon points="821.5,843.6 773.2,864.4 775.2,851.1 769.1,839.1" fill="#ff0000"/>
<line x1="1264.3" y1="1040.8" x2="1311.0" y2="1058.2" stroke="#ff0000" stroke-width="6.8"/><polygon points="1355.0,1074.5 1302.7,1068.7 1311.0,1058.2 1311.7,1044.7" fill="#ff0000"/>
<line x1="1425.3" y1="1065.5" x2="1441.5" y2="1089.1" stroke="#ff0000" stroke-width="6.8"/><polygon points="1468.0,1127.8 1428.6,1093.0 1441.5,1089.1 1449.7,1078.5" fill="#ff0000"/>
<line x1="1604.5" y1="975.8" x2="1586.4" y2="990.4" stroke="#ff0000" stroke-width="6.8"/><polygon points="1550.0,1020.0 1581.5,977.9 1586.4,990.4 1597.7,997.8" fill="#ff0000"/>
</svg></body></html>
